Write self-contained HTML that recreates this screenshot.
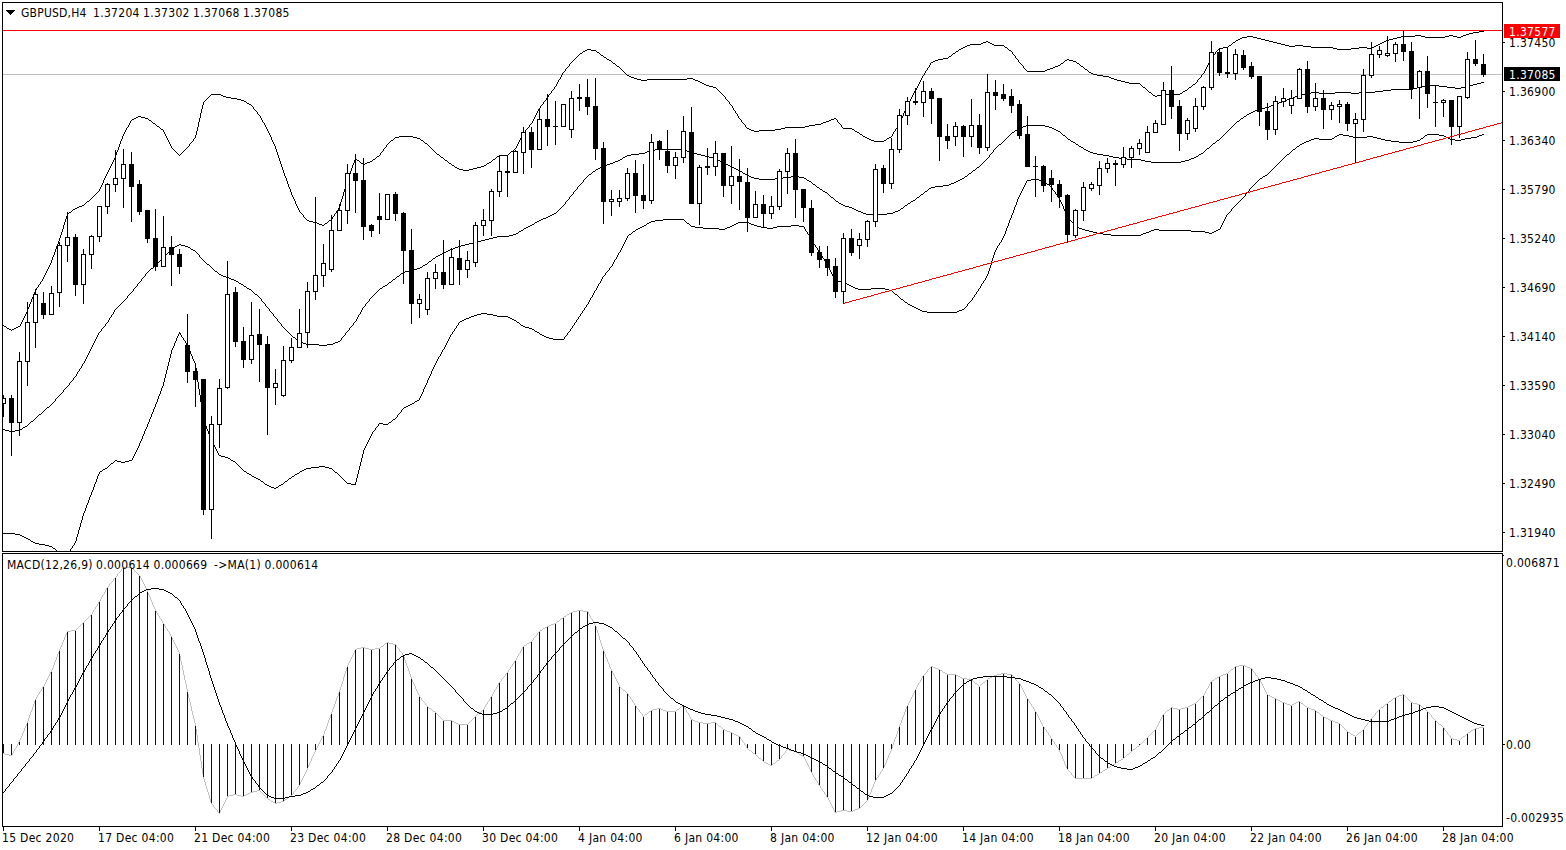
<!DOCTYPE html>
<html><head><meta charset="utf-8"><title>GBPUSD,H4</title>
<style>
html,body{margin:0;padding:0;background:#fff;overflow:hidden}
svg{display:block}
text{font-family:"DejaVu Sans Condensed","DejaVu Sans","Liberation Sans",sans-serif;font-size:12px;fill:#000;font-stretch:condensed;letter-spacing:0.3px}
</style></head><body>
<svg width="1566" height="850" viewBox="0 0 1566 850">
<rect x="0" y="0" width="1566" height="850" fill="#fff"/>
<defs>
<clipPath id="cm"><rect x="3" y="3" width="1499" height="548"/></clipPath>
<clipPath id="cd"><rect x="3" y="554" width="1499" height="272"/></clipPath>
</defs>

<g shape-rendering="crispEdges" fill="none" stroke="#000" stroke-width="1">
<path d="M2.5,551.5 V2.5 H1502.5 V551.5 H2.5"/>
<path d="M2.5,826.5 V553.5 H1502.5 V826.5 H2.5"/>
</g>
<g clip-path="url(#cm)">
<g shape-rendering="crispEdges">
<line x1="3" y1="74.5" x2="1502" y2="74.5" stroke="#c0c0c0" stroke-width="1"/>
<line x1="3" y1="30.5" x2="1502" y2="30.5" stroke="#ff0000" stroke-width="1"/>
</g>
<g fill="none" stroke="#000" stroke-width="1" shape-rendering="crispEdges">
<path fill="#000" stroke="none" shape-rendering="crispEdges" d="M1479 31h5v1h-5zM1473 32h6v1h-6zM1469 33h4v1h-4zM1466 34h3v1h-3zM1415 35h6v1h-6zM1449 35h4v1h-4zM1463 35h3v1h-3zM1247 36h6v1h-6zM1401 36h14v1h-14zM1421 36h4v1h-4zM1445 36h4v1h-4zM1453 36h4v1h-4zM1461 36h2v1h-2zM1242 37h5v1h-5zM1253 37h4v1h-4zM1397 37h4v1h-4zM1425 37h20v1h-20zM1457 37h4v1h-4zM1240 38h2v1h-2zM1257 38h4v1h-4zM1393 38h4v1h-4zM1238 39h2v1h-2zM1261 39h4v1h-4zM1389 39h4v1h-4zM1236 40h2v1h-2zM1265 40h4v1h-4zM1386 40h3v1h-3zM986 41h2v1h-2zM1235 41h1v1h-1zM1269 41h4v1h-4zM1384 41h2v1h-2zM983 42h3v1h-3zM988 42h2v1h-2zM1233 42h2v1h-2zM1273 42h4v1h-4zM1382 42h2v1h-2zM981 43h2v1h-2zM990 43h2v1h-2zM1232 43h1v1h-1zM1277 43h4v1h-4zM1380 43h2v1h-2zM970 44h11v1h-11zM992 44h2v1h-2zM1231 44h1v1h-1zM1281 44h4v1h-4zM1378 44h2v1h-2zM967 45h3v1h-3zM994 45h10v1h-10zM1229 45h2v1h-2zM1285 45h4v1h-4zM1295 45h8v1h-8zM1376 45h2v1h-2zM965 46h2v1h-2zM1004 46h1v1h-1zM1228 46h1v1h-1zM1289 46h6v1h-6zM1303 46h8v1h-8zM1374 46h2v1h-2zM963 47h2v1h-2zM1005 47h2v1h-2zM1223 47h5v1h-5zM1311 47h22v1h-22zM1359 47h8v1h-8zM1372 47h2v1h-2zM961 48h2v1h-2zM1007 48h1v1h-1zM1219 48h4v1h-4zM1333 48h4v1h-4zM1351 48h8v1h-8zM1367 48h5v1h-5zM587 49h4v1h-4zM959 49h2v1h-2zM1008 49h1v1h-1zM1218 49h1v1h-1zM1337 49h14v1h-14zM585 50h2v1h-2zM591 50h5v1h-5zM958 50h1v1h-1zM1009 50h2v1h-2zM1217 50h1v1h-1zM583 51h2v1h-2zM596 51h1v1h-1zM956 51h2v1h-2zM1011 51h1v1h-1zM1216 51h1v1h-1zM582 52h1v1h-1zM597 52h2v1h-2zM955 52h1v1h-1zM1012 52h1v1h-1zM1215 52h1v1h-1zM580 53h2v1h-2zM599 53h1v1h-1zM953 53h2v1h-2zM1012 53h1v1h-1zM1215 53h1v1h-1zM579 54h1v1h-1zM600 54h1v1h-1zM952 54h1v1h-1zM1013 54h1v1h-1zM1214 54h1v1h-1zM578 55h1v1h-1zM601 55h2v1h-2zM951 55h1v1h-1zM1014 55h1v1h-1zM1213 55h1v1h-1zM577 56h1v1h-1zM603 56h1v1h-1zM949 56h2v1h-2zM1015 56h1v1h-1zM1212 56h1v1h-1zM576 57h1v1h-1zM604 57h2v1h-2zM948 57h1v1h-1zM1015 57h1v1h-1zM1211 57h1v1h-1zM575 58h1v1h-1zM606 58h1v1h-1zM943 58h5v1h-5zM1016 58h1v1h-1zM1211 58h1v1h-1zM574 59h1v1h-1zM607 59h2v1h-2zM938 59h5v1h-5zM1017 59h1v1h-1zM1067 59h2v1h-2zM1210 59h1v1h-1zM573 60h1v1h-1zM609 60h2v1h-2zM935 60h3v1h-3zM1018 60h1v1h-1zM1065 60h2v1h-2zM1069 60h4v1h-4zM1210 60h1v1h-1zM572 61h1v1h-1zM611 61h1v1h-1zM933 61h2v1h-2zM1018 61h1v1h-1zM1064 61h1v1h-1zM1073 61h3v1h-3zM1209 61h1v1h-1zM571 62h1v1h-1zM612 62h1v1h-1zM931 62h2v1h-2zM1019 62h1v1h-1zM1063 62h1v1h-1zM1076 62h1v1h-1zM1209 62h1v1h-1zM570 63h1v1h-1zM613 63h2v1h-2zM930 63h1v1h-1zM1020 63h1v1h-1zM1061 63h2v1h-2zM1077 63h2v1h-2zM1208 63h1v1h-1zM569 64h1v1h-1zM615 64h1v1h-1zM930 64h1v1h-1zM1021 64h1v1h-1zM1060 64h1v1h-1zM1079 64h1v1h-1zM1208 64h1v1h-1zM569 65h1v1h-1zM616 65h1v1h-1zM929 65h1v1h-1zM1022 65h1v1h-1zM1058 65h2v1h-2zM1080 65h1v1h-1zM1207 65h1v1h-1zM568 66h1v1h-1zM617 66h2v1h-2zM929 66h1v1h-1zM1023 66h1v1h-1zM1055 66h3v1h-3zM1081 66h2v1h-2zM1207 66h1v1h-1zM567 67h1v1h-1zM619 67h1v1h-1zM928 67h1v1h-1zM1023 67h1v1h-1zM1053 67h2v1h-2zM1083 67h1v1h-1zM1206 67h1v1h-1zM566 68h1v1h-1zM620 68h1v1h-1zM927 68h1v1h-1zM1024 68h1v1h-1zM1050 68h3v1h-3zM1084 68h1v1h-1zM1206 68h1v1h-1zM565 69h1v1h-1zM621 69h1v1h-1zM927 69h1v1h-1zM1025 69h1v1h-1zM1047 69h3v1h-3zM1085 69h2v1h-2zM1205 69h1v1h-1zM565 70h1v1h-1zM622 70h1v1h-1zM926 70h1v1h-1zM1026 70h1v1h-1zM1045 70h2v1h-2zM1087 70h1v1h-1zM1205 70h1v1h-1zM564 71h1v1h-1zM623 71h1v1h-1zM925 71h1v1h-1zM1027 71h18v1h-18zM1088 71h1v1h-1zM1204 71h1v1h-1zM563 72h1v1h-1zM624 72h1v1h-1zM925 72h1v1h-1zM1089 72h2v1h-2zM1204 72h1v1h-1zM562 73h1v1h-1zM625 73h1v1h-1zM924 73h1v1h-1zM1091 73h2v1h-2zM1203 73h1v1h-1zM562 74h1v1h-1zM626 74h1v1h-1zM924 74h1v1h-1zM1093 74h4v1h-4zM1202 74h1v1h-1zM561 75h1v1h-1zM627 75h2v1h-2zM923 75h1v1h-1zM1097 75h6v1h-6zM1201 75h1v1h-1zM561 76h1v1h-1zM629 76h2v1h-2zM922 76h1v1h-1zM1103 76h6v1h-6zM1201 76h1v1h-1zM560 77h1v1h-1zM631 77h3v1h-3zM922 77h1v1h-1zM1109 77h2v1h-2zM1200 77h1v1h-1zM560 78h1v1h-1zM634 78h3v1h-3zM687 78h6v1h-6zM921 78h1v1h-1zM1111 78h3v1h-3zM1199 78h1v1h-1zM559 79h1v1h-1zM637 79h4v1h-4zM647 79h40v1h-40zM693 79h2v1h-2zM921 79h1v1h-1zM1114 79h3v1h-3zM1198 79h1v1h-1zM558 80h1v1h-1zM641 80h6v1h-6zM695 80h3v1h-3zM920 80h1v1h-1zM1117 80h4v1h-4zM1197 80h1v1h-1zM558 81h1v1h-1zM698 81h2v1h-2zM920 81h1v1h-1zM1121 81h4v1h-4zM1197 81h1v1h-1zM557 82h1v1h-1zM700 82h2v1h-2zM919 82h1v1h-1zM1125 82h4v1h-4zM1196 82h1v1h-1zM557 83h1v1h-1zM702 83h2v1h-2zM919 83h1v1h-1zM1129 83h11v1h-11zM1195 83h1v1h-1zM556 84h1v1h-1zM704 84h2v1h-2zM918 84h1v1h-1zM1140 84h1v1h-1zM1193 84h2v1h-2zM556 85h1v1h-1zM706 85h3v1h-3zM918 85h1v1h-1zM1141 85h1v1h-1zM1192 85h1v1h-1zM555 86h1v1h-1zM709 86h4v1h-4zM917 86h1v1h-1zM1142 86h1v1h-1zM1191 86h1v1h-1zM554 87h1v1h-1zM713 87h3v1h-3zM917 87h1v1h-1zM1143 87h2v1h-2zM1189 87h2v1h-2zM554 88h1v1h-1zM716 88h1v1h-1zM916 88h1v1h-1zM1145 88h1v1h-1zM1188 88h1v1h-1zM553 89h1v1h-1zM717 89h1v1h-1zM916 89h1v1h-1zM1146 89h1v1h-1zM1187 89h1v1h-1zM552 90h1v1h-1zM718 90h1v1h-1zM915 90h1v1h-1zM1147 90h1v1h-1zM1185 90h2v1h-2zM551 91h1v1h-1zM719 91h1v1h-1zM914 91h1v1h-1zM1148 91h1v1h-1zM1183 91h2v1h-2zM551 92h1v1h-1zM720 92h1v1h-1zM914 92h1v1h-1zM1149 92h2v1h-2zM1182 92h1v1h-1zM550 93h1v1h-1zM721 93h1v1h-1zM913 93h1v1h-1zM1151 93h1v1h-1zM1180 93h2v1h-2zM211 94h10v1h-10zM549 94h1v1h-1zM722 94h1v1h-1zM913 94h1v1h-1zM1152 94h1v1h-1zM1161 94h19v1h-19zM210 95h1v1h-1zM221 95h2v1h-2zM548 95h1v1h-1zM723 95h1v1h-1zM912 95h1v1h-1zM1153 95h2v1h-2zM1157 95h4v1h-4zM209 96h1v1h-1zM223 96h3v1h-3zM548 96h1v1h-1zM724 96h1v1h-1zM912 96h1v1h-1zM1155 96h2v1h-2zM208 97h1v1h-1zM226 97h5v1h-5zM547 97h1v1h-1zM725 97h1v1h-1zM911 97h1v1h-1zM207 98h1v1h-1zM231 98h6v1h-6zM546 98h1v1h-1zM725 98h1v1h-1zM911 98h1v1h-1zM206 99h1v1h-1zM237 99h4v1h-4zM546 99h1v1h-1zM726 99h1v1h-1zM910 99h1v1h-1zM205 100h1v1h-1zM241 100h3v1h-3zM545 100h1v1h-1zM727 100h1v1h-1zM910 100h1v1h-1zM204 101h1v1h-1zM244 101h2v1h-2zM544 101h1v1h-1zM728 101h1v1h-1zM909 101h1v1h-1zM203 102h1v1h-1zM246 102h1v1h-1zM543 102h1v1h-1zM729 102h1v1h-1zM909 102h1v1h-1zM203 103h1v1h-1zM247 103h2v1h-2zM543 103h1v1h-1zM729 103h1v1h-1zM908 103h1v1h-1zM203 104h1v1h-1zM249 104h2v1h-2zM542 104h1v1h-1zM730 104h1v1h-1zM908 104h1v1h-1zM202 105h1v1h-1zM251 105h1v1h-1zM541 105h1v1h-1zM731 105h1v1h-1zM907 105h1v1h-1zM202 106h1v1h-1zM252 106h1v1h-1zM540 106h1v1h-1zM732 106h1v1h-1zM907 106h1v1h-1zM202 107h1v1h-1zM253 107h1v1h-1zM540 107h1v1h-1zM732 107h1v1h-1zM906 107h1v1h-1zM202 108h1v1h-1zM253 108h1v1h-1zM539 108h1v1h-1zM733 108h1v1h-1zM906 108h1v1h-1zM201 109h1v1h-1zM254 109h1v1h-1zM538 109h1v1h-1zM733 109h1v1h-1zM905 109h1v1h-1zM201 110h1v1h-1zM255 110h1v1h-1zM538 110h1v1h-1zM734 110h1v1h-1zM905 110h1v1h-1zM201 111h1v1h-1zM256 111h1v1h-1zM537 111h1v1h-1zM735 111h1v1h-1zM904 111h1v1h-1zM201 112h1v1h-1zM257 112h1v1h-1zM537 112h1v1h-1zM735 112h1v1h-1zM904 112h1v1h-1zM200 113h1v1h-1zM257 113h1v1h-1zM536 113h1v1h-1zM736 113h1v1h-1zM903 113h1v1h-1zM200 114h1v1h-1zM258 114h1v1h-1zM536 114h1v1h-1zM737 114h1v1h-1zM903 114h1v1h-1zM200 115h1v1h-1zM259 115h1v1h-1zM535 115h1v1h-1zM737 115h1v1h-1zM903 115h1v1h-1zM138 116h3v1h-3zM200 116h1v1h-1zM260 116h1v1h-1zM535 116h1v1h-1zM738 116h1v1h-1zM902 116h1v1h-1zM136 117h2v1h-2zM141 117h4v1h-4zM200 117h1v1h-1zM260 117h1v1h-1zM534 117h1v1h-1zM738 117h1v1h-1zM902 117h1v1h-1zM134 118h2v1h-2zM145 118h3v1h-3zM199 118h1v1h-1zM261 118h1v1h-1zM534 118h1v1h-1zM739 118h1v1h-1zM834 118h2v1h-2zM901 118h1v1h-1zM132 119h2v1h-2zM148 119h1v1h-1zM199 119h1v1h-1zM261 119h1v1h-1zM533 119h1v1h-1zM740 119h1v1h-1zM831 119h3v1h-3zM836 119h1v1h-1zM901 119h1v1h-1zM131 120h1v1h-1zM149 120h2v1h-2zM199 120h1v1h-1zM262 120h1v1h-1zM533 120h1v1h-1zM741 120h1v1h-1zM829 120h2v1h-2zM837 120h1v1h-1zM900 120h1v1h-1zM130 121h1v1h-1zM151 121h1v1h-1zM199 121h1v1h-1zM262 121h1v1h-1zM532 121h1v1h-1zM741 121h1v1h-1zM826 121h3v1h-3zM837 121h1v1h-1zM900 121h1v1h-1zM130 122h1v1h-1zM152 122h1v1h-1zM198 122h1v1h-1zM263 122h1v1h-1zM532 122h1v1h-1zM742 122h1v1h-1zM823 122h3v1h-3zM838 122h1v1h-1zM899 122h1v1h-1zM129 123h1v1h-1zM153 123h2v1h-2zM198 123h1v1h-1zM264 123h1v1h-1zM531 123h1v1h-1zM743 123h1v1h-1zM821 123h2v1h-2zM839 123h1v1h-1zM899 123h1v1h-1zM129 124h1v1h-1zM155 124h1v1h-1zM198 124h1v1h-1zM264 124h1v1h-1zM530 124h1v1h-1zM744 124h1v1h-1zM815 124h6v1h-6zM840 124h1v1h-1zM898 124h1v1h-1zM128 125h1v1h-1zM156 125h1v1h-1zM198 125h1v1h-1zM265 125h1v1h-1zM529 125h1v1h-1zM745 125h1v1h-1zM809 125h6v1h-6zM841 125h1v1h-1zM898 125h1v1h-1zM128 126h1v1h-1zM157 126h2v1h-2zM198 126h1v1h-1zM265 126h1v1h-1zM529 126h1v1h-1zM745 126h1v1h-1zM805 126h4v1h-4zM841 126h1v1h-1zM897 126h1v1h-1zM127 127h1v1h-1zM159 127h1v1h-1zM197 127h1v1h-1zM266 127h1v1h-1zM528 127h1v1h-1zM746 127h1v1h-1zM785 127h20v1h-20zM842 127h1v1h-1zM897 127h1v1h-1zM126 128h1v1h-1zM160 128h1v1h-1zM197 128h1v1h-1zM266 128h1v1h-1zM527 128h1v1h-1zM747 128h2v1h-2zM781 128h4v1h-4zM843 128h9v1h-9zM896 128h1v1h-1zM126 129h1v1h-1zM161 129h2v1h-2zM197 129h1v1h-1zM267 129h1v1h-1zM526 129h1v1h-1zM749 129h2v1h-2zM775 129h6v1h-6zM852 129h2v1h-2zM895 129h1v1h-1zM125 130h1v1h-1zM163 130h1v1h-1zM197 130h1v1h-1zM267 130h1v1h-1zM525 130h1v1h-1zM751 130h3v1h-3zM759 130h16v1h-16zM854 130h1v1h-1zM895 130h1v1h-1zM125 131h1v1h-1zM163 131h1v1h-1zM196 131h1v1h-1zM268 131h1v1h-1zM525 131h1v1h-1zM754 131h5v1h-5zM855 131h2v1h-2zM894 131h1v1h-1zM124 132h1v1h-1zM164 132h1v1h-1zM196 132h1v1h-1zM268 132h1v1h-1zM524 132h1v1h-1zM857 132h2v1h-2zM893 132h1v1h-1zM124 133h1v1h-1zM164 133h1v1h-1zM196 133h1v1h-1zM269 133h1v1h-1zM523 133h1v1h-1zM859 133h1v1h-1zM893 133h1v1h-1zM123 134h1v1h-1zM165 134h1v1h-1zM196 134h1v1h-1zM269 134h1v1h-1zM522 134h1v1h-1zM860 134h2v1h-2zM892 134h1v1h-1zM123 135h1v1h-1zM165 135h1v1h-1zM195 135h1v1h-1zM270 135h1v1h-1zM522 135h1v1h-1zM862 135h1v1h-1zM892 135h1v1h-1zM122 136h1v1h-1zM166 136h1v1h-1zM195 136h1v1h-1zM270 136h1v1h-1zM399 136h14v1h-14zM521 136h1v1h-1zM863 136h2v1h-2zM891 136h1v1h-1zM122 137h1v1h-1zM166 137h1v1h-1zM195 137h1v1h-1zM271 137h1v1h-1zM395 137h4v1h-4zM413 137h4v1h-4zM521 137h1v1h-1zM865 137h2v1h-2zM889 137h2v1h-2zM122 138h1v1h-1zM167 138h1v1h-1zM194 138h1v1h-1zM271 138h1v1h-1zM394 138h1v1h-1zM417 138h3v1h-3zM520 138h1v1h-1zM867 138h2v1h-2zM887 138h2v1h-2zM121 139h1v1h-1zM167 139h1v1h-1zM193 139h1v1h-1zM271 139h1v1h-1zM393 139h1v1h-1zM420 139h1v1h-1zM520 139h1v1h-1zM869 139h2v1h-2zM886 139h1v1h-1zM121 140h1v1h-1zM168 140h1v1h-1zM193 140h1v1h-1zM272 140h1v1h-1zM391 140h2v1h-2zM421 140h2v1h-2zM519 140h1v1h-1zM871 140h3v1h-3zM884 140h2v1h-2zM120 141h1v1h-1zM168 141h1v1h-1zM192 141h1v1h-1zM272 141h1v1h-1zM390 141h1v1h-1zM423 141h1v1h-1zM519 141h1v1h-1zM874 141h10v1h-10zM120 142h1v1h-1zM169 142h1v1h-1zM191 142h1v1h-1zM273 142h1v1h-1zM389 142h1v1h-1zM424 142h1v1h-1zM518 142h1v1h-1zM120 143h1v1h-1zM169 143h1v1h-1zM190 143h1v1h-1zM273 143h1v1h-1zM388 143h1v1h-1zM425 143h2v1h-2zM518 143h1v1h-1zM119 144h1v1h-1zM170 144h1v1h-1zM189 144h1v1h-1zM274 144h1v1h-1zM387 144h1v1h-1zM427 144h1v1h-1zM517 144h1v1h-1zM119 145h1v1h-1zM170 145h1v1h-1zM189 145h1v1h-1zM274 145h1v1h-1zM386 145h1v1h-1zM428 145h1v1h-1zM517 145h1v1h-1zM119 146h1v1h-1zM171 146h1v1h-1zM188 146h1v1h-1zM275 146h1v1h-1zM386 146h1v1h-1zM429 146h1v1h-1zM516 146h1v1h-1zM118 147h1v1h-1zM171 147h1v1h-1zM187 147h1v1h-1zM275 147h1v1h-1zM385 147h1v1h-1zM430 147h1v1h-1zM516 147h1v1h-1zM118 148h1v1h-1zM172 148h1v1h-1zM186 148h1v1h-1zM275 148h1v1h-1zM384 148h1v1h-1zM431 148h1v1h-1zM515 148h1v1h-1zM118 149h1v1h-1zM173 149h1v1h-1zM185 149h1v1h-1zM276 149h1v1h-1zM383 149h1v1h-1zM432 149h1v1h-1zM514 149h1v1h-1zM117 150h1v1h-1zM174 150h1v1h-1zM184 150h1v1h-1zM276 150h1v1h-1zM383 150h1v1h-1zM433 150h1v1h-1zM513 150h1v1h-1zM117 151h1v1h-1zM175 151h1v1h-1zM183 151h1v1h-1zM276 151h1v1h-1zM382 151h1v1h-1zM434 151h1v1h-1zM511 151h2v1h-2zM116 152h1v1h-1zM176 152h1v1h-1zM182 152h1v1h-1zM277 152h1v1h-1zM381 152h1v1h-1zM435 152h1v1h-1zM510 152h1v1h-1zM116 153h1v1h-1zM177 153h1v1h-1zM181 153h1v1h-1zM277 153h1v1h-1zM380 153h1v1h-1zM436 153h1v1h-1zM509 153h1v1h-1zM116 154h1v1h-1zM178 154h1v1h-1zM180 154h1v1h-1zM277 154h1v1h-1zM380 154h1v1h-1zM437 154h2v1h-2zM508 154h1v1h-1zM115 155h1v1h-1zM179 155h1v1h-1zM278 155h1v1h-1zM379 155h1v1h-1zM439 155h1v1h-1zM499 155h9v1h-9zM115 156h1v1h-1zM278 156h1v1h-1zM377 156h2v1h-2zM440 156h1v1h-1zM497 156h2v1h-2zM115 157h1v1h-1zM278 157h1v1h-1zM376 157h1v1h-1zM441 157h2v1h-2zM496 157h1v1h-1zM114 158h1v1h-1zM279 158h1v1h-1zM355 158h1v1h-1zM375 158h1v1h-1zM443 158h1v1h-1zM495 158h1v1h-1zM114 159h1v1h-1zM279 159h1v1h-1zM355 159h2v1h-2zM373 159h2v1h-2zM444 159h1v1h-1zM493 159h2v1h-2zM113 160h1v1h-1zM279 160h1v1h-1zM354 160h1v1h-1zM357 160h2v1h-2zM372 160h1v1h-1zM445 160h2v1h-2zM492 160h1v1h-1zM113 161h1v1h-1zM280 161h1v1h-1zM354 161h1v1h-1zM359 161h1v1h-1zM370 161h2v1h-2zM447 161h1v1h-1zM491 161h1v1h-1zM112 162h1v1h-1zM280 162h1v1h-1zM354 162h1v1h-1zM360 162h1v1h-1zM367 162h3v1h-3zM448 162h1v1h-1zM489 162h2v1h-2zM112 163h1v1h-1zM280 163h1v1h-1zM353 163h1v1h-1zM361 163h2v1h-2zM365 163h2v1h-2zM449 163h2v1h-2zM487 163h2v1h-2zM111 164h1v1h-1zM281 164h1v1h-1zM353 164h1v1h-1zM363 164h2v1h-2zM451 164h1v1h-1zM486 164h1v1h-1zM111 165h1v1h-1zM281 165h1v1h-1zM352 165h1v1h-1zM452 165h2v1h-2zM484 165h2v1h-2zM110 166h1v1h-1zM281 166h1v1h-1zM352 166h1v1h-1zM454 166h1v1h-1zM481 166h3v1h-3zM110 167h1v1h-1zM282 167h1v1h-1zM352 167h1v1h-1zM455 167h2v1h-2zM477 167h4v1h-4zM109 168h1v1h-1zM282 168h1v1h-1zM351 168h1v1h-1zM457 168h2v1h-2zM473 168h4v1h-4zM109 169h1v1h-1zM282 169h1v1h-1zM351 169h1v1h-1zM459 169h4v1h-4zM469 169h4v1h-4zM108 170h1v1h-1zM283 170h1v1h-1zM351 170h1v1h-1zM463 170h6v1h-6zM108 171h1v1h-1zM283 171h1v1h-1zM350 171h1v1h-1zM107 172h1v1h-1zM283 172h1v1h-1zM350 172h1v1h-1zM107 173h1v1h-1zM284 173h1v1h-1zM350 173h1v1h-1zM106 174h1v1h-1zM284 174h1v1h-1zM349 174h1v1h-1zM106 175h1v1h-1zM284 175h1v1h-1zM349 175h1v1h-1zM105 176h1v1h-1zM285 176h1v1h-1zM348 176h1v1h-1zM105 177h1v1h-1zM285 177h1v1h-1zM348 177h1v1h-1zM104 178h1v1h-1zM286 178h1v1h-1zM348 178h1v1h-1zM104 179h1v1h-1zM286 179h1v1h-1zM347 179h1v1h-1zM103 180h1v1h-1zM286 180h1v1h-1zM347 180h1v1h-1zM103 181h1v1h-1zM287 181h1v1h-1zM347 181h1v1h-1zM103 182h1v1h-1zM287 182h1v1h-1zM346 182h1v1h-1zM102 183h1v1h-1zM287 183h1v1h-1zM346 183h1v1h-1zM102 184h1v1h-1zM288 184h1v1h-1zM346 184h1v1h-1zM101 185h1v1h-1zM288 185h1v1h-1zM346 185h1v1h-1zM101 186h1v1h-1zM288 186h1v1h-1zM345 186h1v1h-1zM100 187h1v1h-1zM289 187h1v1h-1zM345 187h1v1h-1zM100 188h1v1h-1zM289 188h1v1h-1zM345 188h1v1h-1zM99 189h1v1h-1zM290 189h1v1h-1zM344 189h1v1h-1zM99 190h1v1h-1zM290 190h1v1h-1zM344 190h1v1h-1zM98 191h1v1h-1zM290 191h1v1h-1zM344 191h1v1h-1zM97 192h1v1h-1zM291 192h1v1h-1zM343 192h1v1h-1zM96 193h1v1h-1zM291 193h1v1h-1zM343 193h1v1h-1zM95 194h1v1h-1zM291 194h1v1h-1zM343 194h1v1h-1zM94 195h1v1h-1zM292 195h1v1h-1zM343 195h1v1h-1zM93 196h1v1h-1zM292 196h1v1h-1zM342 196h1v1h-1zM92 197h1v1h-1zM293 197h1v1h-1zM342 197h1v1h-1zM91 198h1v1h-1zM293 198h1v1h-1zM342 198h1v1h-1zM90 199h1v1h-1zM294 199h1v1h-1zM341 199h1v1h-1zM89 200h1v1h-1zM294 200h1v1h-1zM341 200h1v1h-1zM87 201h2v1h-2zM295 201h1v1h-1zM341 201h1v1h-1zM86 202h1v1h-1zM295 202h1v1h-1zM340 202h1v1h-1zM85 203h1v1h-1zM295 203h1v1h-1zM340 203h1v1h-1zM84 204h1v1h-1zM296 204h1v1h-1zM340 204h1v1h-1zM82 205h2v1h-2zM296 205h1v1h-1zM340 205h1v1h-1zM79 206h3v1h-3zM297 206h1v1h-1zM339 206h1v1h-1zM77 207h2v1h-2zM297 207h1v1h-1zM339 207h1v1h-1zM75 208h2v1h-2zM298 208h1v1h-1zM338 208h1v1h-1zM73 209h2v1h-2zM298 209h1v1h-1zM338 209h1v1h-1zM72 210h1v1h-1zM299 210h1v1h-1zM337 210h1v1h-1zM71 211h1v1h-1zM299 211h1v1h-1zM336 211h1v1h-1zM69 212h2v1h-2zM300 212h1v1h-1zM336 212h1v1h-1zM68 213h1v1h-1zM301 213h1v1h-1zM335 213h1v1h-1zM67 214h1v1h-1zM302 214h1v1h-1zM334 214h1v1h-1zM67 215h1v1h-1zM303 215h1v1h-1zM334 215h1v1h-1zM66 216h1v1h-1zM303 216h1v1h-1zM333 216h1v1h-1zM66 217h1v1h-1zM304 217h1v1h-1zM332 217h1v1h-1zM66 218h1v1h-1zM305 218h1v1h-1zM332 218h1v1h-1zM65 219h1v1h-1zM306 219h1v1h-1zM331 219h1v1h-1zM65 220h1v1h-1zM307 220h2v1h-2zM329 220h2v1h-2zM65 221h1v1h-1zM309 221h4v1h-4zM328 221h1v1h-1zM64 222h1v1h-1zM313 222h4v1h-4zM327 222h1v1h-1zM64 223h1v1h-1zM317 223h2v1h-2zM325 223h2v1h-2zM64 224h1v1h-1zM319 224h3v1h-3zM324 224h1v1h-1zM63 225h1v1h-1zM322 225h2v1h-2zM63 226h1v1h-1zM63 227h1v1h-1zM63 228h1v1h-1zM62 229h1v1h-1zM62 230h1v1h-1zM62 231h1v1h-1zM61 232h1v1h-1zM61 233h1v1h-1zM61 234h1v1h-1zM60 235h1v1h-1zM60 236h1v1h-1zM60 237h1v1h-1zM59 238h1v1h-1zM59 239h1v1h-1zM59 240h1v1h-1zM58 241h1v1h-1zM58 242h1v1h-1zM58 243h1v1h-1zM57 244h1v1h-1zM57 245h1v1h-1zM56 246h1v1h-1zM56 247h1v1h-1zM56 248h1v1h-1zM55 249h1v1h-1zM55 250h1v1h-1zM55 251h1v1h-1zM54 252h1v1h-1zM54 253h1v1h-1zM54 254h1v1h-1zM53 255h1v1h-1zM53 256h1v1h-1zM52 257h1v1h-1zM52 258h1v1h-1zM52 259h1v1h-1zM51 260h1v1h-1zM51 261h1v1h-1zM51 262h1v1h-1zM50 263h1v1h-1zM50 264h1v1h-1zM49 265h1v1h-1zM49 266h1v1h-1zM48 267h1v1h-1zM48 268h1v1h-1zM47 269h1v1h-1zM47 270h1v1h-1zM46 271h1v1h-1zM46 272h1v1h-1zM45 273h1v1h-1zM45 274h1v1h-1zM44 275h1v1h-1zM44 276h1v1h-1zM43 277h1v1h-1zM43 278h1v1h-1zM42 279h1v1h-1zM42 280h1v1h-1zM41 281h1v1h-1zM40 282h1v1h-1zM40 283h1v1h-1zM39 284h1v1h-1zM38 285h1v1h-1zM38 286h1v1h-1zM37 287h1v1h-1zM36 288h1v1h-1zM36 289h1v1h-1zM35 290h1v1h-1zM35 291h1v1h-1zM34 292h1v1h-1zM34 293h1v1h-1zM33 294h1v1h-1zM33 295h1v1h-1zM33 296h1v1h-1zM32 297h1v1h-1zM32 298h1v1h-1zM31 299h1v1h-1zM31 300h1v1h-1zM31 301h1v1h-1zM30 302h1v1h-1zM30 303h1v1h-1zM29 304h1v1h-1zM29 305h1v1h-1zM29 306h1v1h-1zM28 307h1v1h-1zM28 308h1v1h-1zM27 309h1v1h-1zM27 310h1v1h-1zM27 311h1v1h-1zM26 312h1v1h-1zM26 313h1v1h-1zM25 314h1v1h-1zM25 315h1v1h-1zM24 316h1v1h-1zM24 317h1v1h-1zM23 318h1v1h-1zM23 319h1v1h-1zM22 320h1v1h-1zM22 321h1v1h-1zM21 322h1v1h-1zM21 323h1v1h-1zM20 324h1v1h-1zM3 325h1v1h-1zM20 325h1v1h-1zM4 326h2v1h-2zM18 326h2v1h-2zM6 327h1v1h-1zM16 327h2v1h-2zM7 328h2v1h-2zM14 328h2v1h-2zM9 329h2v1h-2zM12 329h2v1h-2zM11 330h1v1h-1z"/>
<path fill="#000" stroke="none" shape-rendering="crispEdges" d="M1481 82h3v1h-3zM1477 83h4v1h-4zM1473 84h4v1h-4zM1425 85h14v1h-14zM1469 85h4v1h-4zM1421 86h4v1h-4zM1439 86h8v1h-8zM1465 86h4v1h-4zM1417 87h4v1h-4zM1447 87h8v1h-8zM1461 87h4v1h-4zM1413 88h4v1h-4zM1455 88h6v1h-6zM1391 89h22v1h-22zM1383 90h8v1h-8zM1375 91h8v1h-8zM1311 92h8v1h-8zM1335 92h16v1h-16zM1359 92h16v1h-16zM1305 93h6v1h-6zM1319 93h16v1h-16zM1351 93h8v1h-8zM1301 94h4v1h-4zM1298 95h3v1h-3zM1295 96h3v1h-3zM1293 97h2v1h-2zM1290 98h3v1h-3zM1287 99h3v1h-3zM1285 100h2v1h-2zM1282 101h3v1h-3zM1279 102h3v1h-3zM1277 103h2v1h-2zM1274 104h3v1h-3zM1271 105h3v1h-3zM1269 106h2v1h-2zM1265 107h4v1h-4zM1261 108h4v1h-4zM1258 109h3v1h-3zM1255 110h3v1h-3zM1253 111h2v1h-2zM1251 112h2v1h-2zM1249 113h2v1h-2zM1247 114h2v1h-2zM1246 115h1v1h-1zM1244 116h2v1h-2zM1243 117h1v1h-1zM1241 118h2v1h-2zM1240 119h1v1h-1zM1239 120h1v1h-1zM1237 121h2v1h-2zM1236 122h1v1h-1zM1235 123h1v1h-1zM1234 124h1v1h-1zM1026 125h19v1h-19zM1233 125h1v1h-1zM1023 126h3v1h-3zM1045 126h4v1h-4zM1232 126h1v1h-1zM1021 127h2v1h-2zM1049 127h3v1h-3zM1231 127h1v1h-1zM1019 128h2v1h-2zM1052 128h2v1h-2zM1230 128h1v1h-1zM1017 129h2v1h-2zM1054 129h2v1h-2zM1229 129h1v1h-1zM1015 130h2v1h-2zM1056 130h2v1h-2zM1228 130h1v1h-1zM1014 131h1v1h-1zM1058 131h2v1h-2zM1227 131h1v1h-1zM1012 132h2v1h-2zM1060 132h1v1h-1zM1226 132h1v1h-1zM1011 133h1v1h-1zM1061 133h1v1h-1zM1225 133h1v1h-1zM1010 134h1v1h-1zM1062 134h1v1h-1zM1224 134h1v1h-1zM1009 135h1v1h-1zM1063 135h2v1h-2zM1223 135h1v1h-1zM1008 136h1v1h-1zM1065 136h1v1h-1zM1222 136h1v1h-1zM1007 137h1v1h-1zM1066 137h1v1h-1zM1221 137h1v1h-1zM1006 138h1v1h-1zM1067 138h1v1h-1zM1220 138h1v1h-1zM1005 139h1v1h-1zM1068 139h2v1h-2zM1219 139h1v1h-1zM1004 140h1v1h-1zM1070 140h1v1h-1zM1217 140h2v1h-2zM1003 141h1v1h-1zM1071 141h2v1h-2zM1216 141h1v1h-1zM1002 142h1v1h-1zM1073 142h2v1h-2zM1215 142h1v1h-1zM1001 143h1v1h-1zM1075 143h1v1h-1zM1213 143h2v1h-2zM999 144h2v1h-2zM1076 144h2v1h-2zM1212 144h1v1h-1zM998 145h1v1h-1zM1078 145h1v1h-1zM1211 145h1v1h-1zM997 146h1v1h-1zM1079 146h2v1h-2zM1210 146h1v1h-1zM996 147h1v1h-1zM1081 147h2v1h-2zM1209 147h1v1h-1zM995 148h1v1h-1zM1083 148h1v1h-1zM1207 148h2v1h-2zM655 149h30v1h-30zM994 149h1v1h-1zM1084 149h2v1h-2zM1206 149h1v1h-1zM650 150h5v1h-5zM685 150h2v1h-2zM993 150h1v1h-1zM1086 150h2v1h-2zM1205 150h1v1h-1zM647 151h3v1h-3zM687 151h3v1h-3zM993 151h1v1h-1zM1088 151h2v1h-2zM1204 151h1v1h-1zM645 152h2v1h-2zM690 152h3v1h-3zM992 152h1v1h-1zM1090 152h3v1h-3zM1203 152h1v1h-1zM639 153h6v1h-6zM693 153h4v1h-4zM991 153h1v1h-1zM1093 153h4v1h-4zM1201 153h2v1h-2zM631 154h8v1h-8zM697 154h4v1h-4zM990 154h1v1h-1zM1097 154h6v1h-6zM1199 154h2v1h-2zM627 155h4v1h-4zM701 155h4v1h-4zM989 155h1v1h-1zM1103 155h6v1h-6zM1198 155h1v1h-1zM625 156h2v1h-2zM705 156h4v1h-4zM989 156h1v1h-1zM1109 156h4v1h-4zM1196 156h2v1h-2zM623 157h2v1h-2zM709 157h4v1h-4zM988 157h1v1h-1zM1113 157h6v1h-6zM1194 157h2v1h-2zM622 158h1v1h-1zM713 158h3v1h-3zM987 158h1v1h-1zM1119 158h8v1h-8zM1191 158h3v1h-3zM620 159h2v1h-2zM716 159h2v1h-2zM986 159h1v1h-1zM1127 159h14v1h-14zM1189 159h2v1h-2zM618 160h2v1h-2zM718 160h2v1h-2zM985 160h1v1h-1zM1141 160h4v1h-4zM1185 160h4v1h-4zM615 161h3v1h-3zM720 161h2v1h-2zM984 161h1v1h-1zM1145 161h6v1h-6zM1181 161h4v1h-4zM613 162h2v1h-2zM722 162h2v1h-2zM983 162h1v1h-1zM1151 162h30v1h-30zM610 163h3v1h-3zM724 163h2v1h-2zM982 163h1v1h-1zM607 164h3v1h-3zM726 164h2v1h-2zM981 164h1v1h-1zM605 165h2v1h-2zM728 165h2v1h-2zM980 165h1v1h-1zM602 166h3v1h-3zM730 166h2v1h-2zM979 166h1v1h-1zM600 167h2v1h-2zM732 167h2v1h-2zM977 167h2v1h-2zM598 168h2v1h-2zM734 168h2v1h-2zM976 168h1v1h-1zM596 169h2v1h-2zM736 169h2v1h-2zM975 169h1v1h-1zM595 170h1v1h-1zM738 170h2v1h-2zM973 170h2v1h-2zM593 171h2v1h-2zM740 171h2v1h-2zM972 171h1v1h-1zM592 172h1v1h-1zM742 172h1v1h-1zM971 172h1v1h-1zM591 173h1v1h-1zM743 173h2v1h-2zM969 173h2v1h-2zM589 174h2v1h-2zM745 174h2v1h-2zM968 174h1v1h-1zM588 175h1v1h-1zM747 175h2v1h-2zM967 175h1v1h-1zM587 176h1v1h-1zM749 176h2v1h-2zM791 176h8v1h-8zM965 176h2v1h-2zM586 177h1v1h-1zM751 177h3v1h-3zM783 177h8v1h-8zM799 177h5v1h-5zM964 177h1v1h-1zM585 178h1v1h-1zM754 178h5v1h-5zM775 178h8v1h-8zM804 178h2v1h-2zM962 178h2v1h-2zM584 179h1v1h-1zM759 179h16v1h-16zM806 179h1v1h-1zM960 179h2v1h-2zM583 180h1v1h-1zM807 180h2v1h-2zM958 180h2v1h-2zM583 181h1v1h-1zM809 181h2v1h-2zM956 181h2v1h-2zM582 182h1v1h-1zM811 182h1v1h-1zM954 182h2v1h-2zM581 183h1v1h-1zM812 183h1v1h-1zM951 183h3v1h-3zM580 184h1v1h-1zM813 184h2v1h-2zM949 184h2v1h-2zM579 185h1v1h-1zM815 185h1v1h-1zM943 185h6v1h-6zM578 186h1v1h-1zM816 186h1v1h-1zM935 186h8v1h-8zM577 187h1v1h-1zM817 187h2v1h-2zM931 187h4v1h-4zM577 188h1v1h-1zM819 188h1v1h-1zM929 188h2v1h-2zM576 189h1v1h-1zM820 189h2v1h-2zM928 189h1v1h-1zM575 190h1v1h-1zM822 190h1v1h-1zM927 190h1v1h-1zM574 191h1v1h-1zM823 191h2v1h-2zM925 191h2v1h-2zM573 192h1v1h-1zM825 192h2v1h-2zM924 192h1v1h-1zM573 193h1v1h-1zM827 193h1v1h-1zM923 193h1v1h-1zM572 194h1v1h-1zM828 194h1v1h-1zM921 194h2v1h-2zM571 195h1v1h-1zM829 195h1v1h-1zM920 195h1v1h-1zM570 196h1v1h-1zM830 196h1v1h-1zM919 196h1v1h-1zM569 197h1v1h-1zM831 197h2v1h-2zM917 197h2v1h-2zM569 198h1v1h-1zM833 198h1v1h-1zM916 198h1v1h-1zM568 199h1v1h-1zM834 199h1v1h-1zM915 199h1v1h-1zM567 200h1v1h-1zM835 200h1v1h-1zM913 200h2v1h-2zM566 201h1v1h-1zM836 201h2v1h-2zM911 201h2v1h-2zM565 202h1v1h-1zM838 202h1v1h-1zM910 202h1v1h-1zM565 203h1v1h-1zM839 203h2v1h-2zM908 203h2v1h-2zM564 204h1v1h-1zM841 204h2v1h-2zM907 204h1v1h-1zM563 205h1v1h-1zM843 205h2v1h-2zM905 205h2v1h-2zM562 206h1v1h-1zM845 206h4v1h-4zM904 206h1v1h-1zM561 207h1v1h-1zM849 207h3v1h-3zM903 207h1v1h-1zM560 208h1v1h-1zM852 208h2v1h-2zM901 208h2v1h-2zM559 209h1v1h-1zM854 209h2v1h-2zM900 209h1v1h-1zM558 210h1v1h-1zM856 210h2v1h-2zM898 210h2v1h-2zM557 211h1v1h-1zM858 211h3v1h-3zM895 211h3v1h-3zM556 212h1v1h-1zM861 212h2v1h-2zM893 212h2v1h-2zM554 213h2v1h-2zM863 213h3v1h-3zM887 213h6v1h-6zM552 214h2v1h-2zM866 214h21v1h-21zM550 215h2v1h-2zM548 216h2v1h-2zM546 217h2v1h-2zM543 218h3v1h-3zM541 219h2v1h-2zM539 220h2v1h-2zM537 221h2v1h-2zM535 222h2v1h-2zM534 223h1v1h-1zM532 224h2v1h-2zM530 225h2v1h-2zM528 226h2v1h-2zM526 227h2v1h-2zM524 228h2v1h-2zM523 229h1v1h-1zM521 230h2v1h-2zM519 231h2v1h-2zM518 232h1v1h-1zM516 233h2v1h-2zM513 234h3v1h-3zM509 235h4v1h-4zM497 236h12v1h-12zM493 237h4v1h-4zM489 238h4v1h-4zM485 239h4v1h-4zM481 240h4v1h-4zM477 241h4v1h-4zM473 242h4v1h-4zM469 243h4v1h-4zM179 244h2v1h-2zM465 244h4v1h-4zM177 245h2v1h-2zM181 245h4v1h-4zM461 245h4v1h-4zM175 246h2v1h-2zM185 246h3v1h-3zM458 246h3v1h-3zM174 247h1v1h-1zM188 247h2v1h-2zM455 247h3v1h-3zM172 248h2v1h-2zM190 248h1v1h-1zM453 248h2v1h-2zM171 249h1v1h-1zM191 249h2v1h-2zM450 249h3v1h-3zM170 250h1v1h-1zM193 250h2v1h-2zM448 250h2v1h-2zM169 251h1v1h-1zM195 251h1v1h-1zM446 251h2v1h-2zM168 252h1v1h-1zM196 252h1v1h-1zM444 252h2v1h-2zM167 253h1v1h-1zM197 253h1v1h-1zM442 253h2v1h-2zM166 254h1v1h-1zM198 254h1v1h-1zM440 254h2v1h-2zM165 255h1v1h-1zM199 255h1v1h-1zM438 255h2v1h-2zM164 256h1v1h-1zM199 256h1v1h-1zM436 256h2v1h-2zM163 257h1v1h-1zM200 257h1v1h-1zM435 257h1v1h-1zM162 258h1v1h-1zM201 258h1v1h-1zM433 258h2v1h-2zM161 259h1v1h-1zM202 259h1v1h-1zM432 259h1v1h-1zM160 260h1v1h-1zM203 260h1v1h-1zM431 260h1v1h-1zM159 261h1v1h-1zM204 261h1v1h-1zM429 261h2v1h-2zM158 262h1v1h-1zM205 262h1v1h-1zM428 262h1v1h-1zM157 263h1v1h-1zM206 263h1v1h-1zM427 263h1v1h-1zM156 264h1v1h-1zM207 264h2v1h-2zM425 264h2v1h-2zM155 265h1v1h-1zM209 265h1v1h-1zM423 265h2v1h-2zM154 266h1v1h-1zM210 266h1v1h-1zM422 266h1v1h-1zM153 267h1v1h-1zM211 267h1v1h-1zM420 267h2v1h-2zM151 268h2v1h-2zM212 268h1v1h-1zM417 268h3v1h-3zM150 269h1v1h-1zM213 269h1v1h-1zM413 269h4v1h-4zM149 270h1v1h-1zM214 270h1v1h-1zM409 270h4v1h-4zM148 271h1v1h-1zM215 271h2v1h-2zM405 271h4v1h-4zM147 272h1v1h-1zM217 272h1v1h-1zM403 272h2v1h-2zM146 273h1v1h-1zM218 273h1v1h-1zM401 273h2v1h-2zM145 274h1v1h-1zM219 274h2v1h-2zM400 274h1v1h-1zM145 275h1v1h-1zM221 275h2v1h-2zM399 275h1v1h-1zM144 276h1v1h-1zM223 276h3v1h-3zM397 276h2v1h-2zM143 277h1v1h-1zM226 277h3v1h-3zM396 277h1v1h-1zM142 278h1v1h-1zM229 278h2v1h-2zM395 278h1v1h-1zM141 279h1v1h-1zM231 279h3v1h-3zM393 279h2v1h-2zM141 280h1v1h-1zM234 280h2v1h-2zM392 280h1v1h-1zM140 281h1v1h-1zM236 281h2v1h-2zM391 281h1v1h-1zM139 282h1v1h-1zM238 282h1v1h-1zM389 282h2v1h-2zM138 283h1v1h-1zM239 283h2v1h-2zM388 283h1v1h-1zM137 284h1v1h-1zM241 284h2v1h-2zM387 284h1v1h-1zM137 285h1v1h-1zM243 285h1v1h-1zM385 285h2v1h-2zM136 286h1v1h-1zM244 286h2v1h-2zM383 286h2v1h-2zM135 287h1v1h-1zM246 287h1v1h-1zM382 287h1v1h-1zM134 288h1v1h-1zM247 288h2v1h-2zM380 288h2v1h-2zM133 289h1v1h-1zM249 289h2v1h-2zM379 289h1v1h-1zM133 290h1v1h-1zM251 290h1v1h-1zM378 290h1v1h-1zM132 291h1v1h-1zM252 291h1v1h-1zM377 291h1v1h-1zM131 292h1v1h-1zM253 292h1v1h-1zM376 292h1v1h-1zM130 293h1v1h-1zM254 293h1v1h-1zM375 293h1v1h-1zM129 294h1v1h-1zM255 294h2v1h-2zM374 294h1v1h-1zM128 295h1v1h-1zM257 295h1v1h-1zM373 295h1v1h-1zM127 296h1v1h-1zM258 296h1v1h-1zM372 296h1v1h-1zM127 297h1v1h-1zM259 297h1v1h-1zM371 297h1v1h-1zM126 298h1v1h-1zM260 298h1v1h-1zM370 298h1v1h-1zM125 299h1v1h-1zM261 299h1v1h-1zM369 299h1v1h-1zM124 300h1v1h-1zM261 300h1v1h-1zM369 300h1v1h-1zM123 301h1v1h-1zM262 301h1v1h-1zM368 301h1v1h-1zM122 302h1v1h-1zM263 302h1v1h-1zM367 302h1v1h-1zM121 303h1v1h-1zM264 303h1v1h-1zM366 303h1v1h-1zM120 304h1v1h-1zM265 304h1v1h-1zM365 304h1v1h-1zM119 305h1v1h-1zM265 305h1v1h-1zM365 305h1v1h-1zM118 306h1v1h-1zM266 306h1v1h-1zM364 306h1v1h-1zM117 307h1v1h-1zM267 307h1v1h-1zM363 307h1v1h-1zM116 308h1v1h-1zM268 308h1v1h-1zM362 308h1v1h-1zM115 309h1v1h-1zM269 309h1v1h-1zM362 309h1v1h-1zM114 310h1v1h-1zM269 310h1v1h-1zM361 310h1v1h-1zM114 311h1v1h-1zM270 311h1v1h-1zM361 311h1v1h-1zM113 312h1v1h-1zM271 312h1v1h-1zM360 312h1v1h-1zM113 313h1v1h-1zM272 313h1v1h-1zM360 313h1v1h-1zM112 314h1v1h-1zM273 314h1v1h-1zM359 314h1v1h-1zM111 315h1v1h-1zM273 315h1v1h-1zM358 315h1v1h-1zM111 316h1v1h-1zM274 316h1v1h-1zM358 316h1v1h-1zM110 317h1v1h-1zM275 317h1v1h-1zM357 317h1v1h-1zM109 318h1v1h-1zM276 318h1v1h-1zM357 318h1v1h-1zM109 319h1v1h-1zM277 319h1v1h-1zM356 319h1v1h-1zM108 320h1v1h-1zM277 320h1v1h-1zM356 320h1v1h-1zM108 321h1v1h-1zM278 321h1v1h-1zM355 321h1v1h-1zM107 322h1v1h-1zM279 322h1v1h-1zM354 322h1v1h-1zM106 323h1v1h-1zM280 323h1v1h-1zM353 323h1v1h-1zM105 324h1v1h-1zM281 324h1v1h-1zM353 324h1v1h-1zM105 325h1v1h-1zM281 325h1v1h-1zM352 325h1v1h-1zM104 326h1v1h-1zM282 326h1v1h-1zM351 326h1v1h-1zM103 327h1v1h-1zM283 327h1v1h-1zM350 327h1v1h-1zM102 328h1v1h-1zM284 328h1v1h-1zM349 328h1v1h-1zM101 329h1v1h-1zM285 329h1v1h-1zM349 329h1v1h-1zM101 330h1v1h-1zM286 330h1v1h-1zM348 330h1v1h-1zM100 331h1v1h-1zM287 331h1v1h-1zM347 331h1v1h-1zM99 332h1v1h-1zM288 332h1v1h-1zM346 332h1v1h-1zM98 333h1v1h-1zM289 333h1v1h-1zM345 333h1v1h-1zM98 334h1v1h-1zM290 334h1v1h-1zM345 334h1v1h-1zM97 335h1v1h-1zM291 335h1v1h-1zM344 335h1v1h-1zM97 336h1v1h-1zM292 336h1v1h-1zM343 336h1v1h-1zM96 337h1v1h-1zM293 337h2v1h-2zM342 337h1v1h-1zM96 338h1v1h-1zM295 338h1v1h-1zM341 338h1v1h-1zM95 339h1v1h-1zM296 339h1v1h-1zM341 339h1v1h-1zM95 340h1v1h-1zM297 340h2v1h-2zM340 340h1v1h-1zM94 341h1v1h-1zM299 341h2v1h-2zM338 341h2v1h-2zM94 342h1v1h-1zM301 342h2v1h-2zM335 342h3v1h-3zM93 343h1v1h-1zM303 343h3v1h-3zM333 343h2v1h-2zM93 344h1v1h-1zM306 344h13v1h-13zM327 344h6v1h-6zM92 345h1v1h-1zM319 345h8v1h-8zM92 346h1v1h-1zM91 347h1v1h-1zM91 348h1v1h-1zM90 349h1v1h-1zM90 350h1v1h-1zM89 351h1v1h-1zM89 352h1v1h-1zM88 353h1v1h-1zM88 354h1v1h-1zM87 355h1v1h-1zM87 356h1v1h-1zM86 357h1v1h-1zM86 358h1v1h-1zM85 359h1v1h-1zM85 360h1v1h-1zM84 361h1v1h-1zM84 362h1v1h-1zM83 363h1v1h-1zM82 364h1v1h-1zM82 365h1v1h-1zM81 366h1v1h-1zM81 367h1v1h-1zM80 368h1v1h-1zM79 369h1v1h-1zM79 370h1v1h-1zM78 371h1v1h-1zM77 372h1v1h-1zM77 373h1v1h-1zM76 374h1v1h-1zM76 375h1v1h-1zM75 376h1v1h-1zM74 377h1v1h-1zM73 378h1v1h-1zM73 379h1v1h-1zM72 380h1v1h-1zM71 381h1v1h-1zM70 382h1v1h-1zM69 383h1v1h-1zM69 384h1v1h-1zM68 385h1v1h-1zM67 386h1v1h-1zM66 387h1v1h-1zM65 388h1v1h-1zM64 389h1v1h-1zM63 390h1v1h-1zM63 391h1v1h-1zM62 392h1v1h-1zM61 393h1v1h-1zM60 394h1v1h-1zM59 395h1v1h-1zM58 396h1v1h-1zM57 397h1v1h-1zM56 398h1v1h-1zM55 399h1v1h-1zM55 400h1v1h-1zM54 401h1v1h-1zM53 402h1v1h-1zM52 403h1v1h-1zM51 404h1v1h-1zM50 405h1v1h-1zM49 406h1v1h-1zM47 407h2v1h-2zM46 408h1v1h-1zM45 409h1v1h-1zM44 410h1v1h-1zM43 411h1v1h-1zM42 412h1v1h-1zM41 413h1v1h-1zM39 414h2v1h-2zM38 415h1v1h-1zM37 416h1v1h-1zM36 417h1v1h-1zM35 418h1v1h-1zM34 419h1v1h-1zM33 420h1v1h-1zM31 421h2v1h-2zM30 422h1v1h-1zM29 423h1v1h-1zM28 424h1v1h-1zM27 425h1v1h-1zM25 426h2v1h-2zM23 427h2v1h-2zM22 428h1v1h-1zM3 429h2v1h-2zM20 429h2v1h-2zM5 430h4v1h-4zM15 430h5v1h-5zM9 431h6v1h-6z"/>
<path fill="#000" stroke="none" shape-rendering="crispEdges" d="M1339 134h4v1h-4zM1427 134h12v1h-12zM1482 134h2v1h-2zM1337 135h2v1h-2zM1343 135h6v1h-6zM1425 135h2v1h-2zM1439 135h5v1h-5zM1479 135h3v1h-3zM1335 136h2v1h-2zM1349 136h4v1h-4zM1367 136h6v1h-6zM1424 136h1v1h-1zM1444 136h2v1h-2zM1477 136h2v1h-2zM1334 137h1v1h-1zM1353 137h14v1h-14zM1373 137h4v1h-4zM1423 137h1v1h-1zM1446 137h2v1h-2zM1471 137h6v1h-6zM1314 138h5v1h-5zM1332 138h2v1h-2zM1377 138h4v1h-4zM1421 138h2v1h-2zM1448 138h2v1h-2zM1465 138h6v1h-6zM1311 139h3v1h-3zM1319 139h13v1h-13zM1381 139h4v1h-4zM1420 139h1v1h-1zM1450 139h5v1h-5zM1461 139h4v1h-4zM1309 140h2v1h-2zM1385 140h6v1h-6zM1417 140h3v1h-3zM1455 140h6v1h-6zM1306 141h3v1h-3zM1391 141h8v1h-8zM1413 141h4v1h-4zM1304 142h2v1h-2zM1399 142h14v1h-14zM1302 143h2v1h-2zM1300 144h2v1h-2zM1299 145h1v1h-1zM1297 146h2v1h-2zM1296 147h1v1h-1zM1295 148h1v1h-1zM1293 149h2v1h-2zM1292 150h1v1h-1zM1291 151h1v1h-1zM1290 152h1v1h-1zM1289 153h1v1h-1zM1287 154h2v1h-2zM1286 155h1v1h-1zM1285 156h1v1h-1zM1284 157h1v1h-1zM1283 158h1v1h-1zM1282 159h1v1h-1zM1281 160h1v1h-1zM1280 161h1v1h-1zM1279 162h1v1h-1zM1278 163h1v1h-1zM1277 164h1v1h-1zM1276 165h1v1h-1zM1275 166h1v1h-1zM1274 167h1v1h-1zM1273 168h1v1h-1zM1272 169h1v1h-1zM1271 170h1v1h-1zM1270 171h1v1h-1zM1269 172h1v1h-1zM1268 173h1v1h-1zM1267 174h1v1h-1zM1265 175h2v1h-2zM1263 176h2v1h-2zM1262 177h1v1h-1zM1260 178h2v1h-2zM1031 179h8v1h-8zM1259 179h1v1h-1zM1027 180h4v1h-4zM1039 180h5v1h-5zM1258 180h1v1h-1zM1026 181h1v1h-1zM1044 181h1v1h-1zM1257 181h1v1h-1zM1026 182h1v1h-1zM1045 182h1v1h-1zM1256 182h1v1h-1zM1025 183h1v1h-1zM1046 183h1v1h-1zM1255 183h1v1h-1zM1025 184h1v1h-1zM1047 184h2v1h-2zM1254 184h1v1h-1zM1024 185h1v1h-1zM1049 185h1v1h-1zM1253 185h1v1h-1zM1024 186h1v1h-1zM1050 186h1v1h-1zM1252 186h1v1h-1zM1023 187h1v1h-1zM1051 187h1v1h-1zM1251 187h1v1h-1zM1023 188h1v1h-1zM1052 188h1v1h-1zM1250 188h1v1h-1zM1022 189h1v1h-1zM1052 189h1v1h-1zM1249 189h1v1h-1zM1022 190h1v1h-1zM1053 190h1v1h-1zM1249 190h1v1h-1zM1021 191h1v1h-1zM1054 191h1v1h-1zM1248 191h1v1h-1zM1021 192h1v1h-1zM1055 192h1v1h-1zM1247 192h1v1h-1zM1020 193h1v1h-1zM1055 193h1v1h-1zM1246 193h1v1h-1zM1020 194h1v1h-1zM1056 194h1v1h-1zM1245 194h1v1h-1zM1019 195h1v1h-1zM1057 195h1v1h-1zM1245 195h1v1h-1zM1019 196h1v1h-1zM1058 196h1v1h-1zM1244 196h1v1h-1zM1018 197h1v1h-1zM1058 197h1v1h-1zM1243 197h1v1h-1zM1018 198h1v1h-1zM1059 198h1v1h-1zM1242 198h1v1h-1zM1017 199h1v1h-1zM1059 199h1v1h-1zM1241 199h1v1h-1zM1017 200h1v1h-1zM1060 200h1v1h-1zM1240 200h1v1h-1zM1017 201h1v1h-1zM1060 201h1v1h-1zM1239 201h1v1h-1zM1016 202h1v1h-1zM1061 202h1v1h-1zM1238 202h1v1h-1zM1016 203h1v1h-1zM1061 203h1v1h-1zM1237 203h1v1h-1zM1016 204h1v1h-1zM1062 204h1v1h-1zM1236 204h1v1h-1zM1015 205h1v1h-1zM1062 205h1v1h-1zM1235 205h1v1h-1zM1015 206h1v1h-1zM1063 206h1v1h-1zM1234 206h1v1h-1zM1014 207h1v1h-1zM1063 207h1v1h-1zM1233 207h1v1h-1zM1014 208h1v1h-1zM1063 208h1v1h-1zM1232 208h1v1h-1zM1014 209h1v1h-1zM1064 209h1v1h-1zM1231 209h1v1h-1zM1013 210h1v1h-1zM1064 210h1v1h-1zM1231 210h1v1h-1zM1013 211h1v1h-1zM1065 211h1v1h-1zM1230 211h1v1h-1zM1013 212h1v1h-1zM1065 212h1v1h-1zM1229 212h1v1h-1zM1012 213h1v1h-1zM1066 213h1v1h-1zM1228 213h1v1h-1zM1012 214h1v1h-1zM1066 214h1v1h-1zM1227 214h1v1h-1zM1011 215h1v1h-1zM1067 215h1v1h-1zM1226 215h1v1h-1zM1011 216h1v1h-1zM1067 216h1v1h-1zM1226 216h1v1h-1zM1011 217h1v1h-1zM1068 217h1v1h-1zM1225 217h1v1h-1zM1010 218h1v1h-1zM1069 218h1v1h-1zM1225 218h1v1h-1zM663 219h21v1h-21zM1010 219h1v1h-1zM1069 219h1v1h-1zM1224 219h1v1h-1zM655 220h8v1h-8zM684 220h1v1h-1zM1009 220h1v1h-1zM1070 220h1v1h-1zM1224 220h1v1h-1zM651 221h4v1h-4zM685 221h1v1h-1zM1009 221h1v1h-1zM1071 221h1v1h-1zM1223 221h1v1h-1zM649 222h2v1h-2zM686 222h1v1h-1zM738 222h11v1h-11zM1009 222h1v1h-1zM1072 222h1v1h-1zM1223 222h1v1h-1zM647 223h2v1h-2zM687 223h2v1h-2zM736 223h2v1h-2zM749 223h2v1h-2zM1008 223h1v1h-1zM1073 223h1v1h-1zM1222 223h1v1h-1zM646 224h1v1h-1zM689 224h1v1h-1zM734 224h2v1h-2zM751 224h3v1h-3zM1008 224h1v1h-1zM1073 224h1v1h-1zM1222 224h1v1h-1zM644 225h2v1h-2zM690 225h1v1h-1zM732 225h2v1h-2zM754 225h3v1h-3zM791 225h8v1h-8zM1008 225h1v1h-1zM1074 225h1v1h-1zM1221 225h1v1h-1zM642 226h2v1h-2zM691 226h4v1h-4zM730 226h2v1h-2zM757 226h4v1h-4zM777 226h14v1h-14zM799 226h5v1h-5zM1007 226h1v1h-1zM1075 226h2v1h-2zM1221 226h1v1h-1zM640 227h2v1h-2zM695 227h8v1h-8zM727 227h3v1h-3zM761 227h6v1h-6zM773 227h4v1h-4zM804 227h1v1h-1zM1007 227h1v1h-1zM1077 227h2v1h-2zM1220 227h1v1h-1zM638 228h2v1h-2zM703 228h16v1h-16zM725 228h2v1h-2zM767 228h6v1h-6zM804 228h1v1h-1zM1006 228h1v1h-1zM1079 228h3v1h-3zM1220 228h1v1h-1zM636 229h2v1h-2zM719 229h6v1h-6zM805 229h1v1h-1zM1006 229h1v1h-1zM1082 229h3v1h-3zM1154 229h5v1h-5zM1218 229h2v1h-2zM635 230h1v1h-1zM805 230h1v1h-1zM1006 230h1v1h-1zM1085 230h4v1h-4zM1151 230h3v1h-3zM1159 230h32v1h-32zM1216 230h2v1h-2zM633 231h2v1h-2zM806 231h1v1h-1zM1005 231h1v1h-1zM1089 231h4v1h-4zM1149 231h2v1h-2zM1191 231h14v1h-14zM1214 231h2v1h-2zM632 232h1v1h-1zM807 232h1v1h-1zM1005 232h1v1h-1zM1093 232h4v1h-4zM1146 232h3v1h-3zM1205 232h4v1h-4zM1212 232h2v1h-2zM631 233h1v1h-1zM807 233h1v1h-1zM1005 233h1v1h-1zM1097 233h6v1h-6zM1143 233h3v1h-3zM1209 233h3v1h-3zM629 234h2v1h-2zM808 234h1v1h-1zM1004 234h1v1h-1zM1103 234h8v1h-8zM1141 234h2v1h-2zM628 235h1v1h-1zM809 235h1v1h-1zM1004 235h1v1h-1zM1111 235h30v1h-30zM627 236h1v1h-1zM809 236h1v1h-1zM1003 236h1v1h-1zM627 237h1v1h-1zM810 237h1v1h-1zM1003 237h1v1h-1zM626 238h1v1h-1zM810 238h1v1h-1zM1002 238h1v1h-1zM626 239h1v1h-1zM811 239h1v1h-1zM1002 239h1v1h-1zM625 240h1v1h-1zM812 240h1v1h-1zM1001 240h1v1h-1zM625 241h1v1h-1zM812 241h1v1h-1zM1001 241h1v1h-1zM624 242h1v1h-1zM813 242h1v1h-1zM1000 242h1v1h-1zM624 243h1v1h-1zM813 243h1v1h-1zM999 243h1v1h-1zM623 244h1v1h-1zM814 244h1v1h-1zM999 244h1v1h-1zM623 245h1v1h-1zM815 245h1v1h-1zM998 245h1v1h-1zM622 246h1v1h-1zM815 246h1v1h-1zM997 246h1v1h-1zM622 247h1v1h-1zM816 247h1v1h-1zM997 247h1v1h-1zM621 248h1v1h-1zM817 248h1v1h-1zM996 248h1v1h-1zM621 249h1v1h-1zM817 249h1v1h-1zM996 249h1v1h-1zM620 250h1v1h-1zM818 250h1v1h-1zM995 250h1v1h-1zM620 251h1v1h-1zM818 251h1v1h-1zM995 251h1v1h-1zM619 252h1v1h-1zM819 252h1v1h-1zM994 252h1v1h-1zM618 253h1v1h-1zM820 253h1v1h-1zM994 253h1v1h-1zM618 254h1v1h-1zM820 254h1v1h-1zM994 254h1v1h-1zM617 255h1v1h-1zM821 255h1v1h-1zM993 255h1v1h-1zM617 256h1v1h-1zM822 256h1v1h-1zM993 256h1v1h-1zM616 257h1v1h-1zM822 257h1v1h-1zM993 257h1v1h-1zM616 258h1v1h-1zM823 258h1v1h-1zM992 258h1v1h-1zM615 259h1v1h-1zM824 259h1v1h-1zM992 259h1v1h-1zM614 260h1v1h-1zM824 260h1v1h-1zM992 260h1v1h-1zM614 261h1v1h-1zM825 261h1v1h-1zM991 261h1v1h-1zM613 262h1v1h-1zM826 262h1v1h-1zM991 262h1v1h-1zM613 263h1v1h-1zM826 263h1v1h-1zM991 263h1v1h-1zM612 264h1v1h-1zM827 264h1v1h-1zM991 264h1v1h-1zM612 265h1v1h-1zM827 265h1v1h-1zM990 265h1v1h-1zM611 266h1v1h-1zM828 266h1v1h-1zM990 266h1v1h-1zM610 267h1v1h-1zM828 267h1v1h-1zM990 267h1v1h-1zM609 268h1v1h-1zM829 268h1v1h-1zM989 268h1v1h-1zM609 269h1v1h-1zM829 269h1v1h-1zM989 269h1v1h-1zM608 270h1v1h-1zM830 270h1v1h-1zM989 270h1v1h-1zM607 271h1v1h-1zM830 271h1v1h-1zM988 271h1v1h-1zM606 272h1v1h-1zM831 272h1v1h-1zM988 272h1v1h-1zM605 273h1v1h-1zM831 273h1v1h-1zM988 273h1v1h-1zM605 274h1v1h-1zM832 274h1v1h-1zM987 274h1v1h-1zM604 275h1v1h-1zM832 275h1v1h-1zM987 275h1v1h-1zM603 276h1v1h-1zM833 276h1v1h-1zM986 276h1v1h-1zM602 277h1v1h-1zM833 277h1v1h-1zM986 277h1v1h-1zM602 278h1v1h-1zM834 278h1v1h-1zM985 278h1v1h-1zM601 279h1v1h-1zM834 279h1v1h-1zM985 279h1v1h-1zM601 280h1v1h-1zM835 280h1v1h-1zM984 280h1v1h-1zM600 281h1v1h-1zM835 281h9v1h-9zM983 281h1v1h-1zM600 282h1v1h-1zM844 282h2v1h-2zM983 282h1v1h-1zM599 283h1v1h-1zM846 283h1v1h-1zM982 283h1v1h-1zM598 284h1v1h-1zM847 284h2v1h-2zM981 284h1v1h-1zM598 285h1v1h-1zM849 285h2v1h-2zM981 285h1v1h-1zM597 286h1v1h-1zM851 286h2v1h-2zM980 286h1v1h-1zM597 287h1v1h-1zM853 287h2v1h-2zM980 287h1v1h-1zM596 288h1v1h-1zM855 288h3v1h-3zM871 288h14v1h-14zM979 288h1v1h-1zM596 289h1v1h-1zM858 289h13v1h-13zM885 289h4v1h-4zM978 289h1v1h-1zM595 290h1v1h-1zM889 290h3v1h-3zM978 290h1v1h-1zM594 291h1v1h-1zM892 291h1v1h-1zM977 291h1v1h-1zM594 292h1v1h-1zM893 292h1v1h-1zM976 292h1v1h-1zM593 293h1v1h-1zM894 293h1v1h-1zM976 293h1v1h-1zM593 294h1v1h-1zM895 294h2v1h-2zM975 294h1v1h-1zM592 295h1v1h-1zM897 295h1v1h-1zM974 295h1v1h-1zM592 296h1v1h-1zM898 296h1v1h-1zM974 296h1v1h-1zM591 297h1v1h-1zM899 297h1v1h-1zM973 297h1v1h-1zM590 298h1v1h-1zM900 298h1v1h-1zM972 298h1v1h-1zM590 299h1v1h-1zM901 299h2v1h-2zM972 299h1v1h-1zM589 300h1v1h-1zM903 300h1v1h-1zM971 300h1v1h-1zM589 301h1v1h-1zM904 301h1v1h-1zM970 301h1v1h-1zM588 302h1v1h-1zM905 302h2v1h-2zM969 302h1v1h-1zM588 303h1v1h-1zM907 303h1v1h-1zM968 303h1v1h-1zM587 304h1v1h-1zM908 304h2v1h-2zM967 304h1v1h-1zM586 305h1v1h-1zM910 305h2v1h-2zM967 305h1v1h-1zM586 306h1v1h-1zM912 306h2v1h-2zM966 306h1v1h-1zM585 307h1v1h-1zM914 307h2v1h-2zM965 307h1v1h-1zM584 308h1v1h-1zM916 308h2v1h-2zM964 308h1v1h-1zM584 309h1v1h-1zM918 309h2v1h-2zM962 309h2v1h-2zM583 310h1v1h-1zM920 310h2v1h-2zM959 310h3v1h-3zM582 311h1v1h-1zM922 311h5v1h-5zM957 311h2v1h-2zM582 312h1v1h-1zM927 312h30v1h-30zM481 313h6v1h-6zM581 313h1v1h-1zM477 314h4v1h-4zM487 314h6v1h-6zM580 314h1v1h-1zM474 315h3v1h-3zM493 315h4v1h-4zM580 315h1v1h-1zM471 316h3v1h-3zM497 316h11v1h-11zM579 316h1v1h-1zM469 317h2v1h-2zM508 317h2v1h-2zM578 317h1v1h-1zM466 318h3v1h-3zM510 318h2v1h-2zM578 318h1v1h-1zM464 319h2v1h-2zM512 319h2v1h-2zM577 319h1v1h-1zM462 320h2v1h-2zM514 320h2v1h-2zM576 320h1v1h-1zM460 321h2v1h-2zM516 321h1v1h-1zM576 321h1v1h-1zM459 322h1v1h-1zM517 322h2v1h-2zM575 322h1v1h-1zM458 323h1v1h-1zM519 323h1v1h-1zM574 323h1v1h-1zM458 324h1v1h-1zM520 324h1v1h-1zM574 324h1v1h-1zM457 325h1v1h-1zM521 325h2v1h-2zM573 325h1v1h-1zM456 326h1v1h-1zM523 326h2v1h-2zM572 326h1v1h-1zM456 327h1v1h-1zM525 327h4v1h-4zM572 327h1v1h-1zM455 328h1v1h-1zM529 328h3v1h-3zM571 328h1v1h-1zM454 329h1v1h-1zM532 329h2v1h-2zM570 329h1v1h-1zM454 330h1v1h-1zM534 330h1v1h-1zM570 330h1v1h-1zM453 331h1v1h-1zM535 331h2v1h-2zM569 331h1v1h-1zM179 332h1v1h-1zM452 332h1v1h-1zM537 332h2v1h-2zM568 332h1v1h-1zM179 333h2v1h-2zM452 333h1v1h-1zM539 333h1v1h-1zM567 333h1v1h-1zM178 334h1v1h-1zM180 334h1v1h-1zM451 334h1v1h-1zM540 334h2v1h-2zM567 334h1v1h-1zM178 335h1v1h-1zM181 335h1v1h-1zM450 335h1v1h-1zM542 335h2v1h-2zM566 335h1v1h-1zM177 336h1v1h-1zM181 336h1v1h-1zM450 336h1v1h-1zM544 336h2v1h-2zM565 336h1v1h-1zM177 337h1v1h-1zM182 337h1v1h-1zM449 337h1v1h-1zM546 337h3v1h-3zM564 337h1v1h-1zM176 338h1v1h-1zM183 338h1v1h-1zM449 338h1v1h-1zM549 338h4v1h-4zM564 338h1v1h-1zM176 339h1v1h-1zM183 339h1v1h-1zM448 339h1v1h-1zM553 339h11v1h-11zM176 340h1v1h-1zM184 340h1v1h-1zM448 340h1v1h-1zM175 341h1v1h-1zM185 341h1v1h-1zM447 341h1v1h-1zM175 342h1v1h-1zM185 342h1v1h-1zM447 342h1v1h-1zM174 343h1v1h-1zM186 343h1v1h-1zM446 343h1v1h-1zM174 344h1v1h-1zM186 344h1v1h-1zM446 344h1v1h-1zM174 345h1v1h-1zM187 345h1v1h-1zM445 345h1v1h-1zM173 346h1v1h-1zM187 346h1v1h-1zM445 346h1v1h-1zM173 347h1v1h-1zM188 347h1v1h-1zM444 347h1v1h-1zM172 348h1v1h-1zM188 348h1v1h-1zM444 348h1v1h-1zM172 349h1v1h-1zM189 349h1v1h-1zM443 349h1v1h-1zM171 350h1v1h-1zM189 350h1v1h-1zM442 350h1v1h-1zM171 351h1v1h-1zM190 351h1v1h-1zM442 351h1v1h-1zM171 352h1v1h-1zM190 352h1v1h-1zM441 352h1v1h-1zM171 353h1v1h-1zM190 353h1v1h-1zM441 353h1v1h-1zM170 354h1v1h-1zM191 354h1v1h-1zM440 354h1v1h-1zM170 355h1v1h-1zM191 355h1v1h-1zM440 355h1v1h-1zM170 356h1v1h-1zM192 356h1v1h-1zM439 356h1v1h-1zM170 357h1v1h-1zM192 357h1v1h-1zM438 357h1v1h-1zM169 358h1v1h-1zM192 358h1v1h-1zM438 358h1v1h-1zM169 359h1v1h-1zM193 359h1v1h-1zM437 359h1v1h-1zM169 360h1v1h-1zM193 360h1v1h-1zM437 360h1v1h-1zM169 361h1v1h-1zM194 361h1v1h-1zM436 361h1v1h-1zM168 362h1v1h-1zM194 362h1v1h-1zM436 362h1v1h-1zM168 363h1v1h-1zM195 363h1v1h-1zM435 363h1v1h-1zM168 364h1v1h-1zM195 364h1v1h-1zM435 364h1v1h-1zM168 365h1v1h-1zM195 365h1v1h-1zM434 365h1v1h-1zM167 366h1v1h-1zM195 366h1v1h-1zM434 366h1v1h-1zM167 367h1v1h-1zM195 367h1v1h-1zM433 367h1v1h-1zM167 368h1v1h-1zM196 368h1v1h-1zM433 368h1v1h-1zM167 369h1v1h-1zM196 369h1v1h-1zM432 369h1v1h-1zM166 370h1v1h-1zM196 370h1v1h-1zM432 370h1v1h-1zM166 371h1v1h-1zM196 371h1v1h-1zM431 371h1v1h-1zM166 372h1v1h-1zM196 372h1v1h-1zM431 372h1v1h-1zM166 373h1v1h-1zM196 373h1v1h-1zM431 373h1v1h-1zM165 374h1v1h-1zM196 374h1v1h-1zM430 374h1v1h-1zM165 375h1v1h-1zM197 375h1v1h-1zM430 375h1v1h-1zM165 376h1v1h-1zM197 376h1v1h-1zM429 376h1v1h-1zM165 377h1v1h-1zM197 377h1v1h-1zM429 377h1v1h-1zM164 378h1v1h-1zM197 378h1v1h-1zM428 378h1v1h-1zM164 379h1v1h-1zM197 379h1v1h-1zM428 379h1v1h-1zM164 380h1v1h-1zM197 380h1v1h-1zM427 380h1v1h-1zM164 381h1v1h-1zM197 381h1v1h-1zM427 381h1v1h-1zM163 382h1v1h-1zM198 382h1v1h-1zM427 382h1v1h-1zM163 383h1v1h-1zM198 383h1v1h-1zM426 383h1v1h-1zM163 384h1v1h-1zM198 384h1v1h-1zM426 384h1v1h-1zM163 385h1v1h-1zM198 385h1v1h-1zM425 385h1v1h-1zM162 386h1v1h-1zM198 386h1v1h-1zM425 386h1v1h-1zM162 387h1v1h-1zM198 387h1v1h-1zM424 387h1v1h-1zM161 388h1v1h-1zM198 388h1v1h-1zM424 388h1v1h-1zM161 389h1v1h-1zM199 389h1v1h-1zM423 389h1v1h-1zM161 390h1v1h-1zM199 390h1v1h-1zM423 390h1v1h-1zM160 391h1v1h-1zM199 391h1v1h-1zM423 391h1v1h-1zM160 392h1v1h-1zM199 392h1v1h-1zM422 392h1v1h-1zM160 393h1v1h-1zM199 393h1v1h-1zM422 393h1v1h-1zM159 394h1v1h-1zM199 394h1v1h-1zM421 394h1v1h-1zM159 395h1v1h-1zM200 395h1v1h-1zM421 395h1v1h-1zM158 396h1v1h-1zM200 396h1v1h-1zM420 396h1v1h-1zM158 397h1v1h-1zM200 397h1v1h-1zM420 397h1v1h-1zM158 398h1v1h-1zM200 398h1v1h-1zM419 398h1v1h-1zM157 399h1v1h-1zM200 399h1v1h-1zM419 399h1v1h-1zM157 400h1v1h-1zM200 400h1v1h-1zM417 400h2v1h-2zM157 401h1v1h-1zM200 401h1v1h-1zM415 401h2v1h-2zM156 402h1v1h-1zM201 402h1v1h-1zM414 402h1v1h-1zM156 403h1v1h-1zM201 403h1v1h-1zM412 403h2v1h-2zM155 404h1v1h-1zM201 404h1v1h-1zM410 404h2v1h-2zM155 405h1v1h-1zM201 405h1v1h-1zM408 405h2v1h-2zM155 406h1v1h-1zM201 406h1v1h-1zM406 406h2v1h-2zM154 407h1v1h-1zM201 407h1v1h-1zM404 407h2v1h-2zM154 408h1v1h-1zM201 408h1v1h-1zM403 408h1v1h-1zM153 409h1v1h-1zM202 409h1v1h-1zM402 409h1v1h-1zM153 410h1v1h-1zM202 410h1v1h-1zM401 410h1v1h-1zM153 411h1v1h-1zM202 411h1v1h-1zM401 411h1v1h-1zM152 412h1v1h-1zM202 412h1v1h-1zM400 412h1v1h-1zM152 413h1v1h-1zM202 413h1v1h-1zM399 413h1v1h-1zM151 414h1v1h-1zM202 414h1v1h-1zM398 414h1v1h-1zM151 415h1v1h-1zM202 415h1v1h-1zM397 415h1v1h-1zM151 416h1v1h-1zM203 416h1v1h-1zM397 416h1v1h-1zM150 417h1v1h-1zM203 417h1v1h-1zM396 417h1v1h-1zM150 418h1v1h-1zM203 418h1v1h-1zM395 418h1v1h-1zM149 419h1v1h-1zM203 419h1v1h-1zM393 419h2v1h-2zM149 420h1v1h-1zM203 420h1v1h-1zM392 420h1v1h-1zM149 421h1v1h-1zM204 421h1v1h-1zM391 421h1v1h-1zM148 422h1v1h-1zM204 422h1v1h-1zM389 422h2v1h-2zM148 423h1v1h-1zM205 423h1v1h-1zM379 423h4v1h-4zM388 423h1v1h-1zM147 424h1v1h-1zM205 424h1v1h-1zM378 424h1v1h-1zM383 424h5v1h-5zM147 425h1v1h-1zM205 425h1v1h-1zM378 425h1v1h-1zM147 426h1v1h-1zM206 426h1v1h-1zM377 426h1v1h-1zM146 427h1v1h-1zM206 427h1v1h-1zM376 427h1v1h-1zM146 428h1v1h-1zM206 428h1v1h-1zM375 428h1v1h-1zM145 429h1v1h-1zM207 429h1v1h-1zM375 429h1v1h-1zM145 430h1v1h-1zM207 430h1v1h-1zM374 430h1v1h-1zM144 431h1v1h-1zM208 431h1v1h-1zM373 431h1v1h-1zM144 432h1v1h-1zM208 432h1v1h-1zM372 432h1v1h-1zM144 433h1v1h-1zM208 433h1v1h-1zM372 433h1v1h-1zM143 434h1v1h-1zM209 434h1v1h-1zM371 434h1v1h-1zM143 435h1v1h-1zM209 435h1v1h-1zM371 435h1v1h-1zM142 436h1v1h-1zM209 436h1v1h-1zM370 436h1v1h-1zM142 437h1v1h-1zM210 437h1v1h-1zM370 437h1v1h-1zM142 438h1v1h-1zM210 438h1v1h-1zM369 438h1v1h-1zM141 439h1v1h-1zM211 439h1v1h-1zM369 439h1v1h-1zM141 440h1v1h-1zM211 440h1v1h-1zM368 440h1v1h-1zM140 441h1v1h-1zM212 441h1v1h-1zM368 441h1v1h-1zM140 442h1v1h-1zM212 442h1v1h-1zM367 442h1v1h-1zM139 443h1v1h-1zM213 443h1v1h-1zM367 443h1v1h-1zM139 444h1v1h-1zM213 444h1v1h-1zM366 444h1v1h-1zM139 445h1v1h-1zM214 445h1v1h-1zM366 445h1v1h-1zM138 446h1v1h-1zM214 446h1v1h-1zM365 446h1v1h-1zM138 447h1v1h-1zM215 447h1v1h-1zM365 447h1v1h-1zM137 448h1v1h-1zM215 448h1v1h-1zM364 448h1v1h-1zM137 449h1v1h-1zM216 449h1v1h-1zM364 449h1v1h-1zM136 450h1v1h-1zM216 450h1v1h-1zM363 450h1v1h-1zM136 451h1v1h-1zM217 451h1v1h-1zM363 451h1v1h-1zM135 452h1v1h-1zM217 452h1v1h-1zM363 452h1v1h-1zM135 453h1v1h-1zM218 453h1v1h-1zM363 453h1v1h-1zM134 454h1v1h-1zM218 454h1v1h-1zM362 454h1v1h-1zM134 455h1v1h-1zM219 455h2v1h-2zM362 455h1v1h-1zM133 456h1v1h-1zM221 456h4v1h-4zM362 456h1v1h-1zM133 457h1v1h-1zM225 457h3v1h-3zM362 457h1v1h-1zM132 458h1v1h-1zM228 458h2v1h-2zM361 458h1v1h-1zM132 459h1v1h-1zM230 459h1v1h-1zM361 459h1v1h-1zM115 460h2v1h-2zM129 460h3v1h-3zM231 460h2v1h-2zM361 460h1v1h-1zM114 461h1v1h-1zM117 461h4v1h-4zM125 461h4v1h-4zM233 461h2v1h-2zM361 461h1v1h-1zM113 462h1v1h-1zM121 462h4v1h-4zM235 462h1v1h-1zM360 462h1v1h-1zM111 463h2v1h-2zM236 463h1v1h-1zM360 463h1v1h-1zM110 464h1v1h-1zM237 464h1v1h-1zM360 464h1v1h-1zM109 465h1v1h-1zM238 465h1v1h-1zM360 465h1v1h-1zM108 466h1v1h-1zM239 466h1v1h-1zM319 466h6v1h-6zM359 466h1v1h-1zM107 467h1v1h-1zM240 467h1v1h-1zM311 467h8v1h-8zM325 467h4v1h-4zM359 467h1v1h-1zM105 468h2v1h-2zM241 468h1v1h-1zM306 468h5v1h-5zM329 468h3v1h-3zM359 468h1v1h-1zM103 469h2v1h-2zM242 469h1v1h-1zM304 469h2v1h-2zM332 469h1v1h-1zM359 469h1v1h-1zM102 470h1v1h-1zM243 470h1v1h-1zM302 470h2v1h-2zM333 470h1v1h-1zM358 470h1v1h-1zM100 471h2v1h-2zM244 471h2v1h-2zM300 471h2v1h-2zM334 471h1v1h-1zM358 471h1v1h-1zM99 472h1v1h-1zM246 472h1v1h-1zM299 472h1v1h-1zM335 472h2v1h-2zM358 472h1v1h-1zM99 473h1v1h-1zM247 473h2v1h-2zM297 473h2v1h-2zM337 473h1v1h-1zM358 473h1v1h-1zM98 474h1v1h-1zM249 474h2v1h-2zM295 474h2v1h-2zM338 474h1v1h-1zM357 474h1v1h-1zM98 475h1v1h-1zM251 475h1v1h-1zM294 475h1v1h-1zM339 475h1v1h-1zM357 475h1v1h-1zM97 476h1v1h-1zM252 476h2v1h-2zM292 476h2v1h-2zM340 476h1v1h-1zM357 476h1v1h-1zM97 477h1v1h-1zM254 477h2v1h-2zM291 477h1v1h-1zM341 477h1v1h-1zM357 477h1v1h-1zM97 478h1v1h-1zM256 478h2v1h-2zM289 478h2v1h-2zM342 478h1v1h-1zM356 478h1v1h-1zM96 479h1v1h-1zM258 479h2v1h-2zM288 479h1v1h-1zM343 479h1v1h-1zM356 479h1v1h-1zM96 480h1v1h-1zM260 480h1v1h-1zM287 480h1v1h-1zM344 480h1v1h-1zM356 480h1v1h-1zM96 481h1v1h-1zM261 481h2v1h-2zM285 481h2v1h-2zM345 481h1v1h-1zM356 481h1v1h-1zM95 482h1v1h-1zM263 482h1v1h-1zM284 482h1v1h-1zM346 482h1v1h-1zM355 482h1v1h-1zM95 483h1v1h-1zM264 483h1v1h-1zM283 483h1v1h-1zM347 483h4v1h-4zM355 483h1v1h-1zM94 484h1v1h-1zM265 484h2v1h-2zM281 484h2v1h-2zM351 484h5v1h-5zM94 485h1v1h-1zM267 485h2v1h-2zM279 485h2v1h-2zM94 486h1v1h-1zM269 486h2v1h-2zM278 486h1v1h-1zM93 487h1v1h-1zM271 487h3v1h-3zM276 487h2v1h-2zM93 488h1v1h-1zM274 488h2v1h-2zM93 489h1v1h-1zM92 490h1v1h-1zM92 491h1v1h-1zM91 492h1v1h-1zM91 493h1v1h-1zM91 494h1v1h-1zM90 495h1v1h-1zM90 496h1v1h-1zM89 497h1v1h-1zM89 498h1v1h-1zM89 499h1v1h-1zM88 500h1v1h-1zM88 501h1v1h-1zM88 502h1v1h-1zM87 503h1v1h-1zM87 504h1v1h-1zM86 505h1v1h-1zM86 506h1v1h-1zM86 507h1v1h-1zM85 508h1v1h-1zM85 509h1v1h-1zM85 510h1v1h-1zM84 511h1v1h-1zM84 512h1v1h-1zM83 513h1v1h-1zM83 514h1v1h-1zM83 515h1v1h-1zM82 516h1v1h-1zM82 517h1v1h-1zM82 518h1v1h-1zM82 519h1v1h-1zM81 520h1v1h-1zM81 521h1v1h-1zM81 522h1v1h-1zM80 523h1v1h-1zM80 524h1v1h-1zM80 525h1v1h-1zM80 526h1v1h-1zM79 527h1v1h-1zM79 528h1v1h-1zM79 529h1v1h-1zM78 530h1v1h-1zM78 531h1v1h-1zM78 532h1v1h-1zM3 533h12v1h-12zM78 533h1v1h-1zM15 534h5v1h-5zM77 534h1v1h-1zM20 535h2v1h-2zM77 535h1v1h-1zM22 536h2v1h-2zM77 536h1v1h-1zM24 537h2v1h-2zM76 537h1v1h-1zM26 538h2v1h-2zM76 538h1v1h-1zM28 539h2v1h-2zM76 539h1v1h-1zM30 540h1v1h-1zM76 540h1v1h-1zM31 541h2v1h-2zM75 541h1v1h-1zM33 542h2v1h-2zM75 542h1v1h-1zM35 543h4v1h-4zM74 543h1v1h-1zM39 544h6v1h-6zM74 544h1v1h-1zM45 545h4v1h-4zM73 545h1v1h-1zM49 546h3v1h-3zM72 546h1v1h-1zM52 547h1v1h-1zM72 547h1v1h-1zM53 548h2v1h-2zM71 548h1v1h-1zM55 549h1v1h-1zM70 549h1v1h-1zM56 550h1v1h-1zM70 550h1v1h-1z"/>
</g>
<path fill="#ff0000" stroke="none" shape-rendering="crispEdges" d="M844 303h1v1h-1zM845 302h4v1h-4zM849 301h3v1h-3zM852 300h4v1h-4zM856 299h4v1h-4zM860 298h3v1h-3zM863 297h4v1h-4zM867 296h4v1h-4zM871 295h3v1h-3zM874 294h4v1h-4zM878 293h3v1h-3zM881 292h4v1h-4zM885 291h4v1h-4zM889 290h3v1h-3zM892 289h4v1h-4zM896 288h4v1h-4zM900 287h3v1h-3zM903 286h4v1h-4zM907 285h4v1h-4zM911 284h3v1h-3zM914 283h4v1h-4zM918 282h4v1h-4zM922 281h3v1h-3zM925 280h4v1h-4zM929 279h3v1h-3zM932 278h4v1h-4zM936 277h4v1h-4zM940 276h3v1h-3zM943 275h4v1h-4zM947 274h4v1h-4zM951 273h3v1h-3zM954 272h4v1h-4zM958 271h4v1h-4zM962 270h3v1h-3zM965 269h4v1h-4zM969 268h4v1h-4zM973 267h3v1h-3zM976 266h4v1h-4zM980 265h3v1h-3zM983 264h4v1h-4zM987 263h4v1h-4zM991 262h3v1h-3zM994 261h4v1h-4zM998 260h4v1h-4zM1002 259h3v1h-3zM1005 258h4v1h-4zM1009 257h4v1h-4zM1013 256h3v1h-3zM1016 255h4v1h-4zM1020 254h4v1h-4zM1024 253h3v1h-3zM1027 252h4v1h-4zM1031 251h4v1h-4zM1035 250h3v1h-3zM1038 249h4v1h-4zM1042 248h3v1h-3zM1045 247h4v1h-4zM1049 246h4v1h-4zM1053 245h3v1h-3zM1056 244h4v1h-4zM1060 243h4v1h-4zM1064 242h3v1h-3zM1067 241h4v1h-4zM1071 240h4v1h-4zM1075 239h3v1h-3zM1078 238h4v1h-4zM1082 237h4v1h-4zM1086 236h3v1h-3zM1089 235h4v1h-4zM1093 234h3v1h-3zM1096 233h4v1h-4zM1100 232h4v1h-4zM1104 231h3v1h-3zM1107 230h4v1h-4zM1111 229h4v1h-4zM1115 228h3v1h-3zM1118 227h4v1h-4zM1122 226h4v1h-4zM1126 225h3v1h-3zM1129 224h4v1h-4zM1133 223h4v1h-4zM1137 222h3v1h-3zM1140 221h4v1h-4zM1144 220h3v1h-3zM1147 219h4v1h-4zM1151 218h4v1h-4zM1155 217h3v1h-3zM1158 216h4v1h-4zM1162 215h4v1h-4zM1166 214h3v1h-3zM1169 213h4v1h-4zM1173 212h4v1h-4zM1177 211h3v1h-3zM1180 210h4v1h-4zM1184 209h4v1h-4zM1188 208h3v1h-3zM1191 207h4v1h-4zM1195 206h4v1h-4zM1199 205h3v1h-3zM1202 204h4v1h-4zM1206 203h3v1h-3zM1209 202h4v1h-4zM1213 201h4v1h-4zM1217 200h3v1h-3zM1220 199h4v1h-4zM1224 198h4v1h-4zM1228 197h3v1h-3zM1231 196h4v1h-4zM1235 195h4v1h-4zM1239 194h3v1h-3zM1242 193h4v1h-4zM1246 192h4v1h-4zM1250 191h3v1h-3zM1253 190h4v1h-4zM1257 189h3v1h-3zM1260 188h4v1h-4zM1264 187h4v1h-4zM1268 186h3v1h-3zM1271 185h4v1h-4zM1275 184h4v1h-4zM1279 183h3v1h-3zM1282 182h4v1h-4zM1286 181h4v1h-4zM1290 180h3v1h-3zM1293 179h4v1h-4zM1297 178h4v1h-4zM1301 177h3v1h-3zM1304 176h4v1h-4zM1308 175h3v1h-3zM1311 174h4v1h-4zM1315 173h4v1h-4zM1319 172h3v1h-3zM1322 171h4v1h-4zM1326 170h4v1h-4zM1330 169h3v1h-3zM1333 168h4v1h-4zM1337 167h4v1h-4zM1341 166h3v1h-3zM1344 165h4v1h-4zM1348 164h4v1h-4zM1352 163h3v1h-3zM1355 162h4v1h-4zM1359 161h4v1h-4zM1363 160h3v1h-3zM1366 159h4v1h-4zM1370 158h3v1h-3zM1373 157h4v1h-4zM1377 156h4v1h-4zM1381 155h3v1h-3zM1384 154h4v1h-4zM1388 153h4v1h-4zM1392 152h3v1h-3zM1395 151h4v1h-4zM1399 150h4v1h-4zM1403 149h3v1h-3zM1406 148h4v1h-4zM1410 147h4v1h-4zM1414 146h3v1h-3zM1417 145h4v1h-4zM1421 144h3v1h-3zM1424 143h4v1h-4zM1428 142h4v1h-4zM1432 141h3v1h-3zM1435 140h4v1h-4zM1439 139h4v1h-4zM1443 138h3v1h-3zM1446 137h4v1h-4zM1450 136h4v1h-4zM1454 135h3v1h-3zM1457 134h4v1h-4zM1461 133h4v1h-4zM1465 132h3v1h-3zM1468 131h4v1h-4zM1472 130h3v1h-3zM1475 129h4v1h-4zM1479 128h4v1h-4zM1483 127h3v1h-3zM1486 126h4v1h-4zM1490 125h4v1h-4zM1494 124h3v1h-3zM1497 123h4v1h-4zM1501 122h1v1h-1z"/>
<g shape-rendering="crispEdges" stroke="#000" stroke-width="1">
<line x1="3.5" y1="395" x2="3.5" y2="398"/>
<line x1="3.5" y1="404" x2="3.5" y2="417"/>
<rect x="1.5" y="398.5" width="4" height="5" fill="#fff"/>
<line x1="11.5" y1="395" x2="11.5" y2="398"/>
<line x1="11.5" y1="423" x2="11.5" y2="456"/>
<rect x="9" y="398" width="5" height="25" fill="#000" stroke="none"/>
<line x1="19.5" y1="352" x2="19.5" y2="361"/>
<line x1="19.5" y1="423" x2="19.5" y2="436"/>
<rect x="17.5" y="361.5" width="4" height="61" fill="#fff"/>
<line x1="27.5" y1="302" x2="27.5" y2="322"/>
<line x1="27.5" y1="362" x2="27.5" y2="386"/>
<rect x="25.5" y="322.5" width="4" height="39" fill="#fff"/>
<line x1="35.5" y1="289" x2="35.5" y2="294"/>
<line x1="35.5" y1="323" x2="35.5" y2="348"/>
<rect x="33.5" y="294.5" width="4" height="28" fill="#fff"/>
<line x1="43.5" y1="292" x2="43.5" y2="303"/>
<line x1="43.5" y1="315" x2="43.5" y2="319"/>
<rect x="41" y="303" width="5" height="12" fill="#000" stroke="none"/>
<line x1="51.5" y1="286" x2="51.5" y2="293"/>
<rect x="49.5" y="293.5" width="4" height="21" fill="#fff"/>
<line x1="59.5" y1="242" x2="59.5" y2="245"/>
<line x1="59.5" y1="293" x2="59.5" y2="307"/>
<rect x="57.5" y="245.5" width="4" height="47" fill="#fff"/>
<line x1="67.5" y1="212" x2="67.5" y2="237"/>
<line x1="67.5" y1="246" x2="67.5" y2="262"/>
<rect x="65.5" y="237.5" width="4" height="8" fill="#fff"/>
<line x1="75.5" y1="234" x2="75.5" y2="237"/>
<line x1="75.5" y1="285" x2="75.5" y2="296"/>
<rect x="73" y="237" width="5" height="48" fill="#000" stroke="none"/>
<line x1="83.5" y1="249" x2="83.5" y2="254"/>
<line x1="83.5" y1="285" x2="83.5" y2="304"/>
<rect x="81.5" y="254.5" width="4" height="30" fill="#fff"/>
<line x1="91.5" y1="235" x2="91.5" y2="236"/>
<line x1="91.5" y1="255" x2="91.5" y2="269"/>
<rect x="89.5" y="236.5" width="4" height="18" fill="#fff"/>
<line x1="99.5" y1="237" x2="99.5" y2="242"/>
<rect x="97.5" y="206.5" width="4" height="30" fill="#fff"/>
<line x1="107.5" y1="183" x2="107.5" y2="184"/>
<line x1="107.5" y1="207" x2="107.5" y2="214"/>
<rect x="105.5" y="184.5" width="4" height="22" fill="#fff"/>
<line x1="115.5" y1="150" x2="115.5" y2="178"/>
<line x1="115.5" y1="185" x2="115.5" y2="192"/>
<rect x="113.5" y="178.5" width="4" height="6" fill="#fff"/>
<line x1="123.5" y1="149" x2="123.5" y2="164"/>
<line x1="123.5" y1="179" x2="123.5" y2="208"/>
<rect x="121.5" y="164.5" width="4" height="14" fill="#fff"/>
<line x1="131.5" y1="152" x2="131.5" y2="164"/>
<line x1="131.5" y1="187" x2="131.5" y2="222"/>
<rect x="129" y="164" width="5" height="23" fill="#000" stroke="none"/>
<line x1="139.5" y1="180" x2="139.5" y2="184"/>
<line x1="139.5" y1="212" x2="139.5" y2="215"/>
<rect x="137" y="184" width="5" height="28" fill="#000" stroke="none"/>
<line x1="147.5" y1="239" x2="147.5" y2="243"/>
<rect x="145" y="210" width="5" height="29" fill="#000" stroke="none"/>
<line x1="155.5" y1="209" x2="155.5" y2="238"/>
<line x1="155.5" y1="267" x2="155.5" y2="271"/>
<rect x="153" y="238" width="5" height="29" fill="#000" stroke="none"/>
<line x1="163.5" y1="216" x2="163.5" y2="247"/>
<rect x="161.5" y="247.5" width="4" height="19" fill="#fff"/>
<line x1="171.5" y1="236" x2="171.5" y2="247"/>
<line x1="171.5" y1="255" x2="171.5" y2="286"/>
<rect x="169" y="247" width="5" height="8" fill="#000" stroke="none"/>
<line x1="179.5" y1="249" x2="179.5" y2="254"/>
<line x1="179.5" y1="267" x2="179.5" y2="274"/>
<rect x="177" y="254" width="5" height="13" fill="#000" stroke="none"/>
<line x1="187.5" y1="314" x2="187.5" y2="345"/>
<line x1="187.5" y1="372" x2="187.5" y2="383"/>
<rect x="185" y="345" width="5" height="27" fill="#000" stroke="none"/>
<line x1="195.5" y1="367" x2="195.5" y2="371"/>
<line x1="195.5" y1="380" x2="195.5" y2="407"/>
<rect x="193" y="371" width="5" height="9" fill="#000" stroke="none"/>
<line x1="203.5" y1="510" x2="203.5" y2="515"/>
<rect x="201" y="379" width="5" height="131" fill="#000" stroke="none"/>
<line x1="211.5" y1="416" x2="211.5" y2="424"/>
<line x1="211.5" y1="510" x2="211.5" y2="539"/>
<rect x="209.5" y="424.5" width="4" height="85" fill="#fff"/>
<line x1="219.5" y1="379" x2="219.5" y2="388"/>
<line x1="219.5" y1="425" x2="219.5" y2="448"/>
<rect x="217.5" y="388.5" width="4" height="36" fill="#fff"/>
<line x1="227.5" y1="261" x2="227.5" y2="294"/>
<line x1="227.5" y1="388" x2="227.5" y2="389"/>
<rect x="225.5" y="294.5" width="4" height="93" fill="#fff"/>
<line x1="235.5" y1="287" x2="235.5" y2="292"/>
<line x1="235.5" y1="342" x2="235.5" y2="347"/>
<rect x="233" y="292" width="5" height="50" fill="#000" stroke="none"/>
<line x1="243.5" y1="327" x2="243.5" y2="341"/>
<line x1="243.5" y1="360" x2="243.5" y2="368"/>
<rect x="241" y="341" width="5" height="19" fill="#000" stroke="none"/>
<line x1="251.5" y1="302" x2="251.5" y2="335"/>
<line x1="251.5" y1="360" x2="251.5" y2="364"/>
<rect x="249.5" y="335.5" width="4" height="24" fill="#fff"/>
<line x1="259.5" y1="309" x2="259.5" y2="334"/>
<line x1="259.5" y1="345" x2="259.5" y2="382"/>
<rect x="257" y="334" width="5" height="11" fill="#000" stroke="none"/>
<line x1="267.5" y1="336" x2="267.5" y2="344"/>
<line x1="267.5" y1="388" x2="267.5" y2="435"/>
<rect x="265" y="344" width="5" height="44" fill="#000" stroke="none"/>
<line x1="275.5" y1="369" x2="275.5" y2="383"/>
<line x1="275.5" y1="388" x2="275.5" y2="405"/>
<rect x="273.5" y="383.5" width="4" height="4" fill="#fff"/>
<line x1="283.5" y1="346" x2="283.5" y2="360"/>
<line x1="283.5" y1="396" x2="283.5" y2="397"/>
<rect x="281.5" y="360.5" width="4" height="35" fill="#fff"/>
<line x1="291.5" y1="338" x2="291.5" y2="347"/>
<line x1="291.5" y1="361" x2="291.5" y2="363"/>
<rect x="289.5" y="347.5" width="4" height="13" fill="#fff"/>
<line x1="299.5" y1="309" x2="299.5" y2="333"/>
<rect x="297.5" y="333.5" width="4" height="14" fill="#fff"/>
<line x1="307.5" y1="282" x2="307.5" y2="291"/>
<line x1="307.5" y1="333" x2="307.5" y2="348"/>
<rect x="305.5" y="291.5" width="4" height="41" fill="#fff"/>
<line x1="315.5" y1="197" x2="315.5" y2="275"/>
<line x1="315.5" y1="292" x2="315.5" y2="300"/>
<rect x="313.5" y="275.5" width="4" height="16" fill="#fff"/>
<line x1="323.5" y1="244" x2="323.5" y2="263"/>
<line x1="323.5" y1="276" x2="323.5" y2="287"/>
<rect x="321.5" y="263.5" width="4" height="12" fill="#fff"/>
<line x1="331.5" y1="215" x2="331.5" y2="230"/>
<line x1="331.5" y1="270" x2="331.5" y2="272"/>
<rect x="329.5" y="230.5" width="4" height="39" fill="#fff"/>
<line x1="339.5" y1="204" x2="339.5" y2="210"/>
<rect x="337.5" y="210.5" width="4" height="20" fill="#fff"/>
<line x1="347.5" y1="164" x2="347.5" y2="173"/>
<line x1="347.5" y1="211" x2="347.5" y2="224"/>
<rect x="345.5" y="173.5" width="4" height="37" fill="#fff"/>
<line x1="355.5" y1="154" x2="355.5" y2="173"/>
<line x1="355.5" y1="181" x2="355.5" y2="213"/>
<rect x="353" y="173" width="5" height="8" fill="#000" stroke="none"/>
<line x1="363.5" y1="158" x2="363.5" y2="180"/>
<line x1="363.5" y1="227" x2="363.5" y2="240"/>
<rect x="361" y="180" width="5" height="47" fill="#000" stroke="none"/>
<line x1="371.5" y1="224" x2="371.5" y2="225"/>
<line x1="371.5" y1="231" x2="371.5" y2="237"/>
<rect x="369" y="225" width="5" height="6" fill="#000" stroke="none"/>
<line x1="379.5" y1="193" x2="379.5" y2="216"/>
<line x1="379.5" y1="220" x2="379.5" y2="234"/>
<rect x="377" y="216" width="5" height="4" fill="#000" stroke="none"/>
<rect x="385.5" y="194.5" width="4" height="25" fill="#fff"/>
<line x1="395.5" y1="192" x2="395.5" y2="194"/>
<line x1="395.5" y1="214" x2="395.5" y2="221"/>
<rect x="393" y="194" width="5" height="20" fill="#000" stroke="none"/>
<line x1="403.5" y1="212" x2="403.5" y2="213"/>
<line x1="403.5" y1="251" x2="403.5" y2="284"/>
<rect x="401" y="213" width="5" height="38" fill="#000" stroke="none"/>
<line x1="411.5" y1="229" x2="411.5" y2="250"/>
<line x1="411.5" y1="304" x2="411.5" y2="324"/>
<rect x="409" y="250" width="5" height="54" fill="#000" stroke="none"/>
<line x1="419.5" y1="294" x2="419.5" y2="299"/>
<line x1="419.5" y1="304" x2="419.5" y2="318"/>
<rect x="417.5" y="299.5" width="4" height="4" fill="#fff"/>
<line x1="427.5" y1="272" x2="427.5" y2="278"/>
<line x1="427.5" y1="310" x2="427.5" y2="315"/>
<rect x="425.5" y="278.5" width="4" height="31" fill="#fff"/>
<line x1="435.5" y1="264" x2="435.5" y2="272"/>
<line x1="435.5" y1="279" x2="435.5" y2="289"/>
<rect x="433.5" y="272.5" width="4" height="6" fill="#fff"/>
<line x1="443.5" y1="240" x2="443.5" y2="272"/>
<line x1="443.5" y1="285" x2="443.5" y2="289"/>
<rect x="441" y="272" width="5" height="13" fill="#000" stroke="none"/>
<line x1="451.5" y1="248" x2="451.5" y2="257"/>
<rect x="449.5" y="257.5" width="4" height="27" fill="#fff"/>
<line x1="459.5" y1="240" x2="459.5" y2="258"/>
<line x1="459.5" y1="270" x2="459.5" y2="285"/>
<rect x="457" y="258" width="5" height="12" fill="#000" stroke="none"/>
<line x1="467.5" y1="251" x2="467.5" y2="260"/>
<line x1="467.5" y1="270" x2="467.5" y2="278"/>
<rect x="465.5" y="260.5" width="4" height="9" fill="#fff"/>
<line x1="475.5" y1="222" x2="475.5" y2="225"/>
<line x1="475.5" y1="263" x2="475.5" y2="267"/>
<rect x="473.5" y="225.5" width="4" height="37" fill="#fff"/>
<line x1="483.5" y1="209" x2="483.5" y2="220"/>
<line x1="483.5" y1="226" x2="483.5" y2="236"/>
<rect x="481.5" y="220.5" width="4" height="5" fill="#fff"/>
<line x1="491.5" y1="189" x2="491.5" y2="191"/>
<line x1="491.5" y1="221" x2="491.5" y2="236"/>
<rect x="489.5" y="191.5" width="4" height="29" fill="#fff"/>
<line x1="499.5" y1="156" x2="499.5" y2="171"/>
<line x1="499.5" y1="192" x2="499.5" y2="197"/>
<rect x="497.5" y="171.5" width="4" height="20" fill="#fff"/>
<line x1="507.5" y1="155" x2="507.5" y2="171"/>
<line x1="507.5" y1="173" x2="507.5" y2="197"/>
<rect x="505" y="171" width="5" height="2" fill="#000" stroke="none"/>
<line x1="515.5" y1="150" x2="515.5" y2="151"/>
<rect x="513.5" y="151.5" width="4" height="21" fill="#fff"/>
<line x1="523.5" y1="127" x2="523.5" y2="132"/>
<line x1="523.5" y1="153" x2="523.5" y2="174"/>
<rect x="521.5" y="132.5" width="4" height="20" fill="#fff"/>
<line x1="531.5" y1="127" x2="531.5" y2="132"/>
<line x1="531.5" y1="150" x2="531.5" y2="168"/>
<rect x="529" y="132" width="5" height="18" fill="#000" stroke="none"/>
<line x1="539.5" y1="109" x2="539.5" y2="119"/>
<rect x="537.5" y="119.5" width="4" height="30" fill="#fff"/>
<line x1="547.5" y1="94" x2="547.5" y2="119"/>
<line x1="547.5" y1="127" x2="547.5" y2="146"/>
<rect x="545" y="119" width="5" height="8" fill="#000" stroke="none"/>
<line x1="555.5" y1="101" x2="555.5" y2="126"/>
<line x1="555.5" y1="127" x2="555.5" y2="145"/>
<rect x="553" y="126" width="5" height="1" fill="#000" stroke="none"/>
<rect x="561.5" y="104.5" width="4" height="22" fill="#fff"/>
<line x1="571.5" y1="91" x2="571.5" y2="98"/>
<line x1="571.5" y1="130" x2="571.5" y2="138"/>
<rect x="569.5" y="98.5" width="4" height="31" fill="#fff"/>
<line x1="579.5" y1="84" x2="579.5" y2="97"/>
<line x1="579.5" y1="99" x2="579.5" y2="111"/>
<rect x="577" y="97" width="5" height="2" fill="#000" stroke="none"/>
<line x1="587.5" y1="79" x2="587.5" y2="97"/>
<line x1="587.5" y1="107" x2="587.5" y2="115"/>
<rect x="585" y="97" width="5" height="10" fill="#000" stroke="none"/>
<line x1="595.5" y1="78" x2="595.5" y2="106"/>
<line x1="595.5" y1="149" x2="595.5" y2="160"/>
<rect x="593" y="106" width="5" height="43" fill="#000" stroke="none"/>
<line x1="603.5" y1="142" x2="603.5" y2="148"/>
<line x1="603.5" y1="202" x2="603.5" y2="224"/>
<rect x="601" y="148" width="5" height="54" fill="#000" stroke="none"/>
<line x1="611.5" y1="190" x2="611.5" y2="199"/>
<line x1="611.5" y1="202" x2="611.5" y2="216"/>
<rect x="609.5" y="199.5" width="4" height="2" fill="#fff"/>
<line x1="619.5" y1="190" x2="619.5" y2="198"/>
<line x1="619.5" y1="202" x2="619.5" y2="207"/>
<rect x="617.5" y="198.5" width="4" height="3" fill="#fff"/>
<line x1="627.5" y1="168" x2="627.5" y2="173"/>
<line x1="627.5" y1="199" x2="627.5" y2="201"/>
<rect x="625.5" y="173.5" width="4" height="25" fill="#fff"/>
<line x1="635.5" y1="160" x2="635.5" y2="173"/>
<line x1="635.5" y1="196" x2="635.5" y2="213"/>
<rect x="633" y="173" width="5" height="23" fill="#000" stroke="none"/>
<line x1="643.5" y1="164" x2="643.5" y2="195"/>
<line x1="643.5" y1="201" x2="643.5" y2="209"/>
<rect x="641" y="195" width="5" height="6" fill="#000" stroke="none"/>
<line x1="651.5" y1="134" x2="651.5" y2="142"/>
<line x1="651.5" y1="201" x2="651.5" y2="204"/>
<rect x="649.5" y="142.5" width="4" height="58" fill="#fff"/>
<line x1="659.5" y1="140" x2="659.5" y2="141"/>
<line x1="659.5" y1="150" x2="659.5" y2="160"/>
<rect x="657" y="141" width="5" height="9" fill="#000" stroke="none"/>
<line x1="667.5" y1="130" x2="667.5" y2="151"/>
<line x1="667.5" y1="166" x2="667.5" y2="173"/>
<rect x="665" y="151" width="5" height="15" fill="#000" stroke="none"/>
<line x1="675.5" y1="152" x2="675.5" y2="157"/>
<line x1="675.5" y1="166" x2="675.5" y2="179"/>
<rect x="673.5" y="157.5" width="4" height="8" fill="#fff"/>
<line x1="683.5" y1="116" x2="683.5" y2="131"/>
<line x1="683.5" y1="158" x2="683.5" y2="163"/>
<rect x="681.5" y="131.5" width="4" height="26" fill="#fff"/>
<line x1="691.5" y1="107" x2="691.5" y2="132"/>
<rect x="689" y="132" width="5" height="72" fill="#000" stroke="none"/>
<line x1="699.5" y1="165" x2="699.5" y2="167"/>
<line x1="699.5" y1="204" x2="699.5" y2="225"/>
<rect x="697.5" y="167.5" width="4" height="36" fill="#fff"/>
<line x1="707.5" y1="148" x2="707.5" y2="166"/>
<line x1="707.5" y1="168" x2="707.5" y2="175"/>
<rect x="705" y="166" width="5" height="2" fill="#000" stroke="none"/>
<line x1="715.5" y1="141" x2="715.5" y2="153"/>
<line x1="715.5" y1="167" x2="715.5" y2="176"/>
<rect x="713.5" y="153.5" width="4" height="13" fill="#fff"/>
<line x1="723.5" y1="186" x2="723.5" y2="197"/>
<rect x="721" y="153" width="5" height="33" fill="#000" stroke="none"/>
<line x1="731.5" y1="146" x2="731.5" y2="176"/>
<line x1="731.5" y1="186" x2="731.5" y2="204"/>
<rect x="729.5" y="176.5" width="4" height="9" fill="#fff"/>
<line x1="739.5" y1="159" x2="739.5" y2="176"/>
<line x1="739.5" y1="182" x2="739.5" y2="210"/>
<rect x="737" y="176" width="5" height="6" fill="#000" stroke="none"/>
<line x1="747.5" y1="168" x2="747.5" y2="182"/>
<line x1="747.5" y1="218" x2="747.5" y2="232"/>
<rect x="745" y="182" width="5" height="36" fill="#000" stroke="none"/>
<line x1="755.5" y1="191" x2="755.5" y2="204"/>
<rect x="753.5" y="204.5" width="4" height="13" fill="#fff"/>
<line x1="763.5" y1="195" x2="763.5" y2="204"/>
<line x1="763.5" y1="214" x2="763.5" y2="228"/>
<rect x="761" y="204" width="5" height="10" fill="#000" stroke="none"/>
<line x1="771.5" y1="196" x2="771.5" y2="206"/>
<line x1="771.5" y1="214" x2="771.5" y2="219"/>
<rect x="769.5" y="206.5" width="4" height="7" fill="#fff"/>
<line x1="779.5" y1="169" x2="779.5" y2="171"/>
<line x1="779.5" y1="207" x2="779.5" y2="210"/>
<rect x="777.5" y="171.5" width="4" height="35" fill="#fff"/>
<line x1="787.5" y1="148" x2="787.5" y2="153"/>
<line x1="787.5" y1="172" x2="787.5" y2="194"/>
<rect x="785.5" y="153.5" width="4" height="18" fill="#fff"/>
<line x1="795.5" y1="139" x2="795.5" y2="153"/>
<line x1="795.5" y1="190" x2="795.5" y2="218"/>
<rect x="793" y="153" width="5" height="37" fill="#000" stroke="none"/>
<line x1="803.5" y1="208" x2="803.5" y2="222"/>
<rect x="801" y="189" width="5" height="19" fill="#000" stroke="none"/>
<line x1="811.5" y1="200" x2="811.5" y2="208"/>
<line x1="811.5" y1="253" x2="811.5" y2="256"/>
<rect x="809" y="208" width="5" height="45" fill="#000" stroke="none"/>
<line x1="819.5" y1="246" x2="819.5" y2="252"/>
<line x1="819.5" y1="260" x2="819.5" y2="268"/>
<rect x="817" y="252" width="5" height="8" fill="#000" stroke="none"/>
<line x1="827.5" y1="246" x2="827.5" y2="259"/>
<line x1="827.5" y1="268" x2="827.5" y2="276"/>
<rect x="825" y="259" width="5" height="9" fill="#000" stroke="none"/>
<line x1="835.5" y1="258" x2="835.5" y2="266"/>
<line x1="835.5" y1="292" x2="835.5" y2="298"/>
<rect x="833" y="266" width="5" height="26" fill="#000" stroke="none"/>
<line x1="843.5" y1="233" x2="843.5" y2="238"/>
<line x1="843.5" y1="292" x2="843.5" y2="304"/>
<rect x="841.5" y="238.5" width="4" height="53" fill="#fff"/>
<line x1="851.5" y1="229" x2="851.5" y2="238"/>
<line x1="851.5" y1="253" x2="851.5" y2="256"/>
<rect x="849" y="238" width="5" height="15" fill="#000" stroke="none"/>
<line x1="859.5" y1="233" x2="859.5" y2="239"/>
<line x1="859.5" y1="246" x2="859.5" y2="259"/>
<rect x="857.5" y="239.5" width="4" height="6" fill="#fff"/>
<line x1="867.5" y1="220" x2="867.5" y2="221"/>
<line x1="867.5" y1="240" x2="867.5" y2="247"/>
<rect x="865.5" y="221.5" width="4" height="18" fill="#fff"/>
<line x1="875.5" y1="164" x2="875.5" y2="169"/>
<line x1="875.5" y1="222" x2="875.5" y2="227"/>
<rect x="873.5" y="169.5" width="4" height="52" fill="#fff"/>
<line x1="883.5" y1="165" x2="883.5" y2="168"/>
<line x1="883.5" y1="184" x2="883.5" y2="193"/>
<rect x="881" y="168" width="5" height="16" fill="#000" stroke="none"/>
<line x1="891.5" y1="138" x2="891.5" y2="149"/>
<line x1="891.5" y1="184" x2="891.5" y2="189"/>
<rect x="889.5" y="149.5" width="4" height="34" fill="#fff"/>
<line x1="899.5" y1="109" x2="899.5" y2="115"/>
<line x1="899.5" y1="150" x2="899.5" y2="153"/>
<rect x="897.5" y="115.5" width="4" height="34" fill="#fff"/>
<line x1="907.5" y1="97" x2="907.5" y2="101"/>
<line x1="907.5" y1="116" x2="907.5" y2="125"/>
<rect x="905.5" y="101.5" width="4" height="14" fill="#fff"/>
<line x1="915.5" y1="88" x2="915.5" y2="101"/>
<line x1="915.5" y1="103" x2="915.5" y2="105"/>
<rect x="913" y="101" width="5" height="2" fill="#000" stroke="none"/>
<line x1="923.5" y1="81" x2="923.5" y2="91"/>
<line x1="923.5" y1="103" x2="923.5" y2="117"/>
<rect x="921.5" y="91.5" width="4" height="11" fill="#fff"/>
<line x1="931.5" y1="88" x2="931.5" y2="91"/>
<line x1="931.5" y1="99" x2="931.5" y2="124"/>
<rect x="929" y="91" width="5" height="8" fill="#000" stroke="none"/>
<line x1="939.5" y1="137" x2="939.5" y2="161"/>
<rect x="937" y="98" width="5" height="39" fill="#000" stroke="none"/>
<line x1="947.5" y1="124" x2="947.5" y2="136"/>
<line x1="947.5" y1="141" x2="947.5" y2="149"/>
<rect x="945" y="136" width="5" height="5" fill="#000" stroke="none"/>
<line x1="955.5" y1="122" x2="955.5" y2="126"/>
<line x1="955.5" y1="137" x2="955.5" y2="146"/>
<rect x="953.5" y="126.5" width="4" height="10" fill="#fff"/>
<line x1="963.5" y1="125" x2="963.5" y2="126"/>
<line x1="963.5" y1="137" x2="963.5" y2="157"/>
<rect x="961" y="126" width="5" height="11" fill="#000" stroke="none"/>
<line x1="971.5" y1="99" x2="971.5" y2="125"/>
<line x1="971.5" y1="137" x2="971.5" y2="147"/>
<rect x="969.5" y="125.5" width="4" height="11" fill="#fff"/>
<line x1="979.5" y1="114" x2="979.5" y2="125"/>
<line x1="979.5" y1="148" x2="979.5" y2="154"/>
<rect x="977" y="125" width="5" height="23" fill="#000" stroke="none"/>
<line x1="987.5" y1="74" x2="987.5" y2="92"/>
<line x1="987.5" y1="148" x2="987.5" y2="151"/>
<rect x="985.5" y="92.5" width="4" height="55" fill="#fff"/>
<line x1="995.5" y1="80" x2="995.5" y2="92"/>
<line x1="995.5" y1="96" x2="995.5" y2="110"/>
<rect x="993" y="92" width="5" height="4" fill="#000" stroke="none"/>
<line x1="1003.5" y1="84" x2="1003.5" y2="94"/>
<line x1="1003.5" y1="99" x2="1003.5" y2="101"/>
<rect x="1001" y="94" width="5" height="5" fill="#000" stroke="none"/>
<line x1="1011.5" y1="89" x2="1011.5" y2="96"/>
<line x1="1011.5" y1="106" x2="1011.5" y2="113"/>
<rect x="1009" y="96" width="5" height="10" fill="#000" stroke="none"/>
<line x1="1019.5" y1="100" x2="1019.5" y2="104"/>
<line x1="1019.5" y1="136" x2="1019.5" y2="139"/>
<rect x="1017" y="104" width="5" height="32" fill="#000" stroke="none"/>
<line x1="1027.5" y1="116" x2="1027.5" y2="134"/>
<rect x="1025" y="134" width="5" height="33" fill="#000" stroke="none"/>
<line x1="1035.5" y1="156" x2="1035.5" y2="166"/>
<line x1="1035.5" y1="167" x2="1035.5" y2="197"/>
<rect x="1033" y="166" width="5" height="1" fill="#000" stroke="none"/>
<line x1="1043.5" y1="165" x2="1043.5" y2="166"/>
<line x1="1043.5" y1="186" x2="1043.5" y2="192"/>
<rect x="1041" y="166" width="5" height="20" fill="#000" stroke="none"/>
<line x1="1051.5" y1="170" x2="1051.5" y2="178"/>
<line x1="1051.5" y1="185" x2="1051.5" y2="202"/>
<rect x="1049" y="178" width="5" height="7" fill="#000" stroke="none"/>
<line x1="1059.5" y1="180" x2="1059.5" y2="184"/>
<line x1="1059.5" y1="197" x2="1059.5" y2="208"/>
<rect x="1057" y="184" width="5" height="13" fill="#000" stroke="none"/>
<line x1="1067.5" y1="194" x2="1067.5" y2="195"/>
<line x1="1067.5" y1="235" x2="1067.5" y2="243"/>
<rect x="1065" y="195" width="5" height="40" fill="#000" stroke="none"/>
<line x1="1075.5" y1="209" x2="1075.5" y2="210"/>
<line x1="1075.5" y1="236" x2="1075.5" y2="238"/>
<rect x="1073.5" y="210.5" width="4" height="25" fill="#fff"/>
<line x1="1083.5" y1="182" x2="1083.5" y2="187"/>
<line x1="1083.5" y1="211" x2="1083.5" y2="221"/>
<rect x="1081.5" y="187.5" width="4" height="23" fill="#fff"/>
<line x1="1091.5" y1="182" x2="1091.5" y2="184"/>
<line x1="1091.5" y1="189" x2="1091.5" y2="191"/>
<rect x="1089.5" y="184.5" width="4" height="4" fill="#fff"/>
<line x1="1099.5" y1="161" x2="1099.5" y2="168"/>
<line x1="1099.5" y1="186" x2="1099.5" y2="195"/>
<rect x="1097.5" y="168.5" width="4" height="17" fill="#fff"/>
<line x1="1107.5" y1="158" x2="1107.5" y2="163"/>
<line x1="1107.5" y1="169" x2="1107.5" y2="173"/>
<rect x="1105.5" y="163.5" width="4" height="5" fill="#fff"/>
<line x1="1115.5" y1="160" x2="1115.5" y2="163"/>
<line x1="1115.5" y1="165" x2="1115.5" y2="186"/>
<rect x="1113" y="163" width="5" height="2" fill="#000" stroke="none"/>
<line x1="1123.5" y1="147" x2="1123.5" y2="157"/>
<line x1="1123.5" y1="165" x2="1123.5" y2="168"/>
<rect x="1121.5" y="157.5" width="4" height="7" fill="#fff"/>
<line x1="1131.5" y1="146" x2="1131.5" y2="148"/>
<line x1="1131.5" y1="158" x2="1131.5" y2="168"/>
<rect x="1129.5" y="148.5" width="4" height="9" fill="#fff"/>
<line x1="1139.5" y1="139" x2="1139.5" y2="143"/>
<line x1="1139.5" y1="149" x2="1139.5" y2="155"/>
<rect x="1137.5" y="143.5" width="4" height="5" fill="#fff"/>
<line x1="1147.5" y1="126" x2="1147.5" y2="132"/>
<rect x="1145.5" y="132.5" width="4" height="20" fill="#fff"/>
<line x1="1155.5" y1="120" x2="1155.5" y2="123"/>
<rect x="1153.5" y="123.5" width="4" height="9" fill="#fff"/>
<line x1="1163.5" y1="82" x2="1163.5" y2="90"/>
<rect x="1161.5" y="90.5" width="4" height="34" fill="#fff"/>
<line x1="1171.5" y1="66" x2="1171.5" y2="90"/>
<line x1="1171.5" y1="107" x2="1171.5" y2="119"/>
<rect x="1169" y="90" width="5" height="17" fill="#000" stroke="none"/>
<line x1="1179.5" y1="100" x2="1179.5" y2="106"/>
<line x1="1179.5" y1="134" x2="1179.5" y2="151"/>
<rect x="1177" y="106" width="5" height="28" fill="#000" stroke="none"/>
<line x1="1187.5" y1="118" x2="1187.5" y2="120"/>
<line x1="1187.5" y1="134" x2="1187.5" y2="140"/>
<rect x="1185.5" y="120.5" width="4" height="13" fill="#fff"/>
<line x1="1195.5" y1="98" x2="1195.5" y2="106"/>
<line x1="1195.5" y1="129" x2="1195.5" y2="132"/>
<rect x="1193.5" y="106.5" width="4" height="22" fill="#fff"/>
<line x1="1203.5" y1="86" x2="1203.5" y2="87"/>
<line x1="1203.5" y1="107" x2="1203.5" y2="110"/>
<rect x="1201.5" y="87.5" width="4" height="19" fill="#fff"/>
<line x1="1211.5" y1="41" x2="1211.5" y2="52"/>
<line x1="1211.5" y1="88" x2="1211.5" y2="90"/>
<rect x="1209.5" y="52.5" width="4" height="35" fill="#fff"/>
<line x1="1219.5" y1="48" x2="1219.5" y2="52"/>
<line x1="1219.5" y1="73" x2="1219.5" y2="76"/>
<rect x="1217" y="52" width="5" height="21" fill="#000" stroke="none"/>
<line x1="1227.5" y1="47" x2="1227.5" y2="72"/>
<line x1="1227.5" y1="74" x2="1227.5" y2="78"/>
<rect x="1225" y="72" width="5" height="2" fill="#000" stroke="none"/>
<line x1="1235.5" y1="49" x2="1235.5" y2="54"/>
<line x1="1235.5" y1="74" x2="1235.5" y2="80"/>
<rect x="1233.5" y="54.5" width="4" height="19" fill="#fff"/>
<line x1="1243.5" y1="50" x2="1243.5" y2="55"/>
<line x1="1243.5" y1="68" x2="1243.5" y2="70"/>
<rect x="1241" y="55" width="5" height="13" fill="#000" stroke="none"/>
<line x1="1251.5" y1="62" x2="1251.5" y2="66"/>
<line x1="1251.5" y1="77" x2="1251.5" y2="79"/>
<rect x="1249" y="66" width="5" height="11" fill="#000" stroke="none"/>
<line x1="1259.5" y1="112" x2="1259.5" y2="126"/>
<rect x="1257" y="76" width="5" height="36" fill="#000" stroke="none"/>
<line x1="1267.5" y1="103" x2="1267.5" y2="111"/>
<line x1="1267.5" y1="130" x2="1267.5" y2="140"/>
<rect x="1265" y="111" width="5" height="19" fill="#000" stroke="none"/>
<line x1="1275.5" y1="96" x2="1275.5" y2="101"/>
<line x1="1275.5" y1="130" x2="1275.5" y2="135"/>
<rect x="1273.5" y="101.5" width="4" height="28" fill="#fff"/>
<line x1="1283.5" y1="88" x2="1283.5" y2="98"/>
<line x1="1283.5" y1="102" x2="1283.5" y2="107"/>
<rect x="1281.5" y="98.5" width="4" height="3" fill="#fff"/>
<line x1="1291.5" y1="90" x2="1291.5" y2="98"/>
<line x1="1291.5" y1="106" x2="1291.5" y2="114"/>
<rect x="1289.5" y="98.5" width="4" height="7" fill="#fff"/>
<line x1="1299.5" y1="68" x2="1299.5" y2="69"/>
<rect x="1297.5" y="69.5" width="4" height="29" fill="#fff"/>
<line x1="1307.5" y1="61" x2="1307.5" y2="69"/>
<line x1="1307.5" y1="107" x2="1307.5" y2="113"/>
<rect x="1305" y="69" width="5" height="38" fill="#000" stroke="none"/>
<line x1="1315.5" y1="83" x2="1315.5" y2="98"/>
<line x1="1315.5" y1="107" x2="1315.5" y2="111"/>
<rect x="1313.5" y="98.5" width="4" height="8" fill="#fff"/>
<line x1="1323.5" y1="90" x2="1323.5" y2="98"/>
<line x1="1323.5" y1="110" x2="1323.5" y2="129"/>
<rect x="1321" y="98" width="5" height="12" fill="#000" stroke="none"/>
<line x1="1331.5" y1="102" x2="1331.5" y2="105"/>
<line x1="1331.5" y1="110" x2="1331.5" y2="120"/>
<rect x="1329.5" y="105.5" width="4" height="4" fill="#fff"/>
<line x1="1339.5" y1="100" x2="1339.5" y2="104"/>
<line x1="1339.5" y1="107" x2="1339.5" y2="123"/>
<rect x="1337.5" y="104.5" width="4" height="2" fill="#fff"/>
<line x1="1347.5" y1="102" x2="1347.5" y2="104"/>
<line x1="1347.5" y1="124" x2="1347.5" y2="131"/>
<rect x="1345" y="104" width="5" height="20" fill="#000" stroke="none"/>
<line x1="1355.5" y1="113" x2="1355.5" y2="119"/>
<line x1="1355.5" y1="124" x2="1355.5" y2="163"/>
<rect x="1353.5" y="119.5" width="4" height="4" fill="#fff"/>
<line x1="1363.5" y1="69" x2="1363.5" y2="75"/>
<line x1="1363.5" y1="120" x2="1363.5" y2="132"/>
<rect x="1361.5" y="75.5" width="4" height="44" fill="#fff"/>
<line x1="1371.5" y1="42" x2="1371.5" y2="54"/>
<line x1="1371.5" y1="76" x2="1371.5" y2="78"/>
<rect x="1369.5" y="54.5" width="4" height="21" fill="#fff"/>
<line x1="1379.5" y1="46" x2="1379.5" y2="50"/>
<line x1="1379.5" y1="55" x2="1379.5" y2="58"/>
<rect x="1377.5" y="50.5" width="4" height="4" fill="#fff"/>
<line x1="1387.5" y1="36" x2="1387.5" y2="53"/>
<line x1="1387.5" y1="56" x2="1387.5" y2="57"/>
<rect x="1385.5" y="53.5" width="4" height="2" fill="#fff"/>
<line x1="1395.5" y1="42" x2="1395.5" y2="44"/>
<line x1="1395.5" y1="54" x2="1395.5" y2="62"/>
<rect x="1393.5" y="44.5" width="4" height="9" fill="#fff"/>
<line x1="1403.5" y1="30" x2="1403.5" y2="44"/>
<line x1="1403.5" y1="52" x2="1403.5" y2="61"/>
<rect x="1401" y="44" width="5" height="8" fill="#000" stroke="none"/>
<line x1="1411.5" y1="42" x2="1411.5" y2="51"/>
<line x1="1411.5" y1="89" x2="1411.5" y2="99"/>
<rect x="1409" y="51" width="5" height="38" fill="#000" stroke="none"/>
<line x1="1419.5" y1="70" x2="1419.5" y2="71"/>
<line x1="1419.5" y1="88" x2="1419.5" y2="119"/>
<rect x="1417.5" y="71.5" width="4" height="16" fill="#fff"/>
<line x1="1427.5" y1="56" x2="1427.5" y2="71"/>
<line x1="1427.5" y1="94" x2="1427.5" y2="108"/>
<rect x="1425" y="71" width="5" height="23" fill="#000" stroke="none"/>
<line x1="1435.5" y1="85" x2="1435.5" y2="102"/>
<line x1="1435.5" y1="103" x2="1435.5" y2="127"/>
<rect x="1433" y="102" width="5" height="1" fill="#000" stroke="none"/>
<line x1="1443.5" y1="99" x2="1443.5" y2="100"/>
<line x1="1443.5" y1="103" x2="1443.5" y2="117"/>
<rect x="1441.5" y="100.5" width="4" height="2" fill="#fff"/>
<line x1="1451.5" y1="127" x2="1451.5" y2="145"/>
<rect x="1449" y="100" width="5" height="27" fill="#000" stroke="none"/>
<line x1="1459.5" y1="127" x2="1459.5" y2="138"/>
<rect x="1457.5" y="96.5" width="4" height="30" fill="#fff"/>
<line x1="1467.5" y1="52" x2="1467.5" y2="59"/>
<line x1="1467.5" y1="98" x2="1467.5" y2="99"/>
<rect x="1465.5" y="59.5" width="4" height="38" fill="#fff"/>
<line x1="1475.5" y1="40" x2="1475.5" y2="59"/>
<line x1="1475.5" y1="64" x2="1475.5" y2="66"/>
<rect x="1473" y="59" width="5" height="5" fill="#000" stroke="none"/>
<line x1="1483.5" y1="54" x2="1483.5" y2="64"/>
<line x1="1483.5" y1="75" x2="1483.5" y2="77"/>
<rect x="1481" y="64" width="5" height="11" fill="#000" stroke="none"/>
</g>
</g>
<g clip-path="url(#cd)">
<path fill="#c0c0c0" stroke="none" shape-rendering="crispEdges" d="M123 567h9v1h-9zM122 568h1v1h-1zM132 568h1v1h-1zM121 569h1v1h-1zM133 569h1v1h-1zM121 570h1v1h-1zM134 570h1v1h-1zM120 571h1v1h-1zM135 571h1v1h-1zM119 572h1v1h-1zM136 572h1v1h-1zM118 573h1v1h-1zM137 573h1v1h-1zM117 574h1v1h-1zM138 574h1v1h-1zM117 575h1v1h-1zM139 575h1v1h-1zM116 576h1v1h-1zM140 576h1v1h-1zM115 577h1v1h-1zM140 577h1v1h-1zM114 578h1v1h-1zM141 578h1v1h-1zM113 579h1v1h-1zM141 579h1v1h-1zM113 580h1v1h-1zM142 580h1v1h-1zM112 581h1v1h-1zM142 581h1v1h-1zM111 582h1v1h-1zM143 582h1v1h-1zM110 583h1v1h-1zM143 583h1v1h-1zM109 584h1v1h-1zM144 584h1v1h-1zM109 585h1v1h-1zM144 585h1v1h-1zM108 586h1v1h-1zM145 586h1v1h-1zM107 587h1v1h-1zM145 587h1v1h-1zM106 588h1v1h-1zM146 588h1v1h-1zM106 589h1v1h-1zM146 589h1v1h-1zM105 590h1v1h-1zM147 590h1v1h-1zM105 591h1v1h-1zM147 591h1v1h-1zM104 592h1v1h-1zM147 592h1v1h-1zM104 593h1v1h-1zM148 593h1v1h-1zM103 594h1v1h-1zM148 594h1v1h-1zM102 595h1v1h-1zM149 595h1v1h-1zM102 596h1v1h-1zM149 596h1v1h-1zM101 597h1v1h-1zM150 597h1v1h-1zM101 598h1v1h-1zM150 598h1v1h-1zM100 599h1v1h-1zM150 599h1v1h-1zM100 600h1v1h-1zM151 600h1v1h-1zM99 601h1v1h-1zM151 601h1v1h-1zM98 602h1v1h-1zM152 602h1v1h-1zM98 603h1v1h-1zM152 603h1v1h-1zM97 604h1v1h-1zM152 604h1v1h-1zM97 605h1v1h-1zM153 605h1v1h-1zM96 606h1v1h-1zM153 606h1v1h-1zM95 607h1v1h-1zM154 607h1v1h-1zM95 608h1v1h-1zM154 608h1v1h-1zM94 609h1v1h-1zM155 609h1v1h-1zM93 610h1v1h-1zM155 610h1v1h-1zM577 610h6v1h-6zM93 611h1v1h-1zM156 611h1v1h-1zM573 611h4v1h-4zM583 611h5v1h-5zM92 612h1v1h-1zM156 612h1v1h-1zM571 612h2v1h-2zM588 612h1v1h-1zM92 613h1v1h-1zM157 613h1v1h-1zM569 613h2v1h-2zM588 613h1v1h-1zM91 614h1v1h-1zM157 614h1v1h-1zM567 614h2v1h-2zM589 614h1v1h-1zM90 615h1v1h-1zM158 615h1v1h-1zM566 615h1v1h-1zM589 615h1v1h-1zM89 616h1v1h-1zM159 616h1v1h-1zM564 616h2v1h-2zM590 616h1v1h-1zM88 617h1v1h-1zM159 617h1v1h-1zM563 617h1v1h-1zM590 617h1v1h-1zM87 618h1v1h-1zM160 618h1v1h-1zM561 618h2v1h-2zM591 618h1v1h-1zM86 619h1v1h-1zM161 619h1v1h-1zM560 619h1v1h-1zM592 619h1v1h-1zM85 620h1v1h-1zM161 620h1v1h-1zM559 620h1v1h-1zM592 620h1v1h-1zM84 621h1v1h-1zM162 621h1v1h-1zM557 621h2v1h-2zM593 621h1v1h-1zM83 622h1v1h-1zM162 622h1v1h-1zM556 622h1v1h-1zM593 622h1v1h-1zM82 623h1v1h-1zM163 623h1v1h-1zM554 623h2v1h-2zM594 623h1v1h-1zM81 624h1v1h-1zM164 624h1v1h-1zM551 624h3v1h-3zM594 624h1v1h-1zM80 625h1v1h-1zM164 625h1v1h-1zM549 625h2v1h-2zM595 625h1v1h-1zM79 626h1v1h-1zM165 626h1v1h-1zM547 626h2v1h-2zM595 626h1v1h-1zM78 627h1v1h-1zM165 627h1v1h-1zM545 627h2v1h-2zM596 627h1v1h-1zM77 628h1v1h-1zM166 628h1v1h-1zM543 628h2v1h-2zM596 628h1v1h-1zM76 629h1v1h-1zM167 629h1v1h-1zM542 629h1v1h-1zM596 629h1v1h-1zM71 630h5v1h-5zM167 630h1v1h-1zM540 630h2v1h-2zM597 630h1v1h-1zM67 631h4v1h-4zM168 631h1v1h-1zM539 631h1v1h-1zM597 631h1v1h-1zM67 632h1v1h-1zM169 632h1v1h-1zM538 632h1v1h-1zM597 632h1v1h-1zM66 633h1v1h-1zM169 633h1v1h-1zM537 633h1v1h-1zM598 633h1v1h-1zM66 634h1v1h-1zM170 634h1v1h-1zM537 634h1v1h-1zM598 634h1v1h-1zM65 635h1v1h-1zM170 635h1v1h-1zM536 635h1v1h-1zM598 635h1v1h-1zM65 636h1v1h-1zM171 636h1v1h-1zM535 636h1v1h-1zM599 636h1v1h-1zM64 637h1v1h-1zM171 637h1v1h-1zM534 637h1v1h-1zM599 637h1v1h-1zM64 638h1v1h-1zM172 638h1v1h-1zM533 638h1v1h-1zM599 638h1v1h-1zM64 639h1v1h-1zM172 639h1v1h-1zM533 639h1v1h-1zM599 639h1v1h-1zM63 640h1v1h-1zM173 640h1v1h-1zM532 640h1v1h-1zM600 640h1v1h-1zM63 641h1v1h-1zM173 641h1v1h-1zM531 641h1v1h-1zM600 641h1v1h-1zM62 642h1v1h-1zM174 642h1v1h-1zM387 642h2v1h-2zM529 642h2v1h-2zM600 642h1v1h-1zM62 643h1v1h-1zM174 643h1v1h-1zM385 643h2v1h-2zM389 643h4v1h-4zM527 643h2v1h-2zM601 643h1v1h-1zM62 644h1v1h-1zM175 644h1v1h-1zM384 644h1v1h-1zM393 644h3v1h-3zM526 644h1v1h-1zM601 644h1v1h-1zM61 645h1v1h-1zM175 645h1v1h-1zM383 645h1v1h-1zM396 645h1v1h-1zM524 645h2v1h-2zM601 645h1v1h-1zM61 646h1v1h-1zM176 646h1v1h-1zM381 646h2v1h-2zM396 646h1v1h-1zM523 646h1v1h-1zM602 646h1v1h-1zM60 647h1v1h-1zM176 647h1v1h-1zM361 647h4v1h-4zM380 647h1v1h-1zM397 647h1v1h-1zM522 647h1v1h-1zM602 647h1v1h-1zM60 648h1v1h-1zM177 648h1v1h-1zM357 648h4v1h-4zM365 648h4v1h-4zM375 648h5v1h-5zM398 648h1v1h-1zM522 648h1v1h-1zM602 648h1v1h-1zM59 649h1v1h-1zM177 649h1v1h-1zM355 649h2v1h-2zM369 649h6v1h-6zM399 649h1v1h-1zM521 649h1v1h-1zM603 649h1v1h-1zM59 650h1v1h-1zM178 650h1v1h-1zM355 650h1v1h-1zM399 650h1v1h-1zM521 650h1v1h-1zM603 650h1v1h-1zM59 651h1v1h-1zM178 651h1v1h-1zM354 651h1v1h-1zM400 651h1v1h-1zM520 651h1v1h-1zM603 651h1v1h-1zM58 652h1v1h-1zM179 652h1v1h-1zM354 652h1v1h-1zM401 652h1v1h-1zM520 652h1v1h-1zM604 652h1v1h-1zM58 653h1v1h-1zM179 653h1v1h-1zM353 653h1v1h-1zM402 653h1v1h-1zM519 653h1v1h-1zM604 653h1v1h-1zM57 654h1v1h-1zM179 654h1v1h-1zM353 654h1v1h-1zM402 654h1v1h-1zM518 654h1v1h-1zM605 654h1v1h-1zM57 655h1v1h-1zM179 655h1v1h-1zM352 655h1v1h-1zM403 655h1v1h-1zM518 655h1v1h-1zM605 655h1v1h-1zM57 656h1v1h-1zM180 656h1v1h-1zM352 656h1v1h-1zM403 656h1v1h-1zM517 656h1v1h-1zM605 656h1v1h-1zM56 657h1v1h-1zM180 657h1v1h-1zM351 657h1v1h-1zM404 657h1v1h-1zM517 657h1v1h-1zM606 657h1v1h-1zM56 658h1v1h-1zM180 658h1v1h-1zM351 658h1v1h-1zM404 658h1v1h-1zM516 658h1v1h-1zM606 658h1v1h-1zM56 659h1v1h-1zM180 659h1v1h-1zM350 659h1v1h-1zM404 659h1v1h-1zM516 659h1v1h-1zM607 659h1v1h-1zM55 660h1v1h-1zM180 660h1v1h-1zM350 660h1v1h-1zM405 660h1v1h-1zM515 660h1v1h-1zM607 660h1v1h-1zM55 661h1v1h-1zM181 661h1v1h-1zM349 661h1v1h-1zM405 661h1v1h-1zM514 661h1v1h-1zM607 661h1v1h-1zM54 662h1v1h-1zM181 662h1v1h-1zM349 662h1v1h-1zM405 662h1v1h-1zM514 662h1v1h-1zM608 662h1v1h-1zM54 663h1v1h-1zM181 663h1v1h-1zM348 663h1v1h-1zM406 663h1v1h-1zM513 663h1v1h-1zM608 663h1v1h-1zM54 664h1v1h-1zM181 664h1v1h-1zM348 664h1v1h-1zM406 664h1v1h-1zM512 664h1v1h-1zM609 664h1v1h-1zM53 665h1v1h-1zM182 665h1v1h-1zM347 665h1v1h-1zM406 665h1v1h-1zM512 665h1v1h-1zM609 665h1v1h-1zM1239 665h6v1h-6zM53 666h1v1h-1zM182 666h1v1h-1zM347 666h1v1h-1zM407 666h1v1h-1zM511 666h1v1h-1zM609 666h1v1h-1zM931 666h2v1h-2zM1235 666h4v1h-4zM1245 666h2v1h-2zM53 667h1v1h-1zM182 667h1v1h-1zM347 667h1v1h-1zM407 667h1v1h-1zM510 667h1v1h-1zM610 667h1v1h-1zM930 667h1v1h-1zM933 667h2v1h-2zM1234 667h1v1h-1zM1247 667h3v1h-3zM52 668h1v1h-1zM182 668h1v1h-1zM346 668h1v1h-1zM408 668h1v1h-1zM510 668h1v1h-1zM610 668h1v1h-1zM929 668h1v1h-1zM935 668h3v1h-3zM1233 668h1v1h-1zM1250 668h2v1h-2zM52 669h1v1h-1zM182 669h1v1h-1zM346 669h1v1h-1zM408 669h1v1h-1zM509 669h1v1h-1zM611 669h1v1h-1zM928 669h1v1h-1zM938 669h2v1h-2zM1231 669h2v1h-2zM1252 669h1v1h-1zM51 670h1v1h-1zM183 670h1v1h-1zM346 670h1v1h-1zM408 670h1v1h-1zM508 670h1v1h-1zM611 670h1v1h-1zM927 670h1v1h-1zM940 670h2v1h-2zM1230 670h1v1h-1zM1252 670h1v1h-1zM51 671h1v1h-1zM183 671h1v1h-1zM345 671h1v1h-1zM409 671h1v1h-1zM508 671h1v1h-1zM612 671h1v1h-1zM927 671h1v1h-1zM942 671h1v1h-1zM1229 671h1v1h-1zM1253 671h1v1h-1zM50 672h1v1h-1zM183 672h1v1h-1zM345 672h1v1h-1zM409 672h1v1h-1zM507 672h1v1h-1zM612 672h1v1h-1zM926 672h1v1h-1zM943 672h2v1h-2zM1228 672h1v1h-1zM1254 672h1v1h-1zM50 673h1v1h-1zM183 673h1v1h-1zM345 673h1v1h-1zM409 673h1v1h-1zM506 673h1v1h-1zM613 673h1v1h-1zM925 673h1v1h-1zM945 673h2v1h-2zM1001 673h6v1h-6zM1226 673h2v1h-2zM1255 673h1v1h-1zM49 674h1v1h-1zM183 674h1v1h-1zM344 674h1v1h-1zM410 674h1v1h-1zM505 674h1v1h-1zM613 674h1v1h-1zM924 674h1v1h-1zM947 674h9v1h-9zM997 674h4v1h-4zM1007 674h5v1h-5zM1223 674h3v1h-3zM1255 674h1v1h-1zM49 675h1v1h-1zM184 675h1v1h-1zM344 675h1v1h-1zM410 675h1v1h-1zM505 675h1v1h-1zM614 675h1v1h-1zM923 675h1v1h-1zM956 675h2v1h-2zM994 675h3v1h-3zM1012 675h1v1h-1zM1221 675h2v1h-2zM1256 675h1v1h-1zM48 676h1v1h-1zM184 676h1v1h-1zM344 676h1v1h-1zM410 676h1v1h-1zM504 676h1v1h-1zM614 676h1v1h-1zM922 676h1v1h-1zM958 676h2v1h-2zM992 676h2v1h-2zM1013 676h1v1h-1zM1219 676h2v1h-2zM1257 676h1v1h-1zM48 677h1v1h-1zM184 677h1v1h-1zM343 677h1v1h-1zM411 677h1v1h-1zM503 677h1v1h-1zM615 677h1v1h-1zM922 677h1v1h-1zM960 677h2v1h-2zM990 677h2v1h-2zM1014 677h1v1h-1zM1217 677h2v1h-2zM1258 677h1v1h-1zM47 678h1v1h-1zM184 678h1v1h-1zM343 678h1v1h-1zM411 678h1v1h-1zM502 678h1v1h-1zM615 678h1v1h-1zM921 678h1v1h-1zM962 678h5v1h-5zM988 678h2v1h-2zM1015 678h1v1h-1zM1215 678h2v1h-2zM1258 678h1v1h-1zM47 679h1v1h-1zM184 679h1v1h-1zM343 679h1v1h-1zM411 679h1v1h-1zM501 679h1v1h-1zM616 679h1v1h-1zM921 679h1v1h-1zM967 679h5v1h-5zM987 679h1v1h-1zM1015 679h1v1h-1zM1214 679h1v1h-1zM1259 679h1v1h-1zM46 680h1v1h-1zM185 680h1v1h-1zM343 680h1v1h-1zM412 680h1v1h-1zM501 680h1v1h-1zM616 680h1v1h-1zM920 680h1v1h-1zM972 680h1v1h-1zM986 680h1v1h-1zM1016 680h1v1h-1zM1212 680h2v1h-2zM1260 680h1v1h-1zM46 681h1v1h-1zM185 681h1v1h-1zM342 681h1v1h-1zM412 681h1v1h-1zM500 681h1v1h-1zM617 681h1v1h-1zM920 681h1v1h-1zM973 681h1v1h-1zM985 681h1v1h-1zM1017 681h1v1h-1zM1211 681h1v1h-1zM1260 681h1v1h-1zM45 682h1v1h-1zM185 682h1v1h-1zM342 682h1v1h-1zM413 682h1v1h-1zM499 682h1v1h-1zM617 682h1v1h-1zM919 682h1v1h-1zM974 682h1v1h-1zM983 682h2v1h-2zM1018 682h1v1h-1zM1210 682h1v1h-1zM1261 682h1v1h-1zM45 683h1v1h-1zM185 683h1v1h-1zM342 683h1v1h-1zM413 683h1v1h-1zM498 683h1v1h-1zM618 683h1v1h-1zM918 683h1v1h-1zM975 683h2v1h-2zM982 683h1v1h-1zM1019 683h1v1h-1zM1210 683h1v1h-1zM1261 683h1v1h-1zM44 684h1v1h-1zM186 684h1v1h-1zM341 684h1v1h-1zM414 684h1v1h-1zM498 684h1v1h-1zM618 684h1v1h-1zM918 684h1v1h-1zM977 684h1v1h-1zM981 684h1v1h-1zM1020 684h1v1h-1zM1209 684h1v1h-1zM1262 684h1v1h-1zM44 685h1v1h-1zM186 685h1v1h-1zM341 685h1v1h-1zM414 685h1v1h-1zM497 685h1v1h-1zM619 685h1v1h-1zM917 685h1v1h-1zM978 685h1v1h-1zM980 685h1v1h-1zM1020 685h1v1h-1zM1209 685h1v1h-1zM1262 685h1v1h-1zM43 686h1v1h-1zM186 686h1v1h-1zM341 686h1v1h-1zM415 686h1v1h-1zM497 686h1v1h-1zM619 686h1v1h-1zM917 686h1v1h-1zM979 686h1v1h-1zM1021 686h1v1h-1zM1208 686h1v1h-1zM1263 686h1v1h-1zM42 687h1v1h-1zM186 687h1v1h-1zM340 687h1v1h-1zM415 687h1v1h-1zM496 687h1v1h-1zM620 687h1v1h-1zM916 687h1v1h-1zM1021 687h1v1h-1zM1208 687h1v1h-1zM1263 687h1v1h-1zM42 688h1v1h-1zM186 688h1v1h-1zM340 688h1v1h-1zM415 688h1v1h-1zM496 688h1v1h-1zM621 688h1v1h-1zM916 688h1v1h-1zM1022 688h1v1h-1zM1207 688h1v1h-1zM1264 688h1v1h-1zM41 689h1v1h-1zM187 689h1v1h-1zM340 689h1v1h-1zM416 689h1v1h-1zM495 689h1v1h-1zM622 689h1v1h-1zM915 689h1v1h-1zM1022 689h1v1h-1zM1206 689h1v1h-1zM1264 689h1v1h-1zM41 690h1v1h-1zM187 690h1v1h-1zM339 690h1v1h-1zM416 690h1v1h-1zM494 690h1v1h-1zM623 690h2v1h-2zM915 690h1v1h-1zM1023 690h1v1h-1zM1206 690h1v1h-1zM1265 690h1v1h-1zM40 691h1v1h-1zM187 691h1v1h-1zM339 691h1v1h-1zM417 691h1v1h-1zM494 691h1v1h-1zM625 691h1v1h-1zM914 691h1v1h-1zM1023 691h1v1h-1zM1205 691h1v1h-1zM1265 691h1v1h-1zM39 692h1v1h-1zM187 692h1v1h-1zM339 692h1v1h-1zM417 692h1v1h-1zM493 692h1v1h-1zM626 692h1v1h-1zM914 692h1v1h-1zM1024 692h1v1h-1zM1205 692h1v1h-1zM1266 692h1v1h-1zM39 693h1v1h-1zM187 693h1v1h-1zM338 693h1v1h-1zM418 693h1v1h-1zM493 693h1v1h-1zM627 693h1v1h-1zM913 693h1v1h-1zM1024 693h1v1h-1zM1204 693h1v1h-1zM1266 693h1v1h-1zM38 694h1v1h-1zM188 694h1v1h-1zM338 694h1v1h-1zM418 694h1v1h-1zM492 694h1v1h-1zM628 694h1v1h-1zM913 694h1v1h-1zM1025 694h1v1h-1zM1204 694h1v1h-1zM1267 694h1v1h-1zM1402 694h2v1h-2zM37 695h1v1h-1zM188 695h1v1h-1zM338 695h1v1h-1zM419 695h1v1h-1zM492 695h1v1h-1zM628 695h1v1h-1zM912 695h1v1h-1zM1025 695h1v1h-1zM1203 695h1v1h-1zM1268 695h2v1h-2zM1399 695h3v1h-3zM1404 695h1v1h-1zM37 696h1v1h-1zM188 696h1v1h-1zM337 696h1v1h-1zM419 696h1v1h-1zM491 696h1v1h-1zM629 696h1v1h-1zM912 696h1v1h-1zM1026 696h1v1h-1zM1202 696h1v1h-1zM1270 696h2v1h-2zM1397 696h2v1h-2zM1405 696h1v1h-1zM36 697h1v1h-1zM188 697h1v1h-1zM337 697h1v1h-1zM420 697h1v1h-1zM490 697h1v1h-1zM630 697h1v1h-1zM911 697h1v1h-1zM1026 697h1v1h-1zM1201 697h1v1h-1zM1272 697h2v1h-2zM1395 697h2v1h-2zM1406 697h1v1h-1zM36 698h1v1h-1zM189 698h1v1h-1zM336 698h1v1h-1zM421 698h1v1h-1zM490 698h1v1h-1zM630 698h1v1h-1zM911 698h1v1h-1zM1027 698h1v1h-1zM1200 698h1v1h-1zM1274 698h2v1h-2zM1393 698h2v1h-2zM1407 698h1v1h-1zM35 699h1v1h-1zM189 699h1v1h-1zM336 699h1v1h-1zM421 699h1v1h-1zM489 699h1v1h-1zM631 699h1v1h-1zM910 699h1v1h-1zM1028 699h1v1h-1zM1199 699h1v1h-1zM1276 699h2v1h-2zM1392 699h1v1h-1zM1408 699h1v1h-1zM35 700h1v1h-1zM189 700h1v1h-1zM336 700h1v1h-1zM422 700h1v1h-1zM489 700h1v1h-1zM632 700h1v1h-1zM910 700h1v1h-1zM1028 700h1v1h-1zM1198 700h1v1h-1zM1278 700h2v1h-2zM1391 700h1v1h-1zM1409 700h1v1h-1zM34 701h1v1h-1zM189 701h1v1h-1zM335 701h1v1h-1zM423 701h1v1h-1zM488 701h1v1h-1zM632 701h1v1h-1zM909 701h1v1h-1zM1029 701h1v1h-1zM1197 701h1v1h-1zM1280 701h2v1h-2zM1298 701h2v1h-2zM1389 701h2v1h-2zM1410 701h1v1h-1zM34 702h1v1h-1zM190 702h1v1h-1zM335 702h1v1h-1zM424 702h1v1h-1zM487 702h1v1h-1zM633 702h1v1h-1zM909 702h1v1h-1zM1029 702h1v1h-1zM1196 702h1v1h-1zM1282 702h3v1h-3zM1296 702h2v1h-2zM1300 702h1v1h-1zM1388 702h1v1h-1zM1411 702h2v1h-2zM34 703h1v1h-1zM190 703h1v1h-1zM335 703h1v1h-1zM425 703h1v1h-1zM487 703h1v1h-1zM634 703h1v1h-1zM908 703h1v1h-1zM1030 703h1v1h-1zM1194 703h2v1h-2zM1285 703h2v1h-2zM1294 703h2v1h-2zM1301 703h2v1h-2zM1387 703h1v1h-1zM1413 703h4v1h-4zM33 704h1v1h-1zM190 704h1v1h-1zM334 704h1v1h-1zM425 704h1v1h-1zM486 704h1v1h-1zM634 704h1v1h-1zM908 704h1v1h-1zM1031 704h1v1h-1zM1192 704h2v1h-2zM1287 704h3v1h-3zM1292 704h2v1h-2zM1303 704h1v1h-1zM1385 704h2v1h-2zM1417 704h3v1h-3zM33 705h1v1h-1zM190 705h1v1h-1zM334 705h1v1h-1zM426 705h1v1h-1zM485 705h1v1h-1zM635 705h1v1h-1zM683 705h1v1h-1zM907 705h1v1h-1zM1031 705h1v1h-1zM1190 705h2v1h-2zM1290 705h2v1h-2zM1304 705h1v1h-1zM1384 705h1v1h-1zM1420 705h1v1h-1zM33 706h1v1h-1zM191 706h1v1h-1zM334 706h1v1h-1zM427 706h1v1h-1zM485 706h1v1h-1zM636 706h1v1h-1zM681 706h2v1h-2zM684 706h1v1h-1zM907 706h1v1h-1zM1032 706h1v1h-1zM1188 706h2v1h-2zM1305 706h2v1h-2zM1383 706h1v1h-1zM1421 706h1v1h-1zM32 707h1v1h-1zM191 707h1v1h-1zM333 707h1v1h-1zM428 707h1v1h-1zM484 707h1v1h-1zM636 707h1v1h-1zM680 707h1v1h-1zM684 707h1v1h-1zM906 707h1v1h-1zM1033 707h1v1h-1zM1171 707h2v1h-2zM1185 707h3v1h-3zM1307 707h2v1h-2zM1381 707h2v1h-2zM1422 707h1v1h-1zM32 708h1v1h-1zM191 708h1v1h-1zM333 708h1v1h-1zM429 708h2v1h-2zM484 708h1v1h-1zM637 708h1v1h-1zM657 708h4v1h-4zM679 708h1v1h-1zM685 708h1v1h-1zM906 708h1v1h-1zM1033 708h1v1h-1zM1170 708h1v1h-1zM1173 708h4v1h-4zM1181 708h4v1h-4zM1309 708h2v1h-2zM1380 708h1v1h-1zM1423 708h2v1h-2zM32 709h1v1h-1zM191 709h1v1h-1zM332 709h1v1h-1zM431 709h1v1h-1zM483 709h1v1h-1zM638 709h1v1h-1zM653 709h4v1h-4zM661 709h2v1h-2zM677 709h2v1h-2zM685 709h1v1h-1zM905 709h1v1h-1zM1034 709h1v1h-1zM1169 709h1v1h-1zM1177 709h4v1h-4zM1311 709h3v1h-3zM1379 709h1v1h-1zM1425 709h1v1h-1zM31 710h1v1h-1zM191 710h1v1h-1zM332 710h1v1h-1zM432 710h1v1h-1zM482 710h1v1h-1zM639 710h1v1h-1zM651 710h2v1h-2zM663 710h3v1h-3zM676 710h1v1h-1zM686 710h1v1h-1zM905 710h1v1h-1zM1034 710h1v1h-1zM1167 710h2v1h-2zM1314 710h2v1h-2zM1378 710h1v1h-1zM1426 710h1v1h-1zM31 711h1v1h-1zM192 711h1v1h-1zM332 711h1v1h-1zM433 711h2v1h-2zM481 711h1v1h-1zM639 711h1v1h-1zM649 711h2v1h-2zM666 711h10v1h-10zM686 711h1v1h-1zM905 711h1v1h-1zM1035 711h1v1h-1zM1166 711h1v1h-1zM1316 711h1v1h-1zM1377 711h1v1h-1zM1427 711h1v1h-1zM30 712h1v1h-1zM192 712h1v1h-1zM331 712h1v1h-1zM435 712h1v1h-1zM479 712h2v1h-2zM640 712h1v1h-1zM648 712h1v1h-1zM687 712h1v1h-1zM904 712h1v1h-1zM1036 712h1v1h-1zM1165 712h1v1h-1zM1317 712h2v1h-2zM1376 712h1v1h-1zM1428 712h1v1h-1zM30 713h1v1h-1zM192 713h1v1h-1zM331 713h1v1h-1zM436 713h1v1h-1zM478 713h1v1h-1zM641 713h1v1h-1zM647 713h1v1h-1zM688 713h1v1h-1zM904 713h1v1h-1zM1036 713h1v1h-1zM1164 713h1v1h-1zM1319 713h1v1h-1zM1375 713h1v1h-1zM1429 713h1v1h-1zM30 714h1v1h-1zM192 714h1v1h-1zM331 714h1v1h-1zM437 714h1v1h-1zM477 714h1v1h-1zM642 714h1v1h-1zM645 714h2v1h-2zM688 714h1v1h-1zM904 714h1v1h-1zM1037 714h1v1h-1zM1163 714h1v1h-1zM1320 714h1v1h-1zM1375 714h1v1h-1zM1430 714h1v1h-1zM29 715h1v1h-1zM193 715h1v1h-1zM330 715h1v1h-1zM438 715h1v1h-1zM476 715h1v1h-1zM642 715h1v1h-1zM644 715h1v1h-1zM689 715h1v1h-1zM903 715h1v1h-1zM1037 715h1v1h-1zM1162 715h1v1h-1zM1321 715h2v1h-2zM1374 715h1v1h-1zM1431 715h1v1h-1zM29 716h1v1h-1zM193 716h1v1h-1zM330 716h1v1h-1zM439 716h1v1h-1zM475 716h1v1h-1zM643 716h1v1h-1zM689 716h1v1h-1zM903 716h1v1h-1zM1038 716h1v1h-1zM1162 716h1v1h-1zM1323 716h1v1h-1zM1373 716h1v1h-1zM1431 716h1v1h-1zM29 717h1v1h-1zM193 717h1v1h-1zM330 717h1v1h-1zM440 717h1v1h-1zM474 717h1v1h-1zM690 717h1v1h-1zM902 717h1v1h-1zM1038 717h1v1h-1zM1161 717h1v1h-1zM1324 717h2v1h-2zM1372 717h1v1h-1zM1432 717h1v1h-1zM28 718h1v1h-1zM193 718h1v1h-1zM329 718h1v1h-1zM441 718h1v1h-1zM473 718h1v1h-1zM690 718h1v1h-1zM902 718h1v1h-1zM1039 718h1v1h-1zM1161 718h1v1h-1zM1326 718h2v1h-2zM1371 718h1v1h-1zM1433 718h1v1h-1zM28 719h1v1h-1zM194 719h1v1h-1zM329 719h1v1h-1zM442 719h1v1h-1zM472 719h1v1h-1zM691 719h2v1h-2zM902 719h1v1h-1zM1039 719h1v1h-1zM1160 719h1v1h-1zM1328 719h2v1h-2zM1370 719h1v1h-1zM1434 719h1v1h-1zM28 720h1v1h-1zM194 720h1v1h-1zM328 720h1v1h-1zM443 720h9v1h-9zM471 720h1v1h-1zM693 720h2v1h-2zM901 720h1v1h-1zM1040 720h1v1h-1zM1160 720h1v1h-1zM1330 720h3v1h-3zM1370 720h1v1h-1zM1435 720h1v1h-1zM27 721h1v1h-1zM194 721h1v1h-1zM328 721h1v1h-1zM452 721h2v1h-2zM470 721h1v1h-1zM695 721h3v1h-3zM901 721h1v1h-1zM1040 721h1v1h-1zM1159 721h1v1h-1zM1333 721h2v1h-2zM1369 721h1v1h-1zM1436 721h1v1h-1zM27 722h1v1h-1zM194 722h1v1h-1zM328 722h1v1h-1zM454 722h2v1h-2zM469 722h1v1h-1zM698 722h5v1h-5zM711 722h5v1h-5zM901 722h1v1h-1zM1041 722h1v1h-1zM1159 722h1v1h-1zM1335 722h3v1h-3zM1368 722h1v1h-1zM1437 722h1v1h-1zM27 723h1v1h-1zM195 723h1v1h-1zM327 723h1v1h-1zM456 723h2v1h-2zM468 723h1v1h-1zM703 723h8v1h-8zM716 723h1v1h-1zM900 723h1v1h-1zM1041 723h1v1h-1zM1158 723h1v1h-1zM1338 723h2v1h-2zM1367 723h1v1h-1zM1438 723h1v1h-1zM26 724h1v1h-1zM195 724h1v1h-1zM327 724h1v1h-1zM458 724h10v1h-10zM717 724h1v1h-1zM900 724h1v1h-1zM1042 724h1v1h-1zM1158 724h1v1h-1zM1340 724h1v1h-1zM1367 724h1v1h-1zM1439 724h2v1h-2zM26 725h1v1h-1zM195 725h1v1h-1zM327 725h1v1h-1zM718 725h1v1h-1zM899 725h1v1h-1zM1042 725h1v1h-1zM1157 725h1v1h-1zM1341 725h1v1h-1zM1366 725h1v1h-1zM1441 725h1v1h-1zM25 726h1v1h-1zM195 726h1v1h-1zM326 726h1v1h-1zM719 726h2v1h-2zM899 726h1v1h-1zM1043 726h1v1h-1zM1157 726h1v1h-1zM1342 726h1v1h-1zM1365 726h1v1h-1zM1442 726h1v1h-1zM25 727h1v1h-1zM195 727h1v1h-1zM326 727h1v1h-1zM721 727h1v1h-1zM899 727h1v1h-1zM1044 727h1v1h-1zM1156 727h1v1h-1zM1343 727h1v1h-1zM1364 727h1v1h-1zM1443 727h1v1h-1zM1479 727h5v1h-5zM24 728h1v1h-1zM195 728h1v1h-1zM326 728h1v1h-1zM722 728h1v1h-1zM898 728h1v1h-1zM1044 728h1v1h-1zM1156 728h1v1h-1zM1344 728h1v1h-1zM1364 728h1v1h-1zM1444 728h1v1h-1zM1475 728h4v1h-4zM24 729h1v1h-1zM196 729h1v1h-1zM325 729h1v1h-1zM723 729h2v1h-2zM898 729h1v1h-1zM1045 729h1v1h-1zM1155 729h1v1h-1zM1345 729h1v1h-1zM1363 729h1v1h-1zM1444 729h1v1h-1zM1473 729h2v1h-2zM24 730h1v1h-1zM196 730h1v1h-1zM325 730h1v1h-1zM725 730h2v1h-2zM898 730h1v1h-1zM1046 730h1v1h-1zM1154 730h1v1h-1zM1346 730h1v1h-1zM1362 730h1v1h-1zM1445 730h1v1h-1zM1471 730h2v1h-2zM23 731h1v1h-1zM196 731h1v1h-1zM324 731h1v1h-1zM727 731h3v1h-3zM897 731h1v1h-1zM1046 731h1v1h-1zM1153 731h1v1h-1zM1347 731h1v1h-1zM1361 731h1v1h-1zM1446 731h1v1h-1zM1470 731h1v1h-1zM23 732h1v1h-1zM196 732h1v1h-1zM324 732h1v1h-1zM730 732h2v1h-2zM897 732h1v1h-1zM1047 732h1v1h-1zM1152 732h1v1h-1zM1348 732h2v1h-2zM1359 732h2v1h-2zM1447 732h1v1h-1zM1468 732h2v1h-2zM22 733h1v1h-1zM196 733h1v1h-1zM324 733h1v1h-1zM732 733h2v1h-2zM897 733h1v1h-1zM1048 733h1v1h-1zM1151 733h1v1h-1zM1350 733h1v1h-1zM1358 733h1v1h-1zM1447 733h1v1h-1zM1467 733h1v1h-1zM22 734h1v1h-1zM196 734h1v1h-1zM323 734h1v1h-1zM734 734h2v1h-2zM896 734h1v1h-1zM1048 734h1v1h-1zM1150 734h1v1h-1zM1351 734h2v1h-2zM1357 734h1v1h-1zM1448 734h1v1h-1zM1466 734h1v1h-1zM22 735h1v1h-1zM197 735h1v1h-1zM323 735h1v1h-1zM736 735h2v1h-2zM896 735h1v1h-1zM1049 735h1v1h-1zM1149 735h1v1h-1zM1353 735h2v1h-2zM1356 735h1v1h-1zM1449 735h1v1h-1zM1465 735h1v1h-1zM21 736h1v1h-1zM197 736h1v1h-1zM322 736h1v1h-1zM738 736h2v1h-2zM896 736h1v1h-1zM1050 736h1v1h-1zM1148 736h1v1h-1zM1355 736h1v1h-1zM1450 736h1v1h-1zM1463 736h2v1h-2zM21 737h1v1h-1zM197 737h1v1h-1zM322 737h1v1h-1zM740 737h1v1h-1zM895 737h1v1h-1zM1050 737h1v1h-1zM1147 737h1v1h-1zM1450 737h1v1h-1zM1462 737h1v1h-1zM20 738h1v1h-1zM197 738h1v1h-1zM321 738h1v1h-1zM740 738h1v1h-1zM895 738h1v1h-1zM1051 738h1v1h-1zM1146 738h1v1h-1zM1451 738h2v1h-2zM1461 738h1v1h-1zM20 739h1v1h-1zM197 739h1v1h-1zM321 739h1v1h-1zM741 739h1v1h-1zM894 739h1v1h-1zM1052 739h1v1h-1zM1145 739h1v1h-1zM1453 739h4v1h-4zM1460 739h1v1h-1zM19 740h1v1h-1zM197 740h1v1h-1zM320 740h1v1h-1zM742 740h1v1h-1zM894 740h1v1h-1zM1052 740h1v1h-1zM1144 740h1v1h-1zM1457 740h3v1h-3zM19 741h1v1h-1zM197 741h1v1h-1zM320 741h1v1h-1zM742 741h1v1h-1zM894 741h1v1h-1zM1053 741h1v1h-1zM1143 741h1v1h-1zM18 742h1v1h-1zM198 742h1v1h-1zM319 742h1v1h-1zM743 742h1v1h-1zM893 742h1v1h-1zM1054 742h1v1h-1zM1142 742h1v1h-1zM18 743h1v1h-1zM198 743h1v1h-1zM319 743h1v1h-1zM744 743h1v1h-1zM893 743h1v1h-1zM1054 743h1v1h-1zM1141 743h1v1h-1zM17 744h1v1h-1zM198 744h1v1h-1zM318 744h1v1h-1zM744 744h1v1h-1zM893 744h1v1h-1zM1055 744h1v1h-1zM1140 744h1v1h-1zM17 745h1v1h-1zM198 745h1v1h-1zM318 745h1v1h-1zM745 745h1v1h-1zM892 745h1v1h-1zM1056 745h1v1h-1zM1139 745h1v1h-1zM16 746h1v1h-1zM198 746h1v1h-1zM317 746h1v1h-1zM746 746h1v1h-1zM892 746h1v1h-1zM1056 746h1v1h-1zM1137 746h2v1h-2zM16 747h1v1h-1zM198 747h1v1h-1zM317 747h1v1h-1zM746 747h1v1h-1zM892 747h1v1h-1zM1057 747h1v1h-1zM1136 747h1v1h-1zM15 748h1v1h-1zM199 748h1v1h-1zM316 748h1v1h-1zM747 748h1v1h-1zM891 748h1v1h-1zM1058 748h1v1h-1zM1135 748h1v1h-1zM14 749h1v1h-1zM199 749h1v1h-1zM316 749h1v1h-1zM748 749h1v1h-1zM787 749h2v1h-2zM891 749h1v1h-1zM1058 749h1v1h-1zM1133 749h2v1h-2zM14 750h1v1h-1zM199 750h1v1h-1zM315 750h1v1h-1zM749 750h2v1h-2zM786 750h1v1h-1zM789 750h4v1h-4zM891 750h1v1h-1zM1059 750h1v1h-1zM1132 750h1v1h-1zM13 751h1v1h-1zM199 751h1v1h-1zM315 751h1v1h-1zM751 751h1v1h-1zM785 751h1v1h-1zM793 751h3v1h-3zM890 751h1v1h-1zM1059 751h1v1h-1zM1131 751h1v1h-1zM13 752h1v1h-1zM199 752h1v1h-1zM314 752h1v1h-1zM752 752h1v1h-1zM785 752h1v1h-1zM796 752h2v1h-2zM890 752h1v1h-1zM1060 752h1v1h-1zM1130 752h1v1h-1zM3 753h2v1h-2zM12 753h1v1h-1zM199 753h1v1h-1zM314 753h1v1h-1zM753 753h2v1h-2zM784 753h1v1h-1zM798 753h1v1h-1zM889 753h1v1h-1zM1060 753h1v1h-1zM1129 753h1v1h-1zM5 754h4v1h-4zM12 754h1v1h-1zM199 754h1v1h-1zM313 754h1v1h-1zM755 754h1v1h-1zM783 754h1v1h-1zM799 754h2v1h-2zM889 754h1v1h-1zM1061 754h1v1h-1zM1127 754h2v1h-2zM9 755h3v1h-3zM200 755h1v1h-1zM313 755h1v1h-1zM756 755h1v1h-1zM782 755h1v1h-1zM801 755h2v1h-2zM888 755h1v1h-1zM1061 755h1v1h-1zM1126 755h1v1h-1zM200 756h1v1h-1zM312 756h1v1h-1zM757 756h1v1h-1zM781 756h1v1h-1zM803 756h1v1h-1zM888 756h1v1h-1zM1062 756h1v1h-1zM1125 756h1v1h-1zM200 757h1v1h-1zM312 757h1v1h-1zM758 757h1v1h-1zM781 757h1v1h-1zM804 757h1v1h-1zM888 757h1v1h-1zM1062 757h1v1h-1zM1124 757h1v1h-1zM200 758h1v1h-1zM311 758h1v1h-1zM759 758h2v1h-2zM780 758h1v1h-1zM804 758h1v1h-1zM887 758h1v1h-1zM1062 758h1v1h-1zM1123 758h1v1h-1zM200 759h1v1h-1zM311 759h1v1h-1zM761 759h1v1h-1zM779 759h1v1h-1zM805 759h1v1h-1zM887 759h1v1h-1zM1063 759h1v1h-1zM1121 759h2v1h-2zM200 760h1v1h-1zM311 760h1v1h-1zM762 760h1v1h-1zM777 760h2v1h-2zM805 760h1v1h-1zM886 760h1v1h-1zM1063 760h1v1h-1zM1119 760h2v1h-2zM201 761h1v1h-1zM310 761h1v1h-1zM763 761h1v1h-1zM776 761h1v1h-1zM806 761h1v1h-1zM886 761h1v1h-1zM1064 761h1v1h-1zM1118 761h1v1h-1zM201 762h1v1h-1zM310 762h1v1h-1zM764 762h2v1h-2zM775 762h1v1h-1zM806 762h1v1h-1zM886 762h1v1h-1zM1064 762h1v1h-1zM1116 762h2v1h-2zM201 763h1v1h-1zM309 763h1v1h-1zM766 763h2v1h-2zM773 763h2v1h-2zM807 763h1v1h-1zM885 763h1v1h-1zM1064 763h1v1h-1zM1115 763h1v1h-1zM201 764h1v1h-1zM309 764h1v1h-1zM768 764h2v1h-2zM772 764h1v1h-1zM807 764h1v1h-1zM885 764h1v1h-1zM1065 764h1v1h-1zM1113 764h2v1h-2zM201 765h1v1h-1zM308 765h1v1h-1zM770 765h2v1h-2zM808 765h1v1h-1zM884 765h1v1h-1zM1065 765h1v1h-1zM1111 765h2v1h-2zM201 766h1v1h-1zM308 766h1v1h-1zM808 766h1v1h-1zM884 766h1v1h-1zM1066 766h1v1h-1zM1110 766h1v1h-1zM201 767h1v1h-1zM307 767h1v1h-1zM809 767h1v1h-1zM883 767h1v1h-1zM1066 767h1v1h-1zM1108 767h2v1h-2zM202 768h1v1h-1zM307 768h1v1h-1zM809 768h1v1h-1zM883 768h1v1h-1zM1067 768h1v1h-1zM1107 768h1v1h-1zM202 769h1v1h-1zM307 769h1v1h-1zM810 769h1v1h-1zM882 769h1v1h-1zM1067 769h1v1h-1zM1105 769h2v1h-2zM202 770h1v1h-1zM306 770h1v1h-1zM810 770h1v1h-1zM882 770h1v1h-1zM1068 770h1v1h-1zM1103 770h2v1h-2zM202 771h1v1h-1zM306 771h1v1h-1zM811 771h1v1h-1zM881 771h1v1h-1zM1069 771h1v1h-1zM1102 771h1v1h-1zM202 772h1v1h-1zM305 772h1v1h-1zM811 772h1v1h-1zM880 772h1v1h-1zM1070 772h1v1h-1zM1100 772h2v1h-2zM202 773h1v1h-1zM305 773h1v1h-1zM812 773h1v1h-1zM880 773h1v1h-1zM1071 773h1v1h-1zM1099 773h1v1h-1zM203 774h1v1h-1zM304 774h1v1h-1zM812 774h1v1h-1zM879 774h1v1h-1zM1071 774h1v1h-1zM1097 774h2v1h-2zM203 775h1v1h-1zM304 775h1v1h-1zM813 775h1v1h-1zM878 775h1v1h-1zM1072 775h1v1h-1zM1095 775h2v1h-2zM203 776h1v1h-1zM303 776h1v1h-1zM813 776h1v1h-1zM878 776h1v1h-1zM1073 776h1v1h-1zM1094 776h1v1h-1zM203 777h1v1h-1zM303 777h1v1h-1zM814 777h1v1h-1zM877 777h1v1h-1zM1074 777h1v1h-1zM1092 777h2v1h-2zM203 778h1v1h-1zM302 778h1v1h-1zM815 778h1v1h-1zM876 778h1v1h-1zM1075 778h17v1h-17zM204 779h1v1h-1zM302 779h1v1h-1zM815 779h1v1h-1zM876 779h1v1h-1zM204 780h1v1h-1zM301 780h1v1h-1zM816 780h1v1h-1zM875 780h1v1h-1zM204 781h1v1h-1zM301 781h1v1h-1zM817 781h1v1h-1zM875 781h1v1h-1zM205 782h1v1h-1zM300 782h1v1h-1zM817 782h1v1h-1zM874 782h1v1h-1zM205 783h1v1h-1zM300 783h1v1h-1zM818 783h1v1h-1zM874 783h1v1h-1zM205 784h1v1h-1zM299 784h1v1h-1zM818 784h1v1h-1zM873 784h1v1h-1zM205 785h1v1h-1zM299 785h1v1h-1zM819 785h1v1h-1zM873 785h1v1h-1zM206 786h1v1h-1zM298 786h1v1h-1zM820 786h1v1h-1zM873 786h1v1h-1zM206 787h1v1h-1zM297 787h1v1h-1zM820 787h1v1h-1zM872 787h1v1h-1zM206 788h1v1h-1zM297 788h1v1h-1zM821 788h1v1h-1zM872 788h1v1h-1zM207 789h1v1h-1zM296 789h1v1h-1zM822 789h1v1h-1zM871 789h1v1h-1zM207 790h1v1h-1zM257 790h3v1h-3zM295 790h1v1h-1zM822 790h1v1h-1zM871 790h1v1h-1zM207 791h1v1h-1zM253 791h4v1h-4zM260 791h1v1h-1zM294 791h1v1h-1zM823 791h1v1h-1zM871 791h1v1h-1zM208 792h1v1h-1zM250 792h3v1h-3zM261 792h1v1h-1zM293 792h1v1h-1zM824 792h1v1h-1zM870 792h1v1h-1zM208 793h1v1h-1zM248 793h2v1h-2zM262 793h1v1h-1zM293 793h1v1h-1zM824 793h1v1h-1zM870 793h1v1h-1zM208 794h1v1h-1zM233 794h4v1h-4zM246 794h2v1h-2zM263 794h1v1h-1zM292 794h1v1h-1zM825 794h1v1h-1zM869 794h1v1h-1zM209 795h1v1h-1zM229 795h4v1h-4zM237 795h4v1h-4zM244 795h2v1h-2zM264 795h1v1h-1zM291 795h1v1h-1zM826 795h1v1h-1zM869 795h1v1h-1zM209 796h1v1h-1zM227 796h2v1h-2zM241 796h3v1h-3zM265 796h1v1h-1zM289 796h2v1h-2zM826 796h1v1h-1zM869 796h1v1h-1zM209 797h1v1h-1zM227 797h1v1h-1zM266 797h1v1h-1zM288 797h1v1h-1zM827 797h1v1h-1zM868 797h1v1h-1zM209 798h1v1h-1zM226 798h1v1h-1zM267 798h1v1h-1zM287 798h1v1h-1zM828 798h1v1h-1zM868 798h1v1h-1zM210 799h1v1h-1zM226 799h1v1h-1zM268 799h2v1h-2zM285 799h2v1h-2zM828 799h1v1h-1zM867 799h1v1h-1zM210 800h1v1h-1zM225 800h1v1h-1zM270 800h1v1h-1zM284 800h1v1h-1zM829 800h1v1h-1zM867 800h1v1h-1zM210 801h1v1h-1zM225 801h1v1h-1zM271 801h2v1h-2zM281 801h3v1h-3zM829 801h1v1h-1zM866 801h1v1h-1zM211 802h1v1h-1zM224 802h1v1h-1zM273 802h2v1h-2zM277 802h4v1h-4zM830 802h1v1h-1zM865 802h1v1h-1zM211 803h1v1h-1zM224 803h1v1h-1zM275 803h2v1h-2zM830 803h1v1h-1zM864 803h1v1h-1zM212 804h1v1h-1zM223 804h1v1h-1zM831 804h1v1h-1zM863 804h1v1h-1zM213 805h1v1h-1zM223 805h1v1h-1zM831 805h1v1h-1zM862 805h1v1h-1zM213 806h1v1h-1zM222 806h1v1h-1zM832 806h1v1h-1zM861 806h1v1h-1zM214 807h1v1h-1zM222 807h1v1h-1zM832 807h1v1h-1zM860 807h1v1h-1zM215 808h1v1h-1zM221 808h1v1h-1zM833 808h1v1h-1zM858 808h2v1h-2zM216 809h1v1h-1zM221 809h1v1h-1zM833 809h1v1h-1zM855 809h3v1h-3zM217 810h1v1h-1zM220 810h1v1h-1zM834 810h1v1h-1zM841 810h6v1h-6zM853 810h2v1h-2zM217 811h1v1h-1zM220 811h1v1h-1zM834 811h1v1h-1zM837 811h4v1h-4zM847 811h6v1h-6zM218 812h2v1h-2zM835 812h2v1h-2zM219 813h1v1h-1z"/>
<g stroke="#00008b" stroke-width="1" shape-rendering="crispEdges">
<line x1="3.5" y1="744" x2="3.5" y2="753"/>
<line x1="11.5" y1="744" x2="11.5" y2="755"/>
<line x1="19.5" y1="742" x2="19.5" y2="745"/>
<line x1="27.5" y1="723" x2="27.5" y2="745"/>
<line x1="35.5" y1="700" x2="35.5" y2="745"/>
<line x1="43.5" y1="687" x2="43.5" y2="745"/>
<line x1="51.5" y1="672" x2="51.5" y2="745"/>
<line x1="59.5" y1="651" x2="59.5" y2="745"/>
<line x1="67.5" y1="632" x2="67.5" y2="745"/>
<line x1="75.5" y1="631" x2="75.5" y2="745"/>
<line x1="83.5" y1="623" x2="83.5" y2="745"/>
<line x1="91.5" y1="615" x2="91.5" y2="745"/>
<line x1="99.5" y1="602" x2="99.5" y2="745"/>
<line x1="107.5" y1="588" x2="107.5" y2="745"/>
<line x1="115.5" y1="578" x2="115.5" y2="745"/>
<line x1="123.5" y1="568" x2="123.5" y2="745"/>
<line x1="131.5" y1="568" x2="131.5" y2="745"/>
<line x1="139.5" y1="576" x2="139.5" y2="745"/>
<line x1="147.5" y1="592" x2="147.5" y2="745"/>
<line x1="155.5" y1="611" x2="155.5" y2="745"/>
<line x1="163.5" y1="624" x2="163.5" y2="745"/>
<line x1="171.5" y1="637" x2="171.5" y2="745"/>
<line x1="179.5" y1="654" x2="179.5" y2="745"/>
<line x1="187.5" y1="692" x2="187.5" y2="745"/>
<line x1="195.5" y1="726" x2="195.5" y2="745"/>
<line x1="203.5" y1="744" x2="203.5" y2="777"/>
<line x1="211.5" y1="744" x2="211.5" y2="803"/>
<line x1="219.5" y1="744" x2="219.5" y2="813"/>
<line x1="227.5" y1="744" x2="227.5" y2="796"/>
<line x1="235.5" y1="744" x2="235.5" y2="794"/>
<line x1="243.5" y1="744" x2="243.5" y2="796"/>
<line x1="251.5" y1="744" x2="251.5" y2="792"/>
<line x1="259.5" y1="744" x2="259.5" y2="790"/>
<line x1="267.5" y1="744" x2="267.5" y2="798"/>
<line x1="275.5" y1="744" x2="275.5" y2="803"/>
<line x1="283.5" y1="744" x2="283.5" y2="801"/>
<line x1="291.5" y1="744" x2="291.5" y2="795"/>
<line x1="299.5" y1="744" x2="299.5" y2="785"/>
<line x1="307.5" y1="744" x2="307.5" y2="768"/>
<line x1="315.5" y1="744" x2="315.5" y2="750"/>
<line x1="323.5" y1="736" x2="323.5" y2="745"/>
<line x1="331.5" y1="714" x2="331.5" y2="745"/>
<line x1="339.5" y1="692" x2="339.5" y2="745"/>
<line x1="347.5" y1="667" x2="347.5" y2="745"/>
<line x1="355.5" y1="650" x2="355.5" y2="745"/>
<line x1="363.5" y1="648" x2="363.5" y2="745"/>
<line x1="371.5" y1="650" x2="371.5" y2="745"/>
<line x1="379.5" y1="649" x2="379.5" y2="745"/>
<line x1="387.5" y1="643" x2="387.5" y2="745"/>
<line x1="395.5" y1="645" x2="395.5" y2="745"/>
<line x1="403.5" y1="656" x2="403.5" y2="745"/>
<line x1="411.5" y1="679" x2="411.5" y2="745"/>
<line x1="419.5" y1="697" x2="419.5" y2="745"/>
<line x1="427.5" y1="707" x2="427.5" y2="745"/>
<line x1="435.5" y1="713" x2="435.5" y2="745"/>
<line x1="443.5" y1="721" x2="443.5" y2="745"/>
<line x1="451.5" y1="721" x2="451.5" y2="745"/>
<line x1="459.5" y1="725" x2="459.5" y2="745"/>
<line x1="467.5" y1="725" x2="467.5" y2="745"/>
<line x1="475.5" y1="717" x2="475.5" y2="745"/>
<line x1="483.5" y1="710" x2="483.5" y2="745"/>
<line x1="491.5" y1="697" x2="491.5" y2="745"/>
<line x1="499.5" y1="683" x2="499.5" y2="745"/>
<line x1="507.5" y1="673" x2="507.5" y2="745"/>
<line x1="515.5" y1="661" x2="515.5" y2="745"/>
<line x1="523.5" y1="647" x2="523.5" y2="745"/>
<line x1="531.5" y1="642" x2="531.5" y2="745"/>
<line x1="539.5" y1="632" x2="539.5" y2="745"/>
<line x1="547.5" y1="627" x2="547.5" y2="745"/>
<line x1="555.5" y1="624" x2="555.5" y2="745"/>
<line x1="563.5" y1="618" x2="563.5" y2="745"/>
<line x1="571.5" y1="613" x2="571.5" y2="745"/>
<line x1="579.5" y1="611" x2="579.5" y2="745"/>
<line x1="587.5" y1="612" x2="587.5" y2="745"/>
<line x1="595.5" y1="626" x2="595.5" y2="745"/>
<line x1="603.5" y1="651" x2="603.5" y2="745"/>
<line x1="611.5" y1="671" x2="611.5" y2="745"/>
<line x1="619.5" y1="687" x2="619.5" y2="745"/>
<line x1="627.5" y1="694" x2="627.5" y2="745"/>
<line x1="635.5" y1="706" x2="635.5" y2="745"/>
<line x1="643.5" y1="717" x2="643.5" y2="745"/>
<line x1="651.5" y1="711" x2="651.5" y2="745"/>
<line x1="659.5" y1="709" x2="659.5" y2="745"/>
<line x1="667.5" y1="712" x2="667.5" y2="745"/>
<line x1="675.5" y1="712" x2="675.5" y2="745"/>
<line x1="683.5" y1="706" x2="683.5" y2="745"/>
<line x1="691.5" y1="720" x2="691.5" y2="745"/>
<line x1="699.5" y1="723" x2="699.5" y2="745"/>
<line x1="707.5" y1="724" x2="707.5" y2="745"/>
<line x1="715.5" y1="723" x2="715.5" y2="745"/>
<line x1="723.5" y1="730" x2="723.5" y2="745"/>
<line x1="731.5" y1="733" x2="731.5" y2="745"/>
<line x1="739.5" y1="737" x2="739.5" y2="745"/>
<line x1="747.5" y1="744" x2="747.5" y2="748"/>
<line x1="755.5" y1="744" x2="755.5" y2="754"/>
<line x1="763.5" y1="744" x2="763.5" y2="761"/>
<line x1="771.5" y1="744" x2="771.5" y2="765"/>
<line x1="779.5" y1="744" x2="779.5" y2="759"/>
<line x1="787.5" y1="744" x2="787.5" y2="749"/>
<line x1="795.5" y1="744" x2="795.5" y2="751"/>
<line x1="803.5" y1="744" x2="803.5" y2="756"/>
<line x1="811.5" y1="744" x2="811.5" y2="772"/>
<line x1="819.5" y1="744" x2="819.5" y2="785"/>
<line x1="827.5" y1="744" x2="827.5" y2="797"/>
<line x1="835.5" y1="744" x2="835.5" y2="812"/>
<line x1="843.5" y1="744" x2="843.5" y2="810"/>
<line x1="851.5" y1="744" x2="851.5" y2="811"/>
<line x1="859.5" y1="744" x2="859.5" y2="808"/>
<line x1="867.5" y1="744" x2="867.5" y2="800"/>
<line x1="875.5" y1="744" x2="875.5" y2="780"/>
<line x1="883.5" y1="744" x2="883.5" y2="768"/>
<line x1="891.5" y1="744" x2="891.5" y2="749"/>
<line x1="899.5" y1="727" x2="899.5" y2="745"/>
<line x1="907.5" y1="706" x2="907.5" y2="745"/>
<line x1="915.5" y1="690" x2="915.5" y2="745"/>
<line x1="923.5" y1="676" x2="923.5" y2="745"/>
<line x1="931.5" y1="667" x2="931.5" y2="745"/>
<line x1="939.5" y1="670" x2="939.5" y2="745"/>
<line x1="947.5" y1="675" x2="947.5" y2="745"/>
<line x1="955.5" y1="675" x2="955.5" y2="745"/>
<line x1="963.5" y1="679" x2="963.5" y2="745"/>
<line x1="971.5" y1="680" x2="971.5" y2="745"/>
<line x1="979.5" y1="687" x2="979.5" y2="745"/>
<line x1="987.5" y1="680" x2="987.5" y2="745"/>
<line x1="995.5" y1="676" x2="995.5" y2="745"/>
<line x1="1003.5" y1="674" x2="1003.5" y2="745"/>
<line x1="1011.5" y1="675" x2="1011.5" y2="745"/>
<line x1="1019.5" y1="684" x2="1019.5" y2="745"/>
<line x1="1027.5" y1="699" x2="1027.5" y2="745"/>
<line x1="1035.5" y1="712" x2="1035.5" y2="745"/>
<line x1="1043.5" y1="727" x2="1043.5" y2="745"/>
<line x1="1051.5" y1="739" x2="1051.5" y2="745"/>
<line x1="1059.5" y1="744" x2="1059.5" y2="750"/>
<line x1="1067.5" y1="744" x2="1067.5" y2="769"/>
<line x1="1075.5" y1="744" x2="1075.5" y2="778"/>
<line x1="1083.5" y1="744" x2="1083.5" y2="778"/>
<line x1="1091.5" y1="744" x2="1091.5" y2="778"/>
<line x1="1099.5" y1="744" x2="1099.5" y2="773"/>
<line x1="1107.5" y1="744" x2="1107.5" y2="768"/>
<line x1="1115.5" y1="744" x2="1115.5" y2="763"/>
<line x1="1123.5" y1="744" x2="1123.5" y2="758"/>
<line x1="1131.5" y1="744" x2="1131.5" y2="751"/>
<line x1="1139.5" y1="744" x2="1139.5" y2="745"/>
<line x1="1147.5" y1="738" x2="1147.5" y2="745"/>
<line x1="1155.5" y1="730" x2="1155.5" y2="745"/>
<line x1="1163.5" y1="715" x2="1163.5" y2="745"/>
<line x1="1171.5" y1="708" x2="1171.5" y2="745"/>
<line x1="1179.5" y1="710" x2="1179.5" y2="745"/>
<line x1="1187.5" y1="708" x2="1187.5" y2="745"/>
<line x1="1195.5" y1="704" x2="1195.5" y2="745"/>
<line x1="1203.5" y1="696" x2="1203.5" y2="745"/>
<line x1="1211.5" y1="682" x2="1211.5" y2="745"/>
<line x1="1219.5" y1="677" x2="1219.5" y2="745"/>
<line x1="1227.5" y1="674" x2="1227.5" y2="745"/>
<line x1="1235.5" y1="667" x2="1235.5" y2="745"/>
<line x1="1243.5" y1="666" x2="1243.5" y2="745"/>
<line x1="1251.5" y1="669" x2="1251.5" y2="745"/>
<line x1="1259.5" y1="680" x2="1259.5" y2="745"/>
<line x1="1267.5" y1="695" x2="1267.5" y2="745"/>
<line x1="1275.5" y1="699" x2="1275.5" y2="745"/>
<line x1="1283.5" y1="703" x2="1283.5" y2="745"/>
<line x1="1291.5" y1="706" x2="1291.5" y2="745"/>
<line x1="1299.5" y1="702" x2="1299.5" y2="745"/>
<line x1="1307.5" y1="708" x2="1307.5" y2="745"/>
<line x1="1315.5" y1="711" x2="1315.5" y2="745"/>
<line x1="1323.5" y1="717" x2="1323.5" y2="745"/>
<line x1="1331.5" y1="721" x2="1331.5" y2="745"/>
<line x1="1339.5" y1="724" x2="1339.5" y2="745"/>
<line x1="1347.5" y1="732" x2="1347.5" y2="745"/>
<line x1="1355.5" y1="737" x2="1355.5" y2="745"/>
<line x1="1363.5" y1="730" x2="1363.5" y2="745"/>
<line x1="1371.5" y1="719" x2="1371.5" y2="745"/>
<line x1="1379.5" y1="710" x2="1379.5" y2="745"/>
<line x1="1387.5" y1="704" x2="1387.5" y2="745"/>
<line x1="1395.5" y1="698" x2="1395.5" y2="745"/>
<line x1="1403.5" y1="695" x2="1403.5" y2="745"/>
<line x1="1411.5" y1="703" x2="1411.5" y2="745"/>
<line x1="1419.5" y1="705" x2="1419.5" y2="745"/>
<line x1="1427.5" y1="712" x2="1427.5" y2="745"/>
<line x1="1435.5" y1="721" x2="1435.5" y2="745"/>
<line x1="1443.5" y1="728" x2="1443.5" y2="745"/>
<line x1="1451.5" y1="739" x2="1451.5" y2="745"/>
<line x1="1459.5" y1="741" x2="1459.5" y2="745"/>
<line x1="1467.5" y1="734" x2="1467.5" y2="745"/>
<line x1="1475.5" y1="729" x2="1475.5" y2="745"/>
<line x1="1483.5" y1="728" x2="1483.5" y2="745"/>
</g>
<path fill="#000" stroke="none" shape-rendering="crispEdges" d="M151 588h8v1h-8zM146 589h5v1h-5zM159 589h5v1h-5zM144 590h2v1h-2zM164 590h2v1h-2zM142 591h2v1h-2zM166 591h2v1h-2zM140 592h2v1h-2zM168 592h2v1h-2zM139 593h1v1h-1zM170 593h2v1h-2zM138 594h1v1h-1zM172 594h1v1h-1zM137 595h1v1h-1zM173 595h1v1h-1zM135 596h2v1h-2zM174 596h1v1h-1zM134 597h1v1h-1zM175 597h2v1h-2zM133 598h1v1h-1zM177 598h1v1h-1zM132 599h1v1h-1zM178 599h1v1h-1zM131 600h1v1h-1zM179 600h1v1h-1zM130 601h1v1h-1zM180 601h1v1h-1zM129 602h1v1h-1zM180 602h1v1h-1zM128 603h1v1h-1zM181 603h1v1h-1zM127 604h1v1h-1zM181 604h1v1h-1zM127 605h1v1h-1zM182 605h1v1h-1zM126 606h1v1h-1zM183 606h1v1h-1zM125 607h1v1h-1zM183 607h1v1h-1zM124 608h1v1h-1zM184 608h1v1h-1zM123 609h1v1h-1zM185 609h1v1h-1zM122 610h1v1h-1zM185 610h1v1h-1zM122 611h1v1h-1zM186 611h1v1h-1zM121 612h1v1h-1zM186 612h1v1h-1zM120 613h1v1h-1zM187 613h1v1h-1zM119 614h1v1h-1zM187 614h1v1h-1zM119 615h1v1h-1zM188 615h1v1h-1zM118 616h1v1h-1zM188 616h1v1h-1zM117 617h1v1h-1zM189 617h1v1h-1zM116 618h1v1h-1zM189 618h1v1h-1zM116 619h1v1h-1zM190 619h1v1h-1zM115 620h1v1h-1zM190 620h1v1h-1zM114 621h1v1h-1zM191 621h1v1h-1zM114 622h1v1h-1zM191 622h1v1h-1zM593 622h6v1h-6zM113 623h1v1h-1zM192 623h1v1h-1zM589 623h4v1h-4zM599 623h5v1h-5zM112 624h1v1h-1zM192 624h1v1h-1zM587 624h2v1h-2zM604 624h2v1h-2zM112 625h1v1h-1zM193 625h1v1h-1zM585 625h2v1h-2zM606 625h2v1h-2zM111 626h1v1h-1zM193 626h1v1h-1zM583 626h2v1h-2zM608 626h2v1h-2zM110 627h1v1h-1zM194 627h1v1h-1zM582 627h1v1h-1zM610 627h2v1h-2zM110 628h1v1h-1zM194 628h1v1h-1zM580 628h2v1h-2zM612 628h1v1h-1zM109 629h1v1h-1zM195 629h1v1h-1zM579 629h1v1h-1zM613 629h1v1h-1zM108 630h1v1h-1zM195 630h1v1h-1zM578 630h1v1h-1zM614 630h1v1h-1zM108 631h1v1h-1zM195 631h1v1h-1zM577 631h1v1h-1zM615 631h2v1h-2zM107 632h1v1h-1zM196 632h1v1h-1zM575 632h2v1h-2zM617 632h1v1h-1zM106 633h1v1h-1zM196 633h1v1h-1zM574 633h1v1h-1zM618 633h1v1h-1zM106 634h1v1h-1zM196 634h1v1h-1zM573 634h1v1h-1zM619 634h1v1h-1zM105 635h1v1h-1zM197 635h1v1h-1zM572 635h1v1h-1zM620 635h1v1h-1zM105 636h1v1h-1zM197 636h1v1h-1zM571 636h1v1h-1zM621 636h1v1h-1zM104 637h1v1h-1zM197 637h1v1h-1zM570 637h1v1h-1zM622 637h1v1h-1zM103 638h1v1h-1zM198 638h1v1h-1zM569 638h1v1h-1zM623 638h2v1h-2zM103 639h1v1h-1zM198 639h1v1h-1zM568 639h1v1h-1zM625 639h1v1h-1zM102 640h1v1h-1zM198 640h1v1h-1zM567 640h1v1h-1zM626 640h1v1h-1zM101 641h1v1h-1zM199 641h1v1h-1zM566 641h1v1h-1zM627 641h1v1h-1zM101 642h1v1h-1zM199 642h1v1h-1zM565 642h1v1h-1zM628 642h1v1h-1zM100 643h1v1h-1zM200 643h1v1h-1zM564 643h1v1h-1zM629 643h1v1h-1zM100 644h1v1h-1zM200 644h1v1h-1zM563 644h1v1h-1zM629 644h1v1h-1zM99 645h1v1h-1zM200 645h1v1h-1zM562 645h1v1h-1zM630 645h1v1h-1zM98 646h1v1h-1zM201 646h1v1h-1zM561 646h1v1h-1zM631 646h1v1h-1zM98 647h1v1h-1zM201 647h1v1h-1zM560 647h1v1h-1zM632 647h1v1h-1zM97 648h1v1h-1zM201 648h1v1h-1zM559 648h1v1h-1zM633 648h1v1h-1zM97 649h1v1h-1zM202 649h1v1h-1zM559 649h1v1h-1zM633 649h1v1h-1zM96 650h1v1h-1zM202 650h1v1h-1zM558 650h1v1h-1zM634 650h1v1h-1zM95 651h1v1h-1zM202 651h1v1h-1zM557 651h1v1h-1zM635 651h1v1h-1zM95 652h1v1h-1zM203 652h1v1h-1zM556 652h1v1h-1zM636 652h1v1h-1zM94 653h1v1h-1zM203 653h1v1h-1zM409 653h3v1h-3zM555 653h1v1h-1zM636 653h1v1h-1zM93 654h1v1h-1zM203 654h1v1h-1zM405 654h4v1h-4zM412 654h2v1h-2zM554 654h1v1h-1zM637 654h1v1h-1zM93 655h1v1h-1zM204 655h1v1h-1zM403 655h2v1h-2zM414 655h2v1h-2zM553 655h1v1h-1zM638 655h1v1h-1zM92 656h1v1h-1zM204 656h1v1h-1zM401 656h2v1h-2zM416 656h2v1h-2zM552 656h1v1h-1zM638 656h1v1h-1zM92 657h1v1h-1zM204 657h1v1h-1zM400 657h1v1h-1zM418 657h2v1h-2zM551 657h1v1h-1zM639 657h1v1h-1zM91 658h1v1h-1zM205 658h1v1h-1zM399 658h1v1h-1zM420 658h1v1h-1zM551 658h1v1h-1zM640 658h1v1h-1zM90 659h1v1h-1zM205 659h1v1h-1zM397 659h2v1h-2zM421 659h2v1h-2zM550 659h1v1h-1zM640 659h1v1h-1zM90 660h1v1h-1zM205 660h1v1h-1zM396 660h1v1h-1zM423 660h1v1h-1zM549 660h1v1h-1zM641 660h1v1h-1zM89 661h1v1h-1zM205 661h1v1h-1zM395 661h1v1h-1zM424 661h1v1h-1zM548 661h1v1h-1zM642 661h1v1h-1zM89 662h1v1h-1zM206 662h1v1h-1zM394 662h1v1h-1zM425 662h2v1h-2zM547 662h1v1h-1zM642 662h1v1h-1zM88 663h1v1h-1zM206 663h1v1h-1zM393 663h1v1h-1zM427 663h1v1h-1zM546 663h1v1h-1zM643 663h1v1h-1zM88 664h1v1h-1zM206 664h1v1h-1zM393 664h1v1h-1zM428 664h1v1h-1zM546 664h1v1h-1zM644 664h1v1h-1zM87 665h1v1h-1zM207 665h1v1h-1zM392 665h1v1h-1zM429 665h1v1h-1zM545 665h1v1h-1zM644 665h1v1h-1zM86 666h1v1h-1zM207 666h1v1h-1zM391 666h1v1h-1zM430 666h1v1h-1zM544 666h1v1h-1zM645 666h1v1h-1zM86 667h1v1h-1zM207 667h1v1h-1zM390 667h1v1h-1zM431 667h2v1h-2zM543 667h1v1h-1zM646 667h1v1h-1zM85 668h1v1h-1zM208 668h1v1h-1zM389 668h1v1h-1zM433 668h1v1h-1zM543 668h1v1h-1zM647 668h1v1h-1zM85 669h1v1h-1zM208 669h1v1h-1zM389 669h1v1h-1zM434 669h1v1h-1zM542 669h1v1h-1zM647 669h1v1h-1zM84 670h1v1h-1zM208 670h1v1h-1zM388 670h1v1h-1zM435 670h1v1h-1zM541 670h1v1h-1zM648 670h1v1h-1zM84 671h1v1h-1zM209 671h1v1h-1zM387 671h1v1h-1zM436 671h1v1h-1zM540 671h1v1h-1zM649 671h1v1h-1zM83 672h1v1h-1zM209 672h1v1h-1zM386 672h1v1h-1zM437 672h1v1h-1zM540 672h1v1h-1zM650 672h1v1h-1zM82 673h1v1h-1zM209 673h1v1h-1zM386 673h1v1h-1zM438 673h1v1h-1zM539 673h1v1h-1zM650 673h1v1h-1zM82 674h1v1h-1zM209 674h1v1h-1zM385 674h1v1h-1zM439 674h1v1h-1zM538 674h1v1h-1zM651 674h1v1h-1zM81 675h1v1h-1zM210 675h1v1h-1zM384 675h1v1h-1zM440 675h1v1h-1zM537 675h1v1h-1zM652 675h1v1h-1zM81 676h1v1h-1zM210 676h1v1h-1zM384 676h1v1h-1zM441 676h1v1h-1zM537 676h1v1h-1zM652 676h1v1h-1zM983 676h24v1h-24zM80 677h1v1h-1zM210 677h1v1h-1zM383 677h1v1h-1zM442 677h1v1h-1zM536 677h1v1h-1zM653 677h1v1h-1zM977 677h6v1h-6zM1007 677h8v1h-8zM1265 677h6v1h-6zM80 678h1v1h-1zM211 678h1v1h-1zM382 678h1v1h-1zM443 678h1v1h-1zM535 678h1v1h-1zM654 678h1v1h-1zM973 678h4v1h-4zM1015 678h6v1h-6zM1261 678h4v1h-4zM1271 678h6v1h-6zM79 679h1v1h-1zM211 679h1v1h-1zM382 679h1v1h-1zM444 679h1v1h-1zM534 679h1v1h-1zM655 679h1v1h-1zM971 679h2v1h-2zM1021 679h2v1h-2zM1258 679h3v1h-3zM1277 679h4v1h-4zM79 680h1v1h-1zM211 680h1v1h-1zM381 680h1v1h-1zM445 680h1v1h-1zM533 680h1v1h-1zM655 680h1v1h-1zM969 680h2v1h-2zM1023 680h3v1h-3zM1255 680h3v1h-3zM1281 680h4v1h-4zM78 681h1v1h-1zM212 681h1v1h-1zM380 681h1v1h-1zM446 681h1v1h-1zM533 681h1v1h-1zM656 681h1v1h-1zM967 681h2v1h-2zM1026 681h3v1h-3zM1253 681h2v1h-2zM1285 681h2v1h-2zM78 682h1v1h-1zM212 682h1v1h-1zM380 682h1v1h-1zM447 682h1v1h-1zM532 682h1v1h-1zM657 682h1v1h-1zM966 682h1v1h-1zM1029 682h2v1h-2zM1250 682h3v1h-3zM1287 682h3v1h-3zM77 683h1v1h-1zM212 683h1v1h-1zM379 683h1v1h-1zM448 683h1v1h-1zM531 683h1v1h-1zM658 683h1v1h-1zM964 683h2v1h-2zM1031 683h3v1h-3zM1248 683h2v1h-2zM1290 683h3v1h-3zM77 684h1v1h-1zM213 684h1v1h-1zM378 684h1v1h-1zM449 684h1v1h-1zM530 684h1v1h-1zM658 684h1v1h-1zM963 684h1v1h-1zM1034 684h2v1h-2zM1246 684h2v1h-2zM1293 684h2v1h-2zM76 685h1v1h-1zM213 685h1v1h-1zM378 685h1v1h-1zM450 685h1v1h-1zM529 685h1v1h-1zM659 685h1v1h-1zM962 685h1v1h-1zM1036 685h2v1h-2zM1244 685h2v1h-2zM1295 685h3v1h-3zM76 686h1v1h-1zM213 686h1v1h-1zM377 686h1v1h-1zM451 686h1v1h-1zM528 686h1v1h-1zM660 686h1v1h-1zM961 686h1v1h-1zM1038 686h1v1h-1zM1243 686h1v1h-1zM1298 686h2v1h-2zM75 687h1v1h-1zM214 687h1v1h-1zM377 687h1v1h-1zM452 687h1v1h-1zM527 687h1v1h-1zM661 687h1v1h-1zM960 687h1v1h-1zM1039 687h2v1h-2zM1241 687h2v1h-2zM1300 687h2v1h-2zM74 688h1v1h-1zM214 688h1v1h-1zM376 688h1v1h-1zM453 688h1v1h-1zM527 688h1v1h-1zM662 688h1v1h-1zM959 688h1v1h-1zM1041 688h2v1h-2zM1239 688h2v1h-2zM1302 688h1v1h-1zM74 689h1v1h-1zM214 689h1v1h-1zM375 689h1v1h-1zM454 689h1v1h-1zM526 689h1v1h-1zM663 689h1v1h-1zM958 689h1v1h-1zM1043 689h1v1h-1zM1238 689h1v1h-1zM1303 689h2v1h-2zM73 690h1v1h-1zM215 690h1v1h-1zM375 690h1v1h-1zM455 690h1v1h-1zM525 690h1v1h-1zM663 690h1v1h-1zM957 690h1v1h-1zM1044 690h1v1h-1zM1236 690h2v1h-2zM1305 690h2v1h-2zM73 691h1v1h-1zM215 691h1v1h-1zM374 691h1v1h-1zM455 691h1v1h-1zM524 691h1v1h-1zM664 691h1v1h-1zM956 691h1v1h-1zM1045 691h2v1h-2zM1235 691h1v1h-1zM1307 691h1v1h-1zM72 692h1v1h-1zM215 692h1v1h-1zM373 692h1v1h-1zM456 692h1v1h-1zM523 692h1v1h-1zM665 692h1v1h-1zM955 692h1v1h-1zM1047 692h1v1h-1zM1233 692h2v1h-2zM1308 692h2v1h-2zM72 693h1v1h-1zM216 693h1v1h-1zM373 693h1v1h-1zM457 693h1v1h-1zM522 693h1v1h-1zM666 693h1v1h-1zM954 693h1v1h-1zM1048 693h1v1h-1zM1231 693h2v1h-2zM1310 693h1v1h-1zM71 694h1v1h-1zM216 694h1v1h-1zM372 694h1v1h-1zM458 694h1v1h-1zM521 694h1v1h-1zM667 694h1v1h-1zM953 694h1v1h-1zM1049 694h2v1h-2zM1230 694h1v1h-1zM1311 694h2v1h-2zM70 695h1v1h-1zM216 695h1v1h-1zM372 695h1v1h-1zM459 695h1v1h-1zM520 695h1v1h-1zM668 695h1v1h-1zM953 695h1v1h-1zM1051 695h1v1h-1zM1228 695h2v1h-2zM1313 695h2v1h-2zM70 696h1v1h-1zM217 696h1v1h-1zM371 696h1v1h-1zM460 696h1v1h-1zM519 696h1v1h-1zM669 696h1v1h-1zM952 696h1v1h-1zM1052 696h1v1h-1zM1227 696h1v1h-1zM1315 696h1v1h-1zM69 697h1v1h-1zM217 697h1v1h-1zM371 697h1v1h-1zM461 697h1v1h-1zM518 697h1v1h-1zM670 697h1v1h-1zM951 697h1v1h-1zM1053 697h1v1h-1zM1225 697h2v1h-2zM1316 697h2v1h-2zM69 698h1v1h-1zM217 698h1v1h-1zM370 698h1v1h-1zM462 698h1v1h-1zM517 698h1v1h-1zM671 698h2v1h-2zM950 698h1v1h-1zM1054 698h1v1h-1zM1224 698h1v1h-1zM1318 698h1v1h-1zM68 699h1v1h-1zM218 699h1v1h-1zM370 699h1v1h-1zM463 699h1v1h-1zM516 699h1v1h-1zM673 699h1v1h-1zM949 699h1v1h-1zM1055 699h1v1h-1zM1223 699h1v1h-1zM1319 699h2v1h-2zM68 700h1v1h-1zM218 700h1v1h-1zM369 700h1v1h-1zM463 700h1v1h-1zM515 700h1v1h-1zM674 700h1v1h-1zM949 700h1v1h-1zM1056 700h1v1h-1zM1221 700h2v1h-2zM1321 700h2v1h-2zM67 701h1v1h-1zM218 701h1v1h-1zM369 701h1v1h-1zM464 701h1v1h-1zM514 701h1v1h-1zM675 701h1v1h-1zM948 701h1v1h-1zM1057 701h1v1h-1zM1220 701h1v1h-1zM1323 701h1v1h-1zM67 702h1v1h-1zM219 702h1v1h-1zM368 702h1v1h-1zM465 702h1v1h-1zM513 702h1v1h-1zM676 702h2v1h-2zM947 702h1v1h-1zM1058 702h1v1h-1zM1219 702h1v1h-1zM1324 702h2v1h-2zM66 703h1v1h-1zM219 703h1v1h-1zM368 703h1v1h-1zM466 703h1v1h-1zM511 703h2v1h-2zM678 703h2v1h-2zM946 703h1v1h-1zM1059 703h1v1h-1zM1218 703h1v1h-1zM1326 703h1v1h-1zM66 704h1v1h-1zM219 704h1v1h-1zM367 704h1v1h-1zM467 704h1v1h-1zM510 704h1v1h-1zM680 704h2v1h-2zM946 704h1v1h-1zM1060 704h1v1h-1zM1217 704h1v1h-1zM1327 704h2v1h-2zM65 705h1v1h-1zM220 705h1v1h-1zM367 705h1v1h-1zM468 705h1v1h-1zM509 705h1v1h-1zM682 705h2v1h-2zM945 705h1v1h-1zM1060 705h1v1h-1zM1215 705h2v1h-2zM1329 705h2v1h-2zM65 706h1v1h-1zM220 706h1v1h-1zM366 706h1v1h-1zM469 706h1v1h-1zM508 706h1v1h-1zM684 706h2v1h-2zM944 706h1v1h-1zM1061 706h1v1h-1zM1214 706h1v1h-1zM1331 706h2v1h-2zM1431 706h8v1h-8zM64 707h1v1h-1zM221 707h1v1h-1zM366 707h1v1h-1zM470 707h1v1h-1zM507 707h1v1h-1zM686 707h2v1h-2zM944 707h1v1h-1zM1062 707h1v1h-1zM1213 707h1v1h-1zM1333 707h2v1h-2zM1426 707h5v1h-5zM1439 707h5v1h-5zM64 708h1v1h-1zM221 708h1v1h-1zM365 708h1v1h-1zM471 708h2v1h-2zM505 708h2v1h-2zM688 708h2v1h-2zM943 708h1v1h-1zM1063 708h1v1h-1zM1212 708h1v1h-1zM1335 708h3v1h-3zM1423 708h3v1h-3zM1444 708h2v1h-2zM63 709h1v1h-1zM221 709h1v1h-1zM365 709h1v1h-1zM473 709h1v1h-1zM503 709h2v1h-2zM690 709h3v1h-3zM942 709h1v1h-1zM1063 709h1v1h-1zM1211 709h1v1h-1zM1338 709h2v1h-2zM1421 709h2v1h-2zM1446 709h2v1h-2zM63 710h1v1h-1zM222 710h1v1h-1zM364 710h1v1h-1zM474 710h1v1h-1zM502 710h1v1h-1zM693 710h2v1h-2zM942 710h1v1h-1zM1064 710h1v1h-1zM1210 710h1v1h-1zM1340 710h2v1h-2zM1418 710h3v1h-3zM1448 710h2v1h-2zM62 711h1v1h-1zM222 711h1v1h-1zM364 711h1v1h-1zM475 711h2v1h-2zM500 711h2v1h-2zM695 711h3v1h-3zM941 711h1v1h-1zM1065 711h1v1h-1zM1209 711h1v1h-1zM1342 711h2v1h-2zM1415 711h3v1h-3zM1450 711h2v1h-2zM62 712h1v1h-1zM222 712h1v1h-1zM363 712h1v1h-1zM477 712h2v1h-2zM497 712h3v1h-3zM698 712h3v1h-3zM940 712h1v1h-1zM1066 712h1v1h-1zM1207 712h2v1h-2zM1344 712h2v1h-2zM1413 712h2v1h-2zM1452 712h2v1h-2zM61 713h1v1h-1zM223 713h1v1h-1zM363 713h1v1h-1zM479 713h3v1h-3zM493 713h4v1h-4zM701 713h4v1h-4zM940 713h1v1h-1zM1066 713h1v1h-1zM1206 713h1v1h-1zM1346 713h2v1h-2zM1409 713h4v1h-4zM1454 713h2v1h-2zM61 714h1v1h-1zM223 714h1v1h-1zM362 714h1v1h-1zM482 714h11v1h-11zM705 714h6v1h-6zM939 714h1v1h-1zM1067 714h1v1h-1zM1205 714h1v1h-1zM1348 714h2v1h-2zM1405 714h4v1h-4zM1456 714h2v1h-2zM60 715h1v1h-1zM224 715h1v1h-1zM362 715h1v1h-1zM711 715h6v1h-6zM938 715h1v1h-1zM1068 715h1v1h-1zM1204 715h1v1h-1zM1350 715h2v1h-2zM1402 715h3v1h-3zM1458 715h2v1h-2zM60 716h1v1h-1zM224 716h1v1h-1zM361 716h1v1h-1zM717 716h4v1h-4zM938 716h1v1h-1zM1068 716h1v1h-1zM1203 716h1v1h-1zM1352 716h2v1h-2zM1399 716h3v1h-3zM1460 716h2v1h-2zM59 717h1v1h-1zM224 717h1v1h-1zM361 717h1v1h-1zM721 717h4v1h-4zM937 717h1v1h-1zM1069 717h1v1h-1zM1202 717h1v1h-1zM1354 717h3v1h-3zM1397 717h2v1h-2zM1462 717h2v1h-2zM58 718h1v1h-1zM225 718h1v1h-1zM360 718h1v1h-1zM725 718h4v1h-4zM937 718h1v1h-1zM1070 718h1v1h-1zM1201 718h1v1h-1zM1357 718h4v1h-4zM1394 718h3v1h-3zM1464 718h2v1h-2zM58 719h1v1h-1zM225 719h1v1h-1zM360 719h1v1h-1zM729 719h4v1h-4zM936 719h1v1h-1zM1071 719h1v1h-1zM1199 719h2v1h-2zM1361 719h4v1h-4zM1391 719h3v1h-3zM1466 719h2v1h-2zM57 720h1v1h-1zM225 720h1v1h-1zM359 720h1v1h-1zM733 720h2v1h-2zM936 720h1v1h-1zM1071 720h1v1h-1zM1198 720h1v1h-1zM1365 720h4v1h-4zM1389 720h2v1h-2zM1468 720h2v1h-2zM57 721h1v1h-1zM226 721h1v1h-1zM359 721h1v1h-1zM735 721h3v1h-3zM935 721h1v1h-1zM1072 721h1v1h-1zM1197 721h1v1h-1zM1369 721h20v1h-20zM1470 721h2v1h-2zM56 722h1v1h-1zM226 722h1v1h-1zM358 722h1v1h-1zM738 722h2v1h-2zM935 722h1v1h-1zM1073 722h1v1h-1zM1196 722h1v1h-1zM1472 722h2v1h-2zM55 723h1v1h-1zM227 723h1v1h-1zM358 723h1v1h-1zM740 723h2v1h-2zM934 723h1v1h-1zM1074 723h1v1h-1zM1195 723h1v1h-1zM1474 723h3v1h-3zM55 724h1v1h-1zM227 724h1v1h-1zM357 724h1v1h-1zM742 724h2v1h-2zM934 724h1v1h-1zM1074 724h1v1h-1zM1193 724h2v1h-2zM1477 724h4v1h-4zM54 725h1v1h-1zM227 725h1v1h-1zM357 725h1v1h-1zM744 725h2v1h-2zM933 725h1v1h-1zM1075 725h1v1h-1zM1192 725h1v1h-1zM1481 725h3v1h-3zM53 726h1v1h-1zM228 726h1v1h-1zM356 726h1v1h-1zM746 726h2v1h-2zM933 726h1v1h-1zM1076 726h1v1h-1zM1191 726h1v1h-1zM53 727h1v1h-1zM228 727h1v1h-1zM356 727h1v1h-1zM748 727h1v1h-1zM932 727h1v1h-1zM1076 727h1v1h-1zM1189 727h2v1h-2zM52 728h1v1h-1zM229 728h1v1h-1zM355 728h1v1h-1zM749 728h2v1h-2zM932 728h1v1h-1zM1077 728h1v1h-1zM1188 728h1v1h-1zM52 729h1v1h-1zM229 729h1v1h-1zM355 729h1v1h-1zM751 729h1v1h-1zM931 729h1v1h-1zM1078 729h1v1h-1zM1187 729h1v1h-1zM51 730h1v1h-1zM230 730h1v1h-1zM354 730h1v1h-1zM752 730h1v1h-1zM930 730h1v1h-1zM1078 730h1v1h-1zM1185 730h2v1h-2zM50 731h1v1h-1zM230 731h1v1h-1zM354 731h1v1h-1zM753 731h2v1h-2zM930 731h1v1h-1zM1079 731h1v1h-1zM1184 731h1v1h-1zM50 732h1v1h-1zM230 732h1v1h-1zM353 732h1v1h-1zM755 732h1v1h-1zM929 732h1v1h-1zM1080 732h1v1h-1zM1183 732h1v1h-1zM49 733h1v1h-1zM231 733h1v1h-1zM353 733h1v1h-1zM756 733h2v1h-2zM929 733h1v1h-1zM1080 733h1v1h-1zM1181 733h2v1h-2zM48 734h1v1h-1zM231 734h1v1h-1zM352 734h1v1h-1zM758 734h2v1h-2zM928 734h1v1h-1zM1081 734h1v1h-1zM1180 734h1v1h-1zM47 735h1v1h-1zM232 735h1v1h-1zM352 735h1v1h-1zM760 735h2v1h-2zM928 735h1v1h-1zM1082 735h1v1h-1zM1179 735h1v1h-1zM47 736h1v1h-1zM232 736h1v1h-1zM351 736h1v1h-1zM762 736h2v1h-2zM927 736h1v1h-1zM1082 736h1v1h-1zM1177 736h2v1h-2zM46 737h1v1h-1zM232 737h1v1h-1zM351 737h1v1h-1zM764 737h2v1h-2zM927 737h1v1h-1zM1083 737h1v1h-1zM1176 737h1v1h-1zM45 738h1v1h-1zM233 738h1v1h-1zM350 738h1v1h-1zM766 738h1v1h-1zM926 738h1v1h-1zM1084 738h1v1h-1zM1175 738h1v1h-1zM44 739h1v1h-1zM233 739h1v1h-1zM350 739h1v1h-1zM767 739h2v1h-2zM926 739h1v1h-1zM1085 739h1v1h-1zM1173 739h2v1h-2zM44 740h1v1h-1zM234 740h1v1h-1zM349 740h1v1h-1zM769 740h2v1h-2zM925 740h1v1h-1zM1085 740h1v1h-1zM1172 740h1v1h-1zM43 741h1v1h-1zM234 741h1v1h-1zM349 741h1v1h-1zM771 741h1v1h-1zM925 741h1v1h-1zM1086 741h1v1h-1zM1171 741h1v1h-1zM42 742h1v1h-1zM235 742h1v1h-1zM348 742h1v1h-1zM772 742h2v1h-2zM924 742h1v1h-1zM1087 742h1v1h-1zM1170 742h1v1h-1zM42 743h1v1h-1zM235 743h1v1h-1zM348 743h1v1h-1zM774 743h2v1h-2zM924 743h1v1h-1zM1088 743h1v1h-1zM1169 743h1v1h-1zM41 744h1v1h-1zM235 744h1v1h-1zM347 744h1v1h-1zM776 744h2v1h-2zM923 744h1v1h-1zM1089 744h1v1h-1zM1168 744h1v1h-1zM40 745h1v1h-1zM236 745h1v1h-1zM347 745h1v1h-1zM778 745h3v1h-3zM923 745h1v1h-1zM1089 745h1v1h-1zM1167 745h1v1h-1zM39 746h1v1h-1zM236 746h1v1h-1zM346 746h1v1h-1zM781 746h2v1h-2zM922 746h1v1h-1zM1090 746h1v1h-1zM1166 746h1v1h-1zM39 747h1v1h-1zM237 747h1v1h-1zM346 747h1v1h-1zM783 747h3v1h-3zM922 747h1v1h-1zM1091 747h1v1h-1zM1165 747h1v1h-1zM38 748h1v1h-1zM237 748h1v1h-1zM345 748h1v1h-1zM786 748h3v1h-3zM921 748h1v1h-1zM1092 748h1v1h-1zM1164 748h1v1h-1zM37 749h1v1h-1zM238 749h1v1h-1zM345 749h1v1h-1zM789 749h2v1h-2zM921 749h1v1h-1zM1093 749h1v1h-1zM1163 749h1v1h-1zM36 750h1v1h-1zM238 750h1v1h-1zM344 750h1v1h-1zM791 750h3v1h-3zM920 750h1v1h-1zM1094 750h1v1h-1zM1162 750h1v1h-1zM36 751h1v1h-1zM239 751h1v1h-1zM344 751h1v1h-1zM794 751h3v1h-3zM920 751h1v1h-1zM1095 751h1v1h-1zM1161 751h1v1h-1zM35 752h1v1h-1zM239 752h1v1h-1zM343 752h1v1h-1zM797 752h4v1h-4zM919 752h1v1h-1zM1095 752h1v1h-1zM1159 752h2v1h-2zM34 753h1v1h-1zM239 753h1v1h-1zM343 753h1v1h-1zM801 753h3v1h-3zM919 753h1v1h-1zM1096 753h1v1h-1zM1158 753h1v1h-1zM33 754h1v1h-1zM240 754h1v1h-1zM342 754h1v1h-1zM804 754h2v1h-2zM918 754h1v1h-1zM1097 754h1v1h-1zM1157 754h1v1h-1zM33 755h1v1h-1zM240 755h1v1h-1zM342 755h1v1h-1zM806 755h2v1h-2zM918 755h1v1h-1zM1098 755h1v1h-1zM1156 755h1v1h-1zM32 756h1v1h-1zM241 756h1v1h-1zM341 756h1v1h-1zM808 756h2v1h-2zM917 756h1v1h-1zM1099 756h1v1h-1zM1155 756h1v1h-1zM31 757h1v1h-1zM241 757h1v1h-1zM341 757h1v1h-1zM810 757h2v1h-2zM917 757h1v1h-1zM1100 757h1v1h-1zM1153 757h2v1h-2zM30 758h1v1h-1zM242 758h1v1h-1zM340 758h1v1h-1zM812 758h2v1h-2zM916 758h1v1h-1zM1101 758h2v1h-2zM1151 758h2v1h-2zM29 759h1v1h-1zM242 759h1v1h-1zM340 759h1v1h-1zM814 759h2v1h-2zM916 759h1v1h-1zM1103 759h1v1h-1zM1150 759h1v1h-1zM29 760h1v1h-1zM243 760h1v1h-1zM339 760h1v1h-1zM816 760h2v1h-2zM915 760h1v1h-1zM1104 760h1v1h-1zM1148 760h2v1h-2zM28 761h1v1h-1zM243 761h1v1h-1zM338 761h1v1h-1zM818 761h2v1h-2zM914 761h1v1h-1zM1105 761h2v1h-2zM1147 761h1v1h-1zM27 762h1v1h-1zM244 762h1v1h-1zM338 762h1v1h-1zM820 762h2v1h-2zM914 762h1v1h-1zM1107 762h1v1h-1zM1145 762h2v1h-2zM26 763h1v1h-1zM244 763h1v1h-1zM337 763h1v1h-1zM822 763h1v1h-1zM913 763h1v1h-1zM1108 763h2v1h-2zM1143 763h2v1h-2zM25 764h1v1h-1zM245 764h1v1h-1zM336 764h1v1h-1zM823 764h2v1h-2zM913 764h1v1h-1zM1110 764h2v1h-2zM1142 764h1v1h-1zM25 765h1v1h-1zM245 765h1v1h-1zM336 765h1v1h-1zM825 765h2v1h-2zM912 765h1v1h-1zM1112 765h2v1h-2zM1140 765h2v1h-2zM24 766h1v1h-1zM246 766h1v1h-1zM335 766h1v1h-1zM827 766h1v1h-1zM911 766h1v1h-1zM1114 766h3v1h-3zM1138 766h2v1h-2zM23 767h1v1h-1zM246 767h1v1h-1zM334 767h1v1h-1zM828 767h1v1h-1zM911 767h1v1h-1zM1117 767h4v1h-4zM1135 767h3v1h-3zM22 768h1v1h-1zM247 768h1v1h-1zM334 768h1v1h-1zM829 768h2v1h-2zM910 768h1v1h-1zM1121 768h6v1h-6zM1133 768h2v1h-2zM21 769h1v1h-1zM247 769h1v1h-1zM333 769h1v1h-1zM831 769h1v1h-1zM909 769h1v1h-1zM1127 769h6v1h-6zM21 770h1v1h-1zM248 770h1v1h-1zM332 770h1v1h-1zM832 770h1v1h-1zM909 770h1v1h-1zM20 771h1v1h-1zM248 771h1v1h-1zM332 771h1v1h-1zM833 771h2v1h-2zM908 771h1v1h-1zM19 772h1v1h-1zM249 772h1v1h-1zM331 772h1v1h-1zM835 772h1v1h-1zM908 772h1v1h-1zM18 773h1v1h-1zM249 773h1v1h-1zM330 773h1v1h-1zM836 773h2v1h-2zM907 773h1v1h-1zM17 774h1v1h-1zM250 774h1v1h-1zM329 774h1v1h-1zM838 774h1v1h-1zM906 774h1v1h-1zM17 775h1v1h-1zM250 775h1v1h-1zM328 775h1v1h-1zM839 775h2v1h-2zM906 775h1v1h-1zM16 776h1v1h-1zM251 776h1v1h-1zM327 776h1v1h-1zM841 776h2v1h-2zM905 776h1v1h-1zM15 777h1v1h-1zM252 777h1v1h-1zM327 777h1v1h-1zM843 777h1v1h-1zM904 777h1v1h-1zM14 778h1v1h-1zM252 778h1v1h-1zM326 778h1v1h-1zM844 778h1v1h-1zM904 778h1v1h-1zM13 779h1v1h-1zM253 779h1v1h-1zM325 779h1v1h-1zM845 779h2v1h-2zM903 779h1v1h-1zM13 780h1v1h-1zM254 780h1v1h-1zM324 780h1v1h-1zM847 780h1v1h-1zM902 780h1v1h-1zM12 781h1v1h-1zM255 781h1v1h-1zM323 781h1v1h-1zM848 781h1v1h-1zM902 781h1v1h-1zM11 782h1v1h-1zM255 782h1v1h-1zM321 782h2v1h-2zM849 782h2v1h-2zM901 782h1v1h-1zM10 783h1v1h-1zM256 783h1v1h-1zM320 783h1v1h-1zM851 783h1v1h-1zM900 783h1v1h-1zM9 784h1v1h-1zM257 784h1v1h-1zM319 784h1v1h-1zM852 784h1v1h-1zM900 784h1v1h-1zM9 785h1v1h-1zM258 785h1v1h-1zM317 785h2v1h-2zM853 785h2v1h-2zM899 785h1v1h-1zM8 786h1v1h-1zM258 786h1v1h-1zM316 786h1v1h-1zM855 786h1v1h-1zM898 786h1v1h-1zM7 787h1v1h-1zM259 787h1v1h-1zM315 787h1v1h-1zM856 787h1v1h-1zM897 787h1v1h-1zM6 788h1v1h-1zM260 788h1v1h-1zM313 788h2v1h-2zM857 788h2v1h-2zM896 788h1v1h-1zM5 789h1v1h-1zM261 789h1v1h-1zM311 789h2v1h-2zM859 789h1v1h-1zM895 789h1v1h-1zM5 790h1v1h-1zM262 790h1v1h-1zM310 790h1v1h-1zM860 790h1v1h-1zM894 790h1v1h-1zM4 791h1v1h-1zM263 791h1v1h-1zM308 791h2v1h-2zM861 791h2v1h-2zM893 791h1v1h-1zM3 792h1v1h-1zM264 792h1v1h-1zM306 792h2v1h-2zM863 792h1v1h-1zM892 792h1v1h-1zM265 793h1v1h-1zM303 793h3v1h-3zM864 793h1v1h-1zM890 793h2v1h-2zM266 794h1v1h-1zM301 794h2v1h-2zM865 794h2v1h-2zM888 794h2v1h-2zM267 795h2v1h-2zM295 795h6v1h-6zM867 795h2v1h-2zM886 795h2v1h-2zM269 796h2v1h-2zM289 796h6v1h-6zM869 796h4v1h-4zM884 796h2v1h-2zM271 797h3v1h-3zM285 797h4v1h-4zM873 797h11v1h-11zM274 798h11v1h-11z"/>
</g>
<g shape-rendering="crispEdges" stroke="#000">
<line x1="1503" y1="42.5" x2="1505" y2="42.5"/>
<line x1="1503" y1="91.5" x2="1505" y2="91.5"/>
<line x1="1503" y1="140.5" x2="1505" y2="140.5"/>
<line x1="1503" y1="189.5" x2="1505" y2="189.5"/>
<line x1="1503" y1="238.5" x2="1505" y2="238.5"/>
<line x1="1503" y1="287.5" x2="1505" y2="287.5"/>
<line x1="1503" y1="336.5" x2="1505" y2="336.5"/>
<line x1="1503" y1="385.5" x2="1505" y2="385.5"/>
<line x1="1503" y1="434.5" x2="1505" y2="434.5"/>
<line x1="1503" y1="483.5" x2="1505" y2="483.5"/>
<line x1="1503" y1="532.5" x2="1505" y2="532.5"/>
<line x1="1503" y1="555.5" x2="1504" y2="555.5"/>
<line x1="1503" y1="744.5" x2="1505" y2="744.5"/>
<line x1="3.5" y1="827" x2="3.5" y2="831"/>
<line x1="99.5" y1="827" x2="99.5" y2="831"/>
<line x1="195.5" y1="827" x2="195.5" y2="831"/>
<line x1="291.5" y1="827" x2="291.5" y2="831"/>
<line x1="387.5" y1="827" x2="387.5" y2="831"/>
<line x1="483.5" y1="827" x2="483.5" y2="831"/>
<line x1="579.5" y1="827" x2="579.5" y2="831"/>
<line x1="675.5" y1="827" x2="675.5" y2="831"/>
<line x1="771.5" y1="827" x2="771.5" y2="831"/>
<line x1="867.5" y1="827" x2="867.5" y2="831"/>
<line x1="963.5" y1="827" x2="963.5" y2="831"/>
<line x1="1059.5" y1="827" x2="1059.5" y2="831"/>
<line x1="1155.5" y1="827" x2="1155.5" y2="831"/>
<line x1="1251.5" y1="827" x2="1251.5" y2="831"/>
<line x1="1347.5" y1="827" x2="1347.5" y2="831"/>
<line x1="1443.5" y1="827" x2="1443.5" y2="831"/>
</g>
<g>
<text x="1509" y="47">1.37450</text>
<text x="1509" y="96">1.36900</text>
<text x="1509" y="145">1.36340</text>
<text x="1509" y="194">1.35790</text>
<text x="1509" y="243">1.35240</text>
<text x="1509" y="292">1.34690</text>
<text x="1509" y="341">1.34140</text>
<text x="1509" y="390">1.33590</text>
<text x="1509" y="439">1.33040</text>
<text x="1509" y="488">1.32490</text>
<text x="1509" y="537">1.31940</text>
<rect x="1504" y="24" width="56" height="14" fill="#ff0000"/>
<text x="1509" y="36" style="fill:#fff">1.37577</text>
<rect x="1504" y="67" width="56" height="14" fill="#000"/>
<text x="1509" y="79" style="fill:#fff">1.37085</text>
<text x="1506" y="567">0.006871</text>
<text x="1506" y="749">0.00</text>
<text x="1506" y="822">-0.002935</text>
</g>
<g>
<text x="2" y="842">15 Dec 2020</text>
<text x="98" y="842">17 Dec 04:00</text>
<text x="194" y="842">21 Dec 04:00</text>
<text x="290" y="842">23 Dec 04:00</text>
<text x="386" y="842">28 Dec 04:00</text>
<text x="482" y="842">30 Dec 04:00</text>
<text x="578" y="842">4 Jan 04:00</text>
<text x="674" y="842">6 Jan 04:00</text>
<text x="770" y="842">8 Jan 04:00</text>
<text x="866" y="842">12 Jan 04:00</text>
<text x="962" y="842">14 Jan 04:00</text>
<text x="1058" y="842">18 Jan 04:00</text>
<text x="1154" y="842">20 Jan 04:00</text>
<text x="1250" y="842">22 Jan 04:00</text>
<text x="1346" y="842">26 Jan 04:00</text>
<text x="1442" y="842">28 Jan 04:00</text>
</g>
<path d="M6,10 H15 L10.5,15 Z" fill="#000" shape-rendering="crispEdges"/>
<text x="21" y="17" style="letter-spacing:0.2px">GBPUSD,H4</text>
<text x="93" y="17">1.37204</text>
<text x="143" y="17">1.37302</text>
<text x="193" y="17">1.37068</text>
<text x="243" y="17">1.37085</text>
<text x="7" y="569">MACD(12,26,9)</text>
<text x="96" y="569">0.000614</text>
<text x="153.5" y="569">0.000669</text>
<text x="214" y="569">-&gt;MA(1)</text>
<text x="264.5" y="569">0.000614</text>
</svg></body></html>
